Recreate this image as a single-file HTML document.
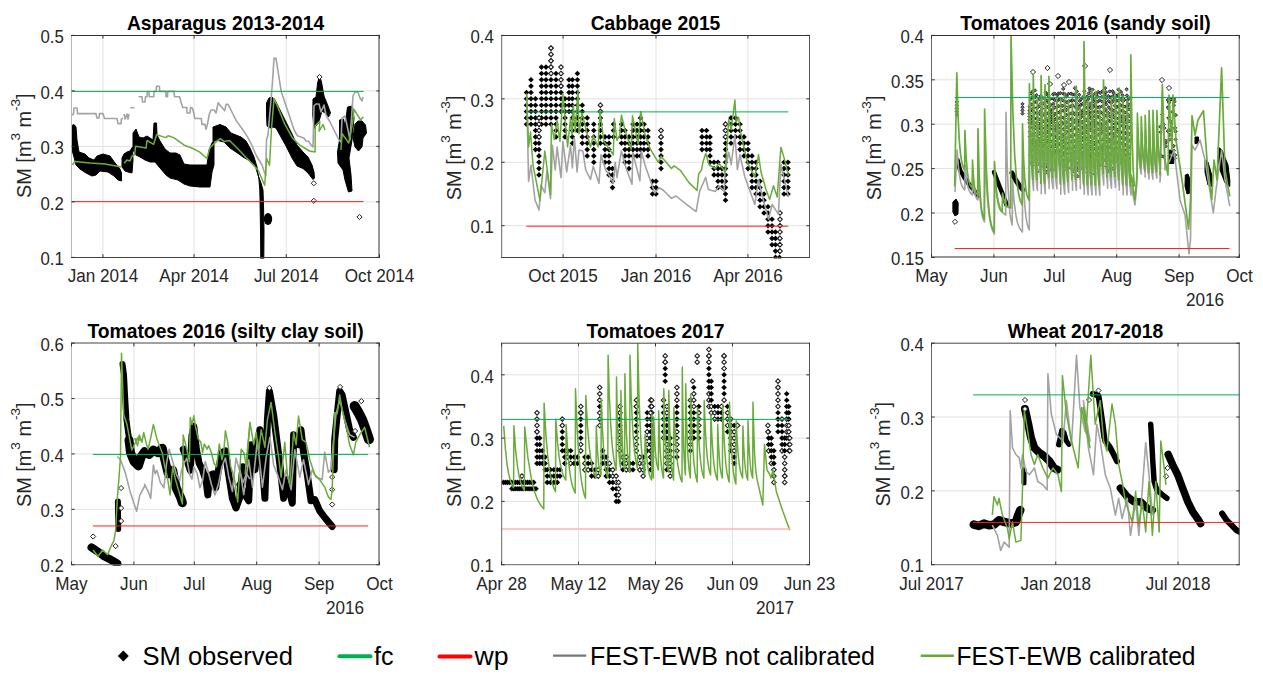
<!DOCTYPE html>
<html><head><meta charset="utf-8"><style>
html,body{margin:0;padding:0;background:#fff;width:1263px;height:683px;overflow:hidden}
svg{display:block}
text{font-family:"Liberation Sans", sans-serif;fill:#262626}
.tk{font-size:17.4px}
.ti{font-size:19.3px;font-weight:bold;fill:#000}
.yl{font-size:19.9px}
.sup{font-size:13.5px}
.lg{font-size:25px;fill:#000}
</style></head><body>
<svg width="1263" height="683" viewBox="0 0 1263 683">
<rect width="1263" height="683" fill="#fff"/>
<line x1="71.5" y1="201.90" x2="379.5" y2="201.90" stroke="#e2e2e2" stroke-width="1"/>
<line x1="71.5" y1="146.40" x2="379.5" y2="146.40" stroke="#e2e2e2" stroke-width="1"/>
<line x1="71.5" y1="90.90" x2="379.5" y2="90.90" stroke="#e2e2e2" stroke-width="1"/>
<line x1="102.91" y1="35.4" x2="102.91" y2="257.4" stroke="#e2e2e2" stroke-width="1"/>
<line x1="194.09" y1="35.4" x2="194.09" y2="257.4" stroke="#e2e2e2" stroke-width="1"/>
<line x1="286.29" y1="35.4" x2="286.29" y2="257.4" stroke="#e2e2e2" stroke-width="1"/>
<clipPath id="c1"><rect x="71.5" y="35.4" width="308.0" height="222.99999999999997"/></clipPath>
<g clip-path="url(#c1)">
<polygon points="71.0,126.0 74.0,124.5 76.0,127.0 77.0,140.0 79.0,152.0 85.0,154.0 89.0,158.0 94.0,160.0 97.0,156.0 103.0,154.0 110.0,156.0 115.0,163.0 120.0,169.0 121.5,173.0 121.5,181.0 118.0,180.0 114.0,176.0 108.0,172.0 100.0,171.0 96.0,175.0 92.0,176.0 86.0,173.0 80.0,169.0 76.0,165.0 74.0,157.0 72.0,150.0 71.0,145.0" fill="#000" stroke="#000" stroke-width="1" stroke-linejoin="round"/>
<polygon points="122.0,158.0 124.0,154.0 127.0,152.0 130.0,151.0 132.5,147.0 133.0,160.0 132.0,173.0 128.0,172.0 125.0,171.0 122.0,167.0" fill="#000" stroke="#000" stroke-width="1" stroke-linejoin="round"/>
<polygon points="133.0,133.0 136.0,129.0 139.0,137.0 143.0,138.0 147.0,136.0 150.0,138.0 153.0,140.0 154.0,123.0 156.5,123.0 157.0,135.0 160.0,141.0 165.0,149.0 170.0,153.0 176.0,153.0 180.0,155.0 184.0,164.0 190.0,165.0 200.0,165.0 207.0,165.0 209.0,150.0 212.0,143.0 214.0,140.0 214.0,165.0 212.0,172.0 210.0,187.0 205.0,187.0 200.0,187.0 190.0,186.0 184.0,184.0 178.0,180.0 170.0,178.0 166.0,175.0 160.0,168.0 155.0,162.0 150.0,162.0 145.0,160.0 140.0,157.0 136.0,155.0 133.0,150.0" fill="#000" stroke="#000" stroke-width="1" stroke-linejoin="round"/>
<polygon points="213.0,127.0 220.0,124.5 226.0,127.0 231.0,133.0 236.0,135.0 241.0,137.0 246.0,141.0 250.0,148.0 254.0,157.0 257.0,167.0 259.0,180.0 259.8,190.0 260.0,200.0 260.5,230.0 260.8,259.0 263.8,259.0 264.0,230.0 263.5,205.0 263.0,190.0 261.0,183.0 258.0,175.0 255.0,165.0 250.0,161.0 243.0,157.0 236.0,152.0 230.0,148.0 224.0,142.0 218.0,140.5 213.0,141.0" fill="#000" stroke="#000" stroke-width="1" stroke-linejoin="round"/>
<polygon points="266.5,103.0 269.0,98.0 272.0,97.0 275.0,100.0 280.0,110.0 286.0,122.0 292.0,134.0 297.0,145.0 303.0,152.0 308.0,157.0 312.0,165.0 314.0,172.0 314.5,178.0 313.0,179.5 308.0,173.0 303.0,168.5 297.0,166.0 292.0,158.0 286.0,146.0 281.0,137.0 276.0,128.0 273.0,127.0 270.0,128.0 267.0,126.0 266.5,115.0" fill="#000" stroke="#000" stroke-width="1" stroke-linejoin="round"/>
<polygon points="313.0,99.0 316.0,97.0 317.6,83.0 319.5,76.0 321.5,82.0 324.0,96.0 328.0,106.0 330.5,113.0 328.5,117.0 325.0,113.0 322.0,111.0 318.5,123.0 314.0,128.5 312.8,115.0" fill="#000" stroke="#000" stroke-width="1" stroke-linejoin="round"/>
<polygon points="339.5,120.0 343.5,119.0 345.0,126.0 347.5,107.0 352.5,106.0 354.0,118.0 352.0,140.0 349.0,158.0 351.0,175.0 352.0,191.0 348.5,192.0 345.0,180.0 343.0,170.0 338.0,163.0 337.5,152.0 339.5,140.0" fill="#000" stroke="#000" stroke-width="1" stroke-linejoin="round"/>
<polygon points="355.0,124.0 358.0,121.0 362.0,121.0 365.5,125.0 366.5,133.0 363.0,138.0 362.0,147.0 358.5,151.0 355.0,147.0 353.0,138.0" fill="#000" stroke="#000" stroke-width="1" stroke-linejoin="round"/>
<ellipse cx="268" cy="219" rx="4.2" ry="6" fill="#000"/>
<path d="M313.8 180.7l2.6 2.6l-2.6 2.6l-2.6 -2.6z" fill="#fff" stroke="#222" stroke-width="1"/>
<path d="M313.8 198.2l2.6 2.6l-2.6 2.6l-2.6 -2.6z" fill="#fff" stroke="#222" stroke-width="1"/>
<path d="M359.5 214.4l2.6 2.6l-2.6 2.6l-2.6 -2.6z" fill="#fff" stroke="#222" stroke-width="1"/>
<path d="M319.5 74.4l2.6 2.6l-2.6 2.6l-2.6 -2.6z" fill="#fff" stroke="#222" stroke-width="1"/>
<polyline points="72.0,115.0 73.5,114.0 74.0,108.0 77.0,108.0 77.5,113.6 96.0,113.6 97.0,118.0 99.0,118.0 99.5,113.6 103.0,113.6 104.5,118.5 117.0,118.5 118.0,123.6 121.0,123.6 121.5,118.5 123.0,118.5" fill="none" stroke="#a3a3a3" stroke-width="1.6" stroke-linejoin="round"/>
<polyline points="124.0,114.0 125.0,119.0 127.0,114.0 128.0,119.0 129.0,114.0" fill="none" stroke="#a3a3a3" stroke-width="1.6" stroke-linejoin="round"/>
<polyline points="130.4,107.8 134.5,107.8" fill="none" stroke="#a3a3a3" stroke-width="1.6" stroke-linejoin="round"/>
<polyline points="138.5,96.7 142.0,96.7 142.5,102.0 145.0,102.0 145.5,96.7 147.0,96.7 147.3,91.7 149.0,91.7 149.3,96.7 153.8,96.7 154.0,91.4 156.2,91.4 156.4,86.2 159.4,86.2 159.6,91.4 165.8,91.4 166.0,96.7 167.5,96.7 167.7,91.4 174.0,91.4 174.5,96.7 179.6,96.7 181.2,102.7 182.8,107.5 186.8,107.5 187.0,113.0 190.0,113.0 190.5,107.5 192.5,108.3 194.0,114.0 194.9,118.5 201.3,118.5 202.0,124.4 205.0,124.4 206.0,129.3 207.5,124.0 209.4,114.0 211.0,110.0 214.0,110.0 216.0,113.0 218.2,102.7 221.5,107.0 224.8,110.7 226.0,104.3 228.0,104.3 229.7,107.5 236.1,120.4 244.2,131.7 248.2,138.1 252.2,146.0 256.0,155.0 262.0,165.0 265.7,175.7 266.5,140.0 268.0,135.0 272.4,83.3 274.0,58.4 276.0,58.4 281.2,91.4 287.7,110.7 294.1,130.0 297.3,135.7 303.8,138.0 306.0,141.0 308.6,141.3 311.0,145.0 313.0,147.0 314.0,106.0 316.0,104.0 319.0,104.0 321.0,112.0 324.0,105.0 326.0,115.0 330.0,122.0 335.0,132.0 339.0,140.0 341.0,142.0 342.0,118.0 345.0,116.0 348.0,130.0 350.0,140.0 351.0,125.0 353.0,96.0 355.0,92.0 358.0,92.5 360.0,98.0 362.0,101.0 363.0,97.0" fill="none" stroke="#a3a3a3" stroke-width="1.6" stroke-linejoin="round"/>
<polyline points="72.5,165.0 74.8,161.4 90.0,163.0 105.0,164.0 121.4,167.0" fill="none" stroke="#6aab3c" stroke-width="1.5" stroke-linejoin="round"/>
<polyline points="124.2,163.3 127.0,160.0 130.0,161.0 132.0,156.0 134.7,154.7 135.6,146.2 146.1,148.0 147.0,140.5 153.7,144.3 156.6,134.8 166.1,137.6 168.0,135.7 173.7,137.6 184.2,145.2 191.8,148.0 199.4,151.9 207.0,158.5 209.8,148.0 216.5,141.4 220.3,138.6 224.1,141.4 229.5,140.5 239.0,150.0 258.0,170.0 264.7,185.2 266.6,158.5 269.5,165.2 271.4,130.0 274.0,98.6 278.0,107.5 284.5,123.6 292.5,138.1 299.9,145.2 309.4,151.0 315.1,151.9 315.2,125.9 319.8,121.3 319.1,131.2 323.0,124.6 325.0,130.0" fill="none" stroke="#6aab3c" stroke-width="1.5" stroke-linejoin="round"/>
<polyline points="340.9,150.0 342.2,133.8 348.8,143.0 352.7,122.0 354.0,109.4 360.6,120.0 363.3,116.7" fill="none" stroke="#6aab3c" stroke-width="1.5" stroke-linejoin="round"/>
<line x1="72" y1="91.40" x2="363.5" y2="91.40" stroke="#00b050" stroke-width="1"/>
<line x1="72" y1="201.60" x2="363.5" y2="201.60" stroke="#ff2020" stroke-width="1"/>
</g>
<line x1="71.5" y1="35.0" x2="71.5" y2="258.0" stroke="#b8b8b8" stroke-width="1"/>
<line x1="379.0" y1="35.0" x2="379.0" y2="258.0" stroke="#333" stroke-width="1"/>
<line x1="71.0" y1="35.5" x2="379.5" y2="35.5" stroke="#333" stroke-width="1"/>
<line x1="71.0" y1="257.5" x2="379.5" y2="257.5" stroke="#404040" stroke-width="1"/>
<path d="M71.5 257.40h3.2M379.5 257.40h-3.2" stroke="#333" stroke-width="1"/>
<text transform="translate(63.8,265.10) scale(0.965,1.09)" text-anchor="end" class="tk">0.1</text>
<path d="M71.5 201.90h3.2M379.5 201.90h-3.2" stroke="#333" stroke-width="1"/>
<text transform="translate(63.8,209.60) scale(0.965,1.09)" text-anchor="end" class="tk">0.2</text>
<path d="M71.5 146.40h3.2M379.5 146.40h-3.2" stroke="#333" stroke-width="1"/>
<text transform="translate(63.8,154.10) scale(0.965,1.09)" text-anchor="end" class="tk">0.3</text>
<path d="M71.5 90.90h3.2M379.5 90.90h-3.2" stroke="#333" stroke-width="1"/>
<text transform="translate(63.8,98.60) scale(0.965,1.09)" text-anchor="end" class="tk">0.4</text>
<path d="M71.5 35.40h3.2M379.5 35.40h-3.2" stroke="#333" stroke-width="1"/>
<text transform="translate(63.8,43.10) scale(0.965,1.09)" text-anchor="end" class="tk">0.5</text>
<path d="M102.91 257.4v-3.2M102.91 35.4v3.2" stroke="#333" stroke-width="1"/>
<text transform="translate(102.91,281.80) scale(0.985,1.09)" text-anchor="middle" class="tk">Jan 2014</text>
<path d="M194.09 257.4v-3.2M194.09 35.4v3.2" stroke="#333" stroke-width="1"/>
<text transform="translate(194.09,281.80) scale(0.985,1.09)" text-anchor="middle" class="tk">Apr 2014</text>
<path d="M286.29 257.4v-3.2M286.29 35.4v3.2" stroke="#333" stroke-width="1"/>
<text transform="translate(286.29,281.80) scale(0.985,1.09)" text-anchor="middle" class="tk">Jul 2014</text>
<path d="M379.50 257.4v-3.2M379.50 35.4v3.2" stroke="#333" stroke-width="1"/>
<text transform="translate(379.50,281.80) scale(0.985,1.09)" text-anchor="middle" class="tk">Oct 2014</text>
<text x="225.50" y="30.20" text-anchor="middle" class="ti">Asparagus 2013-2014</text>
<text transform="translate(30.9,145.7) rotate(-90)" text-anchor="middle" class="yl">SM [m<tspan class="sup" dy="-10.7">3</tspan><tspan dy="10.7"> m</tspan><tspan class="sup" dy="-10.7">-3</tspan><tspan dy="10.7">]</tspan></text>
<line x1="501.5" y1="225.69" x2="809.5" y2="225.69" stroke="#e2e2e2" stroke-width="1"/>
<line x1="501.5" y1="162.26" x2="809.5" y2="162.26" stroke="#e2e2e2" stroke-width="1"/>
<line x1="501.5" y1="98.83" x2="809.5" y2="98.83" stroke="#e2e2e2" stroke-width="1"/>
<line x1="563.10" y1="35.4" x2="563.10" y2="257.4" stroke="#e2e2e2" stroke-width="1"/>
<line x1="656.00" y1="35.4" x2="656.00" y2="257.4" stroke="#e2e2e2" stroke-width="1"/>
<line x1="747.90" y1="35.4" x2="747.90" y2="257.4" stroke="#e2e2e2" stroke-width="1"/>
<clipPath id="c2"><rect x="501.5" y="35.4" width="308.0" height="222.99999999999997"/></clipPath>
<g clip-path="url(#c2)">
<path d="M526.5 121.4l2.8 2.8l-2.8 2.8l-2.8 -2.8z" fill="#000"/>
<path d="M526.5 115.1l2.8 2.8l-2.8 2.8l-2.8 -2.8z" fill="#000"/>
<path d="M526.5 108.7l2.8 2.8l-2.8 2.8l-2.8 -2.8z" fill="#000"/>
<path d="M526.5 102.4l2.8 2.8l-2.8 2.8l-2.8 -2.8z" fill="#000"/>
<path d="M526.5 96.0l2.8 2.8l-2.8 2.8l-2.8 -2.8z" fill="#000"/>
<path d="M526.5 89.7l2.8 2.8l-2.8 2.8l-2.8 -2.8z" fill="#000"/>
<path d="M531.0 121.4l2.8 2.8l-2.8 2.8l-2.8 -2.8z" fill="#000"/>
<path d="M531.0 115.1l2.8 2.8l-2.8 2.8l-2.8 -2.8z" fill="#000"/>
<path d="M531.0 108.7l2.8 2.8l-2.8 2.8l-2.8 -2.8z" fill="#000"/>
<path d="M531.0 102.4l2.8 2.8l-2.8 2.8l-2.8 -2.8z" fill="#000"/>
<path d="M531.0 96.0l2.8 2.8l-2.8 2.8l-2.8 -2.8z" fill="#000"/>
<path d="M531.0 89.7l2.8 2.8l-2.8 2.8l-2.8 -2.8z" fill="#000"/>
<path d="M531.0 83.3l2.8 2.8l-2.8 2.8l-2.8 -2.8z" fill="#000"/>
<path d="M531.0 77.0l2.8 2.8l-2.8 2.8l-2.8 -2.8z" fill="#000"/>
<path d="M535.5 146.8l2.8 2.8l-2.8 2.8l-2.8 -2.8z" fill="#000"/>
<path d="M535.5 140.4l2.8 2.8l-2.8 2.8l-2.8 -2.8z" fill="#000"/>
<path d="M535.5 134.1l2.8 2.8l-2.8 2.8l-2.8 -2.8z" fill="#000"/>
<path d="M535.5 127.7l2.8 2.8l-2.8 2.8l-2.8 -2.8z" fill="#000"/>
<path d="M535.5 121.4l2.8 2.8l-2.8 2.8l-2.8 -2.8z" fill="#000"/>
<path d="M535.5 115.1l2.8 2.8l-2.8 2.8l-2.8 -2.8z" fill="#000"/>
<path d="M535.5 108.7l2.8 2.8l-2.8 2.8l-2.8 -2.8z" fill="#000"/>
<path d="M535.5 102.4l2.8 2.8l-2.8 2.8l-2.8 -2.8z" fill="#000"/>
<path d="M535.5 96.0l2.8 2.8l-2.8 2.8l-2.8 -2.8z" fill="#000"/>
<path d="M539.0 172.1l2.8 2.8l-2.8 2.8l-2.8 -2.8z" fill="#000"/>
<path d="M539.0 165.8l2.8 2.8l-2.8 2.8l-2.8 -2.8z" fill="#000"/>
<path d="M539.0 159.5l2.8 2.8l-2.8 2.8l-2.8 -2.8z" fill="#000"/>
<path d="M539.0 153.1l2.8 2.8l-2.8 2.8l-2.8 -2.8z" fill="#000"/>
<path d="M539.0 146.8l2.8 2.8l-2.8 2.8l-2.8 -2.8z" fill="#000"/>
<path d="M539.0 140.4l2.8 2.8l-2.8 2.8l-2.8 -2.8z" fill="#000"/>
<path d="M539.0 134.1l2.8 2.8l-2.8 2.8l-2.8 -2.8z" fill="#000"/>
<path d="M539.0 127.7l2.8 2.8l-2.8 2.8l-2.8 -2.8z" fill="#000"/>
<path d="M539.0 121.4l2.8 2.8l-2.8 2.8l-2.8 -2.8z" fill="#000"/>
<path d="M539.0 115.1l2.8 2.8l-2.8 2.8l-2.8 -2.8z" fill="#000"/>
<path d="M541.5 121.4l2.8 2.8l-2.8 2.8l-2.8 -2.8z" fill="#000"/>
<path d="M541.5 115.1l2.8 2.8l-2.8 2.8l-2.8 -2.8z" fill="#000"/>
<path d="M541.5 108.7l2.8 2.8l-2.8 2.8l-2.8 -2.8z" fill="#000"/>
<path d="M541.5 102.4l2.8 2.8l-2.8 2.8l-2.8 -2.8z" fill="#000"/>
<path d="M541.5 96.0l2.8 2.8l-2.8 2.8l-2.8 -2.8z" fill="#000"/>
<path d="M541.5 89.7l2.8 2.8l-2.8 2.8l-2.8 -2.8z" fill="#000"/>
<path d="M541.5 83.3l2.8 2.8l-2.8 2.8l-2.8 -2.8z" fill="#000"/>
<path d="M541.5 77.0l2.8 2.8l-2.8 2.8l-2.8 -2.8z" fill="#000"/>
<path d="M541.5 70.7l2.8 2.8l-2.8 2.8l-2.8 -2.8z" fill="#000"/>
<path d="M541.5 64.3l2.8 2.8l-2.8 2.8l-2.8 -2.8z" fill="#000"/>
<path d="M546.0 121.4l2.8 2.8l-2.8 2.8l-2.8 -2.8z" fill="#000"/>
<path d="M546.0 115.1l2.8 2.8l-2.8 2.8l-2.8 -2.8z" fill="#000"/>
<path d="M546.0 108.7l2.8 2.8l-2.8 2.8l-2.8 -2.8z" fill="#000"/>
<path d="M546.0 102.4l2.8 2.8l-2.8 2.8l-2.8 -2.8z" fill="#000"/>
<path d="M546.0 96.0l2.8 2.8l-2.8 2.8l-2.8 -2.8z" fill="#000"/>
<path d="M546.0 89.7l2.8 2.8l-2.8 2.8l-2.8 -2.8z" fill="#000"/>
<path d="M546.0 83.3l2.8 2.8l-2.8 2.8l-2.8 -2.8z" fill="#000"/>
<path d="M546.0 77.0l2.8 2.8l-2.8 2.8l-2.8 -2.8z" fill="#000"/>
<path d="M546.0 70.7l2.8 2.8l-2.8 2.8l-2.8 -2.8z" fill="#000"/>
<path d="M546.0 64.3l2.8 2.8l-2.8 2.8l-2.8 -2.8z" fill="#000"/>
<path d="M551.0 121.4l2.8 2.8l-2.8 2.8l-2.8 -2.8z" fill="#000"/>
<path d="M551.0 115.1l2.8 2.8l-2.8 2.8l-2.8 -2.8z" fill="#000"/>
<path d="M551.0 108.7l2.8 2.8l-2.8 2.8l-2.8 -2.8z" fill="#000"/>
<path d="M551.0 102.4l2.8 2.8l-2.8 2.8l-2.8 -2.8z" fill="#000"/>
<path d="M551.0 96.0l2.8 2.8l-2.8 2.8l-2.8 -2.8z" fill="#000"/>
<path d="M551.0 89.7l2.8 2.8l-2.8 2.8l-2.8 -2.8z" fill="#000"/>
<path d="M551.0 83.3l2.8 2.8l-2.8 2.8l-2.8 -2.8z" fill="#000"/>
<path d="M551.0 77.0l2.8 2.8l-2.8 2.8l-2.8 -2.8z" fill="#000"/>
<path d="M551.0 70.7l2.8 2.8l-2.8 2.8l-2.8 -2.8z" fill="#000"/>
<path d="M551.0 64.3l2.8 2.8l-2.8 2.8l-2.8 -2.8z" fill="#000"/>
<path d="M551.0 58.0l2.8 2.8l-2.8 2.8l-2.8 -2.8z" fill="#000"/>
<path d="M551.0 51.6l2.8 2.8l-2.8 2.8l-2.8 -2.8z" fill="#000"/>
<path d="M551.0 45.3l2.8 2.8l-2.8 2.8l-2.8 -2.8z" fill="#000"/>
<path d="M556.0 134.1l2.8 2.8l-2.8 2.8l-2.8 -2.8z" fill="#000"/>
<path d="M556.0 127.7l2.8 2.8l-2.8 2.8l-2.8 -2.8z" fill="#000"/>
<path d="M556.0 121.4l2.8 2.8l-2.8 2.8l-2.8 -2.8z" fill="#000"/>
<path d="M556.0 115.1l2.8 2.8l-2.8 2.8l-2.8 -2.8z" fill="#000"/>
<path d="M556.0 108.7l2.8 2.8l-2.8 2.8l-2.8 -2.8z" fill="#000"/>
<path d="M556.0 102.4l2.8 2.8l-2.8 2.8l-2.8 -2.8z" fill="#000"/>
<path d="M556.0 96.0l2.8 2.8l-2.8 2.8l-2.8 -2.8z" fill="#000"/>
<path d="M556.0 89.7l2.8 2.8l-2.8 2.8l-2.8 -2.8z" fill="#000"/>
<path d="M556.0 83.3l2.8 2.8l-2.8 2.8l-2.8 -2.8z" fill="#000"/>
<path d="M556.0 77.0l2.8 2.8l-2.8 2.8l-2.8 -2.8z" fill="#000"/>
<path d="M556.0 70.7l2.8 2.8l-2.8 2.8l-2.8 -2.8z" fill="#000"/>
<path d="M561.0 108.7l2.8 2.8l-2.8 2.8l-2.8 -2.8z" fill="#000"/>
<path d="M561.0 102.4l2.8 2.8l-2.8 2.8l-2.8 -2.8z" fill="#000"/>
<path d="M561.0 96.0l2.8 2.8l-2.8 2.8l-2.8 -2.8z" fill="#000"/>
<path d="M561.0 89.7l2.8 2.8l-2.8 2.8l-2.8 -2.8z" fill="#000"/>
<path d="M561.0 83.3l2.8 2.8l-2.8 2.8l-2.8 -2.8z" fill="#000"/>
<path d="M565.0 134.1l2.8 2.8l-2.8 2.8l-2.8 -2.8z" fill="#000"/>
<path d="M565.0 127.7l2.8 2.8l-2.8 2.8l-2.8 -2.8z" fill="#000"/>
<path d="M565.0 121.4l2.8 2.8l-2.8 2.8l-2.8 -2.8z" fill="#000"/>
<path d="M565.0 115.1l2.8 2.8l-2.8 2.8l-2.8 -2.8z" fill="#000"/>
<path d="M565.0 108.7l2.8 2.8l-2.8 2.8l-2.8 -2.8z" fill="#000"/>
<path d="M565.0 102.4l2.8 2.8l-2.8 2.8l-2.8 -2.8z" fill="#000"/>
<path d="M565.0 96.0l2.8 2.8l-2.8 2.8l-2.8 -2.8z" fill="#000"/>
<path d="M569.0 108.7l2.8 2.8l-2.8 2.8l-2.8 -2.8z" fill="#000"/>
<path d="M569.0 102.4l2.8 2.8l-2.8 2.8l-2.8 -2.8z" fill="#000"/>
<path d="M569.0 96.0l2.8 2.8l-2.8 2.8l-2.8 -2.8z" fill="#000"/>
<path d="M569.0 89.7l2.8 2.8l-2.8 2.8l-2.8 -2.8z" fill="#000"/>
<path d="M569.0 83.3l2.8 2.8l-2.8 2.8l-2.8 -2.8z" fill="#000"/>
<path d="M569.0 77.0l2.8 2.8l-2.8 2.8l-2.8 -2.8z" fill="#000"/>
<path d="M572.4 140.4l2.8 2.8l-2.8 2.8l-2.8 -2.8z" fill="#000"/>
<path d="M572.4 134.1l2.8 2.8l-2.8 2.8l-2.8 -2.8z" fill="#000"/>
<path d="M572.4 127.7l2.8 2.8l-2.8 2.8l-2.8 -2.8z" fill="#000"/>
<path d="M572.4 121.4l2.8 2.8l-2.8 2.8l-2.8 -2.8z" fill="#000"/>
<path d="M572.4 115.1l2.8 2.8l-2.8 2.8l-2.8 -2.8z" fill="#000"/>
<path d="M572.4 108.7l2.8 2.8l-2.8 2.8l-2.8 -2.8z" fill="#000"/>
<path d="M572.4 102.4l2.8 2.8l-2.8 2.8l-2.8 -2.8z" fill="#000"/>
<path d="M572.4 96.0l2.8 2.8l-2.8 2.8l-2.8 -2.8z" fill="#000"/>
<path d="M572.4 89.7l2.8 2.8l-2.8 2.8l-2.8 -2.8z" fill="#000"/>
<path d="M572.4 83.3l2.8 2.8l-2.8 2.8l-2.8 -2.8z" fill="#000"/>
<path d="M572.4 77.0l2.8 2.8l-2.8 2.8l-2.8 -2.8z" fill="#000"/>
<path d="M577.4 127.7l2.8 2.8l-2.8 2.8l-2.8 -2.8z" fill="#000"/>
<path d="M577.4 121.4l2.8 2.8l-2.8 2.8l-2.8 -2.8z" fill="#000"/>
<path d="M577.4 115.1l2.8 2.8l-2.8 2.8l-2.8 -2.8z" fill="#000"/>
<path d="M577.4 108.7l2.8 2.8l-2.8 2.8l-2.8 -2.8z" fill="#000"/>
<path d="M577.4 102.4l2.8 2.8l-2.8 2.8l-2.8 -2.8z" fill="#000"/>
<path d="M577.4 96.0l2.8 2.8l-2.8 2.8l-2.8 -2.8z" fill="#000"/>
<path d="M577.4 89.7l2.8 2.8l-2.8 2.8l-2.8 -2.8z" fill="#000"/>
<path d="M577.4 83.3l2.8 2.8l-2.8 2.8l-2.8 -2.8z" fill="#000"/>
<path d="M577.4 77.0l2.8 2.8l-2.8 2.8l-2.8 -2.8z" fill="#000"/>
<path d="M577.4 70.7l2.8 2.8l-2.8 2.8l-2.8 -2.8z" fill="#000"/>
<path d="M582.3 140.4l2.8 2.8l-2.8 2.8l-2.8 -2.8z" fill="#000"/>
<path d="M582.3 134.1l2.8 2.8l-2.8 2.8l-2.8 -2.8z" fill="#000"/>
<path d="M582.3 127.7l2.8 2.8l-2.8 2.8l-2.8 -2.8z" fill="#000"/>
<path d="M582.3 121.4l2.8 2.8l-2.8 2.8l-2.8 -2.8z" fill="#000"/>
<path d="M582.3 115.1l2.8 2.8l-2.8 2.8l-2.8 -2.8z" fill="#000"/>
<path d="M582.3 108.7l2.8 2.8l-2.8 2.8l-2.8 -2.8z" fill="#000"/>
<path d="M582.3 102.4l2.8 2.8l-2.8 2.8l-2.8 -2.8z" fill="#000"/>
<path d="M587.2 153.1l2.8 2.8l-2.8 2.8l-2.8 -2.8z" fill="#000"/>
<path d="M587.2 146.8l2.8 2.8l-2.8 2.8l-2.8 -2.8z" fill="#000"/>
<path d="M587.2 140.4l2.8 2.8l-2.8 2.8l-2.8 -2.8z" fill="#000"/>
<path d="M587.2 134.1l2.8 2.8l-2.8 2.8l-2.8 -2.8z" fill="#000"/>
<path d="M587.2 127.7l2.8 2.8l-2.8 2.8l-2.8 -2.8z" fill="#000"/>
<path d="M587.2 121.4l2.8 2.8l-2.8 2.8l-2.8 -2.8z" fill="#000"/>
<path d="M587.2 115.1l2.8 2.8l-2.8 2.8l-2.8 -2.8z" fill="#000"/>
<path d="M593.8 159.5l2.8 2.8l-2.8 2.8l-2.8 -2.8z" fill="#000"/>
<path d="M593.8 153.1l2.8 2.8l-2.8 2.8l-2.8 -2.8z" fill="#000"/>
<path d="M593.8 146.8l2.8 2.8l-2.8 2.8l-2.8 -2.8z" fill="#000"/>
<path d="M593.8 140.4l2.8 2.8l-2.8 2.8l-2.8 -2.8z" fill="#000"/>
<path d="M593.8 134.1l2.8 2.8l-2.8 2.8l-2.8 -2.8z" fill="#000"/>
<path d="M593.8 127.7l2.8 2.8l-2.8 2.8l-2.8 -2.8z" fill="#000"/>
<path d="M593.8 121.4l2.8 2.8l-2.8 2.8l-2.8 -2.8z" fill="#000"/>
<path d="M600.4 140.4l2.8 2.8l-2.8 2.8l-2.8 -2.8z" fill="#000"/>
<path d="M600.4 134.1l2.8 2.8l-2.8 2.8l-2.8 -2.8z" fill="#000"/>
<path d="M600.4 127.7l2.8 2.8l-2.8 2.8l-2.8 -2.8z" fill="#000"/>
<path d="M600.4 121.4l2.8 2.8l-2.8 2.8l-2.8 -2.8z" fill="#000"/>
<path d="M600.4 115.1l2.8 2.8l-2.8 2.8l-2.8 -2.8z" fill="#000"/>
<path d="M600.4 108.7l2.8 2.8l-2.8 2.8l-2.8 -2.8z" fill="#000"/>
<path d="M605.0 159.5l2.8 2.8l-2.8 2.8l-2.8 -2.8z" fill="#000"/>
<path d="M605.0 153.1l2.8 2.8l-2.8 2.8l-2.8 -2.8z" fill="#000"/>
<path d="M605.0 146.8l2.8 2.8l-2.8 2.8l-2.8 -2.8z" fill="#000"/>
<path d="M605.0 140.4l2.8 2.8l-2.8 2.8l-2.8 -2.8z" fill="#000"/>
<path d="M605.0 134.1l2.8 2.8l-2.8 2.8l-2.8 -2.8z" fill="#000"/>
<path d="M609.0 172.1l2.8 2.8l-2.8 2.8l-2.8 -2.8z" fill="#000"/>
<path d="M609.0 165.8l2.8 2.8l-2.8 2.8l-2.8 -2.8z" fill="#000"/>
<path d="M609.0 159.5l2.8 2.8l-2.8 2.8l-2.8 -2.8z" fill="#000"/>
<path d="M609.0 153.1l2.8 2.8l-2.8 2.8l-2.8 -2.8z" fill="#000"/>
<path d="M609.0 146.8l2.8 2.8l-2.8 2.8l-2.8 -2.8z" fill="#000"/>
<path d="M609.0 140.4l2.8 2.8l-2.8 2.8l-2.8 -2.8z" fill="#000"/>
<path d="M609.0 134.1l2.8 2.8l-2.8 2.8l-2.8 -2.8z" fill="#000"/>
<path d="M612.5 184.8l2.8 2.8l-2.8 2.8l-2.8 -2.8z" fill="#000"/>
<path d="M612.5 178.5l2.8 2.8l-2.8 2.8l-2.8 -2.8z" fill="#000"/>
<path d="M612.5 172.1l2.8 2.8l-2.8 2.8l-2.8 -2.8z" fill="#000"/>
<path d="M612.5 165.8l2.8 2.8l-2.8 2.8l-2.8 -2.8z" fill="#000"/>
<path d="M613.5 134.1l2.8 2.8l-2.8 2.8l-2.8 -2.8z" fill="#000"/>
<path d="M613.5 127.7l2.8 2.8l-2.8 2.8l-2.8 -2.8z" fill="#000"/>
<path d="M613.5 121.4l2.8 2.8l-2.8 2.8l-2.8 -2.8z" fill="#000"/>
<path d="M621.5 140.4l2.8 2.8l-2.8 2.8l-2.8 -2.8z" fill="#000"/>
<path d="M621.5 134.1l2.8 2.8l-2.8 2.8l-2.8 -2.8z" fill="#000"/>
<path d="M621.5 127.7l2.8 2.8l-2.8 2.8l-2.8 -2.8z" fill="#000"/>
<path d="M621.5 121.4l2.8 2.8l-2.8 2.8l-2.8 -2.8z" fill="#000"/>
<path d="M625.0 159.5l2.8 2.8l-2.8 2.8l-2.8 -2.8z" fill="#000"/>
<path d="M625.0 153.1l2.8 2.8l-2.8 2.8l-2.8 -2.8z" fill="#000"/>
<path d="M625.0 146.8l2.8 2.8l-2.8 2.8l-2.8 -2.8z" fill="#000"/>
<path d="M625.0 140.4l2.8 2.8l-2.8 2.8l-2.8 -2.8z" fill="#000"/>
<path d="M625.0 134.1l2.8 2.8l-2.8 2.8l-2.8 -2.8z" fill="#000"/>
<path d="M625.0 127.7l2.8 2.8l-2.8 2.8l-2.8 -2.8z" fill="#000"/>
<path d="M629.0 165.8l2.8 2.8l-2.8 2.8l-2.8 -2.8z" fill="#000"/>
<path d="M629.0 159.5l2.8 2.8l-2.8 2.8l-2.8 -2.8z" fill="#000"/>
<path d="M629.0 153.1l2.8 2.8l-2.8 2.8l-2.8 -2.8z" fill="#000"/>
<path d="M629.0 146.8l2.8 2.8l-2.8 2.8l-2.8 -2.8z" fill="#000"/>
<path d="M629.0 140.4l2.8 2.8l-2.8 2.8l-2.8 -2.8z" fill="#000"/>
<path d="M629.0 134.1l2.8 2.8l-2.8 2.8l-2.8 -2.8z" fill="#000"/>
<path d="M633.0 153.1l2.8 2.8l-2.8 2.8l-2.8 -2.8z" fill="#000"/>
<path d="M633.0 146.8l2.8 2.8l-2.8 2.8l-2.8 -2.8z" fill="#000"/>
<path d="M633.0 140.4l2.8 2.8l-2.8 2.8l-2.8 -2.8z" fill="#000"/>
<path d="M633.0 134.1l2.8 2.8l-2.8 2.8l-2.8 -2.8z" fill="#000"/>
<path d="M633.0 127.7l2.8 2.8l-2.8 2.8l-2.8 -2.8z" fill="#000"/>
<path d="M633.0 121.4l2.8 2.8l-2.8 2.8l-2.8 -2.8z" fill="#000"/>
<path d="M637.0 153.1l2.8 2.8l-2.8 2.8l-2.8 -2.8z" fill="#000"/>
<path d="M637.0 146.8l2.8 2.8l-2.8 2.8l-2.8 -2.8z" fill="#000"/>
<path d="M637.0 140.4l2.8 2.8l-2.8 2.8l-2.8 -2.8z" fill="#000"/>
<path d="M637.0 134.1l2.8 2.8l-2.8 2.8l-2.8 -2.8z" fill="#000"/>
<path d="M637.0 127.7l2.8 2.8l-2.8 2.8l-2.8 -2.8z" fill="#000"/>
<path d="M637.0 121.4l2.8 2.8l-2.8 2.8l-2.8 -2.8z" fill="#000"/>
<path d="M640.5 153.1l2.8 2.8l-2.8 2.8l-2.8 -2.8z" fill="#000"/>
<path d="M640.5 146.8l2.8 2.8l-2.8 2.8l-2.8 -2.8z" fill="#000"/>
<path d="M640.5 140.4l2.8 2.8l-2.8 2.8l-2.8 -2.8z" fill="#000"/>
<path d="M640.5 134.1l2.8 2.8l-2.8 2.8l-2.8 -2.8z" fill="#000"/>
<path d="M640.5 127.7l2.8 2.8l-2.8 2.8l-2.8 -2.8z" fill="#000"/>
<path d="M640.5 121.4l2.8 2.8l-2.8 2.8l-2.8 -2.8z" fill="#000"/>
<path d="M640.5 115.1l2.8 2.8l-2.8 2.8l-2.8 -2.8z" fill="#000"/>
<path d="M644.0 146.8l2.8 2.8l-2.8 2.8l-2.8 -2.8z" fill="#000"/>
<path d="M644.0 140.4l2.8 2.8l-2.8 2.8l-2.8 -2.8z" fill="#000"/>
<path d="M644.0 134.1l2.8 2.8l-2.8 2.8l-2.8 -2.8z" fill="#000"/>
<path d="M644.0 127.7l2.8 2.8l-2.8 2.8l-2.8 -2.8z" fill="#000"/>
<path d="M644.0 121.4l2.8 2.8l-2.8 2.8l-2.8 -2.8z" fill="#000"/>
<path d="M648.0 153.1l2.8 2.8l-2.8 2.8l-2.8 -2.8z" fill="#000"/>
<path d="M648.0 146.8l2.8 2.8l-2.8 2.8l-2.8 -2.8z" fill="#000"/>
<path d="M648.0 140.4l2.8 2.8l-2.8 2.8l-2.8 -2.8z" fill="#000"/>
<path d="M648.0 134.1l2.8 2.8l-2.8 2.8l-2.8 -2.8z" fill="#000"/>
<path d="M648.0 127.7l2.8 2.8l-2.8 2.8l-2.8 -2.8z" fill="#000"/>
<path d="M652.5 191.2l2.8 2.8l-2.8 2.8l-2.8 -2.8z" fill="#000"/>
<path d="M652.5 184.8l2.8 2.8l-2.8 2.8l-2.8 -2.8z" fill="#000"/>
<path d="M652.5 178.5l2.8 2.8l-2.8 2.8l-2.8 -2.8z" fill="#000"/>
<path d="M656.0 191.2l2.8 2.8l-2.8 2.8l-2.8 -2.8z" fill="#000"/>
<path d="M656.0 184.8l2.8 2.8l-2.8 2.8l-2.8 -2.8z" fill="#000"/>
<path d="M656.0 178.5l2.8 2.8l-2.8 2.8l-2.8 -2.8z" fill="#000"/>
<path d="M661.0 165.8l2.8 2.8l-2.8 2.8l-2.8 -2.8z" fill="#000"/>
<path d="M661.0 159.5l2.8 2.8l-2.8 2.8l-2.8 -2.8z" fill="#000"/>
<path d="M661.0 153.1l2.8 2.8l-2.8 2.8l-2.8 -2.8z" fill="#000"/>
<path d="M661.0 146.8l2.8 2.8l-2.8 2.8l-2.8 -2.8z" fill="#000"/>
<path d="M661.0 140.4l2.8 2.8l-2.8 2.8l-2.8 -2.8z" fill="#000"/>
<path d="M661.0 134.1l2.8 2.8l-2.8 2.8l-2.8 -2.8z" fill="#000"/>
<path d="M661.0 127.7l2.8 2.8l-2.8 2.8l-2.8 -2.8z" fill="#000"/>
<path d="M702.0 146.8l2.8 2.8l-2.8 2.8l-2.8 -2.8z" fill="#000"/>
<path d="M702.0 140.4l2.8 2.8l-2.8 2.8l-2.8 -2.8z" fill="#000"/>
<path d="M702.0 134.1l2.8 2.8l-2.8 2.8l-2.8 -2.8z" fill="#000"/>
<path d="M702.0 127.7l2.8 2.8l-2.8 2.8l-2.8 -2.8z" fill="#000"/>
<path d="M706.5 146.8l2.8 2.8l-2.8 2.8l-2.8 -2.8z" fill="#000"/>
<path d="M706.5 140.4l2.8 2.8l-2.8 2.8l-2.8 -2.8z" fill="#000"/>
<path d="M706.5 134.1l2.8 2.8l-2.8 2.8l-2.8 -2.8z" fill="#000"/>
<path d="M706.5 127.7l2.8 2.8l-2.8 2.8l-2.8 -2.8z" fill="#000"/>
<path d="M710.0 159.5l2.8 2.8l-2.8 2.8l-2.8 -2.8z" fill="#000"/>
<path d="M710.0 153.1l2.8 2.8l-2.8 2.8l-2.8 -2.8z" fill="#000"/>
<path d="M710.0 146.8l2.8 2.8l-2.8 2.8l-2.8 -2.8z" fill="#000"/>
<path d="M710.0 140.4l2.8 2.8l-2.8 2.8l-2.8 -2.8z" fill="#000"/>
<path d="M710.0 134.1l2.8 2.8l-2.8 2.8l-2.8 -2.8z" fill="#000"/>
<path d="M714.0 172.1l2.8 2.8l-2.8 2.8l-2.8 -2.8z" fill="#000"/>
<path d="M714.0 165.8l2.8 2.8l-2.8 2.8l-2.8 -2.8z" fill="#000"/>
<path d="M714.0 159.5l2.8 2.8l-2.8 2.8l-2.8 -2.8z" fill="#000"/>
<path d="M718.0 184.8l2.8 2.8l-2.8 2.8l-2.8 -2.8z" fill="#000"/>
<path d="M718.0 178.5l2.8 2.8l-2.8 2.8l-2.8 -2.8z" fill="#000"/>
<path d="M718.0 172.1l2.8 2.8l-2.8 2.8l-2.8 -2.8z" fill="#000"/>
<path d="M718.0 165.8l2.8 2.8l-2.8 2.8l-2.8 -2.8z" fill="#000"/>
<path d="M718.0 159.5l2.8 2.8l-2.8 2.8l-2.8 -2.8z" fill="#000"/>
<path d="M722.0 184.8l2.8 2.8l-2.8 2.8l-2.8 -2.8z" fill="#000"/>
<path d="M722.0 178.5l2.8 2.8l-2.8 2.8l-2.8 -2.8z" fill="#000"/>
<path d="M722.0 172.1l2.8 2.8l-2.8 2.8l-2.8 -2.8z" fill="#000"/>
<path d="M722.0 165.8l2.8 2.8l-2.8 2.8l-2.8 -2.8z" fill="#000"/>
<path d="M725.5 197.5l2.8 2.8l-2.8 2.8l-2.8 -2.8z" fill="#000"/>
<path d="M725.5 191.2l2.8 2.8l-2.8 2.8l-2.8 -2.8z" fill="#000"/>
<path d="M725.5 184.8l2.8 2.8l-2.8 2.8l-2.8 -2.8z" fill="#000"/>
<path d="M725.5 178.5l2.8 2.8l-2.8 2.8l-2.8 -2.8z" fill="#000"/>
<path d="M725.5 172.1l2.8 2.8l-2.8 2.8l-2.8 -2.8z" fill="#000"/>
<path d="M725.5 165.8l2.8 2.8l-2.8 2.8l-2.8 -2.8z" fill="#000"/>
<path d="M725.5 159.5l2.8 2.8l-2.8 2.8l-2.8 -2.8z" fill="#000"/>
<path d="M725.5 153.1l2.8 2.8l-2.8 2.8l-2.8 -2.8z" fill="#000"/>
<path d="M725.5 146.8l2.8 2.8l-2.8 2.8l-2.8 -2.8z" fill="#000"/>
<path d="M725.5 140.4l2.8 2.8l-2.8 2.8l-2.8 -2.8z" fill="#000"/>
<path d="M725.5 134.1l2.8 2.8l-2.8 2.8l-2.8 -2.8z" fill="#000"/>
<path d="M725.5 127.7l2.8 2.8l-2.8 2.8l-2.8 -2.8z" fill="#000"/>
<path d="M725.5 121.4l2.8 2.8l-2.8 2.8l-2.8 -2.8z" fill="#000"/>
<path d="M731.0 140.4l2.8 2.8l-2.8 2.8l-2.8 -2.8z" fill="#000"/>
<path d="M731.0 134.1l2.8 2.8l-2.8 2.8l-2.8 -2.8z" fill="#000"/>
<path d="M731.0 127.7l2.8 2.8l-2.8 2.8l-2.8 -2.8z" fill="#000"/>
<path d="M731.0 121.4l2.8 2.8l-2.8 2.8l-2.8 -2.8z" fill="#000"/>
<path d="M731.0 115.1l2.8 2.8l-2.8 2.8l-2.8 -2.8z" fill="#000"/>
<path d="M735.5 134.1l2.8 2.8l-2.8 2.8l-2.8 -2.8z" fill="#000"/>
<path d="M735.5 127.7l2.8 2.8l-2.8 2.8l-2.8 -2.8z" fill="#000"/>
<path d="M735.5 121.4l2.8 2.8l-2.8 2.8l-2.8 -2.8z" fill="#000"/>
<path d="M735.5 115.1l2.8 2.8l-2.8 2.8l-2.8 -2.8z" fill="#000"/>
<path d="M740.0 146.8l2.8 2.8l-2.8 2.8l-2.8 -2.8z" fill="#000"/>
<path d="M740.0 140.4l2.8 2.8l-2.8 2.8l-2.8 -2.8z" fill="#000"/>
<path d="M740.0 134.1l2.8 2.8l-2.8 2.8l-2.8 -2.8z" fill="#000"/>
<path d="M740.0 127.7l2.8 2.8l-2.8 2.8l-2.8 -2.8z" fill="#000"/>
<path d="M740.0 121.4l2.8 2.8l-2.8 2.8l-2.8 -2.8z" fill="#000"/>
<path d="M744.0 153.1l2.8 2.8l-2.8 2.8l-2.8 -2.8z" fill="#000"/>
<path d="M744.0 146.8l2.8 2.8l-2.8 2.8l-2.8 -2.8z" fill="#000"/>
<path d="M744.0 140.4l2.8 2.8l-2.8 2.8l-2.8 -2.8z" fill="#000"/>
<path d="M744.0 134.1l2.8 2.8l-2.8 2.8l-2.8 -2.8z" fill="#000"/>
<path d="M748.0 165.8l2.8 2.8l-2.8 2.8l-2.8 -2.8z" fill="#000"/>
<path d="M748.0 159.5l2.8 2.8l-2.8 2.8l-2.8 -2.8z" fill="#000"/>
<path d="M748.0 153.1l2.8 2.8l-2.8 2.8l-2.8 -2.8z" fill="#000"/>
<path d="M748.0 146.8l2.8 2.8l-2.8 2.8l-2.8 -2.8z" fill="#000"/>
<path d="M748.0 140.4l2.8 2.8l-2.8 2.8l-2.8 -2.8z" fill="#000"/>
<path d="M752.0 184.8l2.8 2.8l-2.8 2.8l-2.8 -2.8z" fill="#000"/>
<path d="M752.0 178.5l2.8 2.8l-2.8 2.8l-2.8 -2.8z" fill="#000"/>
<path d="M752.0 172.1l2.8 2.8l-2.8 2.8l-2.8 -2.8z" fill="#000"/>
<path d="M752.0 165.8l2.8 2.8l-2.8 2.8l-2.8 -2.8z" fill="#000"/>
<path d="M752.0 159.5l2.8 2.8l-2.8 2.8l-2.8 -2.8z" fill="#000"/>
<path d="M752.0 153.1l2.8 2.8l-2.8 2.8l-2.8 -2.8z" fill="#000"/>
<path d="M756.0 191.2l2.8 2.8l-2.8 2.8l-2.8 -2.8z" fill="#000"/>
<path d="M756.0 184.8l2.8 2.8l-2.8 2.8l-2.8 -2.8z" fill="#000"/>
<path d="M756.0 178.5l2.8 2.8l-2.8 2.8l-2.8 -2.8z" fill="#000"/>
<path d="M756.0 172.1l2.8 2.8l-2.8 2.8l-2.8 -2.8z" fill="#000"/>
<path d="M756.0 165.8l2.8 2.8l-2.8 2.8l-2.8 -2.8z" fill="#000"/>
<path d="M756.0 159.5l2.8 2.8l-2.8 2.8l-2.8 -2.8z" fill="#000"/>
<path d="M760.0 203.9l2.8 2.8l-2.8 2.8l-2.8 -2.8z" fill="#000"/>
<path d="M760.0 197.5l2.8 2.8l-2.8 2.8l-2.8 -2.8z" fill="#000"/>
<path d="M760.0 191.2l2.8 2.8l-2.8 2.8l-2.8 -2.8z" fill="#000"/>
<path d="M760.0 184.8l2.8 2.8l-2.8 2.8l-2.8 -2.8z" fill="#000"/>
<path d="M760.0 178.5l2.8 2.8l-2.8 2.8l-2.8 -2.8z" fill="#000"/>
<path d="M764.0 210.2l2.8 2.8l-2.8 2.8l-2.8 -2.8z" fill="#000"/>
<path d="M764.0 203.9l2.8 2.8l-2.8 2.8l-2.8 -2.8z" fill="#000"/>
<path d="M764.0 197.5l2.8 2.8l-2.8 2.8l-2.8 -2.8z" fill="#000"/>
<path d="M764.0 191.2l2.8 2.8l-2.8 2.8l-2.8 -2.8z" fill="#000"/>
<path d="M768.0 229.2l2.8 2.8l-2.8 2.8l-2.8 -2.8z" fill="#000"/>
<path d="M768.0 222.9l2.8 2.8l-2.8 2.8l-2.8 -2.8z" fill="#000"/>
<path d="M768.0 216.5l2.8 2.8l-2.8 2.8l-2.8 -2.8z" fill="#000"/>
<path d="M768.0 210.2l2.8 2.8l-2.8 2.8l-2.8 -2.8z" fill="#000"/>
<path d="M768.0 203.9l2.8 2.8l-2.8 2.8l-2.8 -2.8z" fill="#000"/>
<path d="M772.0 241.9l2.8 2.8l-2.8 2.8l-2.8 -2.8z" fill="#000"/>
<path d="M772.0 235.6l2.8 2.8l-2.8 2.8l-2.8 -2.8z" fill="#000"/>
<path d="M772.0 229.2l2.8 2.8l-2.8 2.8l-2.8 -2.8z" fill="#000"/>
<path d="M772.0 222.9l2.8 2.8l-2.8 2.8l-2.8 -2.8z" fill="#000"/>
<path d="M772.0 216.5l2.8 2.8l-2.8 2.8l-2.8 -2.8z" fill="#000"/>
<path d="M775.5 254.6l2.8 2.8l-2.8 2.8l-2.8 -2.8z" fill="#000"/>
<path d="M775.5 248.3l2.8 2.8l-2.8 2.8l-2.8 -2.8z" fill="#000"/>
<path d="M775.5 241.9l2.8 2.8l-2.8 2.8l-2.8 -2.8z" fill="#000"/>
<path d="M775.5 235.6l2.8 2.8l-2.8 2.8l-2.8 -2.8z" fill="#000"/>
<path d="M775.5 229.2l2.8 2.8l-2.8 2.8l-2.8 -2.8z" fill="#000"/>
<path d="M779.5 254.6l2.8 2.8l-2.8 2.8l-2.8 -2.8z" fill="#000"/>
<path d="M779.5 248.3l2.8 2.8l-2.8 2.8l-2.8 -2.8z" fill="#000"/>
<path d="M779.5 241.9l2.8 2.8l-2.8 2.8l-2.8 -2.8z" fill="#000"/>
<path d="M779.5 235.6l2.8 2.8l-2.8 2.8l-2.8 -2.8z" fill="#000"/>
<path d="M784.0 191.2l2.8 2.8l-2.8 2.8l-2.8 -2.8z" fill="#000"/>
<path d="M784.0 184.8l2.8 2.8l-2.8 2.8l-2.8 -2.8z" fill="#000"/>
<path d="M784.0 178.5l2.8 2.8l-2.8 2.8l-2.8 -2.8z" fill="#000"/>
<path d="M784.0 172.1l2.8 2.8l-2.8 2.8l-2.8 -2.8z" fill="#000"/>
<path d="M784.0 165.8l2.8 2.8l-2.8 2.8l-2.8 -2.8z" fill="#000"/>
<path d="M784.0 159.5l2.8 2.8l-2.8 2.8l-2.8 -2.8z" fill="#000"/>
<path d="M788.0 191.2l2.8 2.8l-2.8 2.8l-2.8 -2.8z" fill="#000"/>
<path d="M788.0 184.8l2.8 2.8l-2.8 2.8l-2.8 -2.8z" fill="#000"/>
<path d="M788.0 178.5l2.8 2.8l-2.8 2.8l-2.8 -2.8z" fill="#000"/>
<path d="M788.0 172.1l2.8 2.8l-2.8 2.8l-2.8 -2.8z" fill="#000"/>
<path d="M788.0 165.8l2.8 2.8l-2.8 2.8l-2.8 -2.8z" fill="#000"/>
<path d="M788.0 159.5l2.8 2.8l-2.8 2.8l-2.8 -2.8z" fill="#000"/>
<path d="M780.0 248.8l2.3 2.3l-2.3 2.3l-2.3 -2.3z" fill="#fff" stroke="#222" stroke-width="1.1"/>
<path d="M780.0 242.4l2.3 2.3l-2.3 2.3l-2.3 -2.3z" fill="#fff" stroke="#222" stroke-width="1.1"/>
<path d="M780.0 236.1l2.3 2.3l-2.3 2.3l-2.3 -2.3z" fill="#fff" stroke="#222" stroke-width="1.1"/>
<path d="M780.0 229.7l2.3 2.3l-2.3 2.3l-2.3 -2.3z" fill="#fff" stroke="#222" stroke-width="1.1"/>
<path d="M780.0 223.4l2.3 2.3l-2.3 2.3l-2.3 -2.3z" fill="#fff" stroke="#222" stroke-width="1.1"/>
<path d="M780.0 217.0l2.3 2.3l-2.3 2.3l-2.3 -2.3z" fill="#fff" stroke="#222" stroke-width="1.1"/>
<path d="M780.0 210.7l2.3 2.3l-2.3 2.3l-2.3 -2.3z" fill="#fff" stroke="#222" stroke-width="1.1"/>
<path d="M539.0 134.6l2.3 2.3l-2.3 2.3l-2.3 -2.3z" fill="#fff" stroke="#222" stroke-width="1.1"/>
<path d="M539.0 128.2l2.3 2.3l-2.3 2.3l-2.3 -2.3z" fill="#fff" stroke="#222" stroke-width="1.1"/>
<path d="M539.0 121.9l2.3 2.3l-2.3 2.3l-2.3 -2.3z" fill="#fff" stroke="#222" stroke-width="1.1"/>
<path d="M539.0 115.6l2.3 2.3l-2.3 2.3l-2.3 -2.3z" fill="#fff" stroke="#222" stroke-width="1.1"/>
<path d="M551.0 71.2l2.3 2.3l-2.3 2.3l-2.3 -2.3z" fill="#fff" stroke="#222" stroke-width="1.1"/>
<path d="M551.0 64.8l2.3 2.3l-2.3 2.3l-2.3 -2.3z" fill="#fff" stroke="#222" stroke-width="1.1"/>
<path d="M551.0 58.5l2.3 2.3l-2.3 2.3l-2.3 -2.3z" fill="#fff" stroke="#222" stroke-width="1.1"/>
<path d="M551.0 52.1l2.3 2.3l-2.3 2.3l-2.3 -2.3z" fill="#fff" stroke="#222" stroke-width="1.1"/>
<path d="M551.0 45.8l2.3 2.3l-2.3 2.3l-2.3 -2.3z" fill="#fff" stroke="#222" stroke-width="1.1"/>
<path d="M561.0 83.8l2.3 2.3l-2.3 2.3l-2.3 -2.3z" fill="#fff" stroke="#222" stroke-width="1.1"/>
<path d="M561.0 77.5l2.3 2.3l-2.3 2.3l-2.3 -2.3z" fill="#fff" stroke="#222" stroke-width="1.1"/>
<path d="M561.0 71.2l2.3 2.3l-2.3 2.3l-2.3 -2.3z" fill="#fff" stroke="#222" stroke-width="1.1"/>
<path d="M561.0 64.8l2.3 2.3l-2.3 2.3l-2.3 -2.3z" fill="#fff" stroke="#222" stroke-width="1.1"/>
<path d="M600.4 109.2l2.3 2.3l-2.3 2.3l-2.3 -2.3z" fill="#fff" stroke="#222" stroke-width="1.1"/>
<path d="M600.4 102.9l2.3 2.3l-2.3 2.3l-2.3 -2.3z" fill="#fff" stroke="#222" stroke-width="1.1"/>
<path d="M661.0 134.6l2.3 2.3l-2.3 2.3l-2.3 -2.3z" fill="#fff" stroke="#222" stroke-width="1.1"/>
<path d="M661.0 128.2l2.3 2.3l-2.3 2.3l-2.3 -2.3z" fill="#fff" stroke="#222" stroke-width="1.1"/>
<path d="M725.5 134.6l2.3 2.3l-2.3 2.3l-2.3 -2.3z" fill="#fff" stroke="#222" stroke-width="1.1"/>
<path d="M725.5 128.2l2.3 2.3l-2.3 2.3l-2.3 -2.3z" fill="#fff" stroke="#222" stroke-width="1.1"/>
<path d="M725.5 121.9l2.3 2.3l-2.3 2.3l-2.3 -2.3z" fill="#fff" stroke="#222" stroke-width="1.1"/>
<polyline points="526.7,93.8 528.6,181.4 531.0,165.0 535.0,200.0 539.0,210.0 541.0,185.0 544.8,192.9 547.0,170.0 550.5,198.6 552.4,145.2 555.2,170.0 557.1,147.0 561.0,177.6 562.9,141.4 566.7,171.9 570.5,145.2 572.4,168.0 574.3,137.6 577.1,171.9 579.0,150.0 582.9,151.0 585.7,170.0 590.5,179.5 593.3,166.2 599.0,183.3 601.0,154.8 605.7,170.0 609.5,175.7 613.3,183.3 615.2,162.4 617.0,177.3 621.4,151.0 625.0,165.0 632.0,184.3 632.8,152.7 639.9,180.8 641.3,151.0 645.0,165.0 654.8,193.1 659.2,187.8 663.0,190.0 671.5,198.4 676.0,196.0 685.5,203.7 696.1,211.6 699.6,191.4 705.7,177.3 708.4,189.6 715.4,191.4 719.0,186.0 724.2,191.4 725.0,172.0 728.7,152.2 731.2,164.6 734.9,134.8 737.4,169.6 739.9,154.6 744.9,177.0 754.8,204.4 758.5,179.5 762.0,195.0 768.5,219.3 772.2,204.4 778.4,214.3 780.9,164.6 788.4,196.9" fill="none" stroke="#a3a3a3" stroke-width="1.6" stroke-linejoin="round"/>
<polyline points="526.7,93.8 528.6,147.0 530.5,132.0 533.0,165.0 540.0,200.5 544.8,151.0 550.5,194.8 551.4,124.3 554.3,139.5 557.1,120.5 560.0,141.4 562.9,93.8 567.6,147.0 570.5,118.6 572.0,135.0 573.3,105.2 575.2,131.9 578.0,90.0 579.0,133.8 582.0,112.9 585.7,128.0 590.5,147.0 593.3,135.7 598.1,147.0 600.0,111.0 603.8,141.4 613.3,154.8 614.3,118.6 617.0,140.4 619.7,135.1 621.4,115.0 625.0,130.0 631.1,149.2 632.5,115.8 638.1,143.9 640.7,111.4 645.1,135.1 650.4,149.2 658.3,162.4 661.0,156.2 671.5,168.5 674.1,165.9 680.3,170.3 689.0,182.6 697.0,190.5 698.7,173.8 701.4,170.3 703.1,161.5 705.7,153.6 709.3,165.0 715.4,168.5 718.9,163.2 725.1,172.0 726.8,149.2 728.7,119.8 731.2,129.8 734.9,100.0 736.2,122.3 738.6,117.3 741.1,134.8 747.3,162.1 754.8,177.0 758.5,154.6 761.0,172.0 766.0,189.5 769.7,199.4 773.5,185.7 777.2,196.9 780.9,147.2 784.6,159.6 788.4,175.8" fill="none" stroke="#6aab3c" stroke-width="1.5" stroke-linejoin="round"/>
<line x1="526.3" y1="111.90" x2="788.3" y2="111.90" stroke="#00b050" stroke-width="1"/>
<line x1="526.3" y1="226.20" x2="788.3" y2="226.20" stroke="#ff2020" stroke-width="1"/>
</g>
<line x1="501.7" y1="35.0" x2="501.7" y2="258.0" stroke="#666" stroke-width="1"/>
<line x1="809.5" y1="35.0" x2="809.5" y2="258.0" stroke="#555" stroke-width="1"/>
<line x1="501.2" y1="35.5" x2="810.0" y2="35.5" stroke="#333" stroke-width="1"/>
<line x1="501.2" y1="257.5" x2="810.0" y2="257.5" stroke="#404040" stroke-width="1"/>
<path d="M501.5 225.69h3.2M809.5 225.69h-3.2" stroke="#333" stroke-width="1"/>
<text transform="translate(493.8,233.39) scale(0.965,1.09)" text-anchor="end" class="tk">0.1</text>
<path d="M501.5 162.26h3.2M809.5 162.26h-3.2" stroke="#333" stroke-width="1"/>
<text transform="translate(493.8,169.96) scale(0.965,1.09)" text-anchor="end" class="tk">0.2</text>
<path d="M501.5 98.83h3.2M809.5 98.83h-3.2" stroke="#333" stroke-width="1"/>
<text transform="translate(493.8,106.53) scale(0.965,1.09)" text-anchor="end" class="tk">0.3</text>
<path d="M501.5 35.40h3.2M809.5 35.40h-3.2" stroke="#333" stroke-width="1"/>
<text transform="translate(493.8,43.10) scale(0.965,1.09)" text-anchor="end" class="tk">0.4</text>
<path d="M563.10 257.4v-3.2M563.10 35.4v3.2" stroke="#333" stroke-width="1"/>
<text transform="translate(563.10,281.80) scale(0.985,1.09)" text-anchor="middle" class="tk">Oct 2015</text>
<path d="M656.00 257.4v-3.2M656.00 35.4v3.2" stroke="#333" stroke-width="1"/>
<text transform="translate(656.00,281.80) scale(0.985,1.09)" text-anchor="middle" class="tk">Jan 2016</text>
<path d="M747.90 257.4v-3.2M747.90 35.4v3.2" stroke="#333" stroke-width="1"/>
<text transform="translate(747.90,281.80) scale(0.985,1.09)" text-anchor="middle" class="tk">Apr 2016</text>
<text x="655.50" y="30.20" text-anchor="middle" class="ti">Cabbage 2015</text>
<text transform="translate(460.9,147.9) rotate(-90)" text-anchor="middle" class="yl">SM [m<tspan class="sup" dy="-10.7">3</tspan><tspan dy="10.7"> m</tspan><tspan class="sup" dy="-10.7">-3</tspan><tspan dy="10.7">]</tspan></text>
<line x1="931.5" y1="213.00" x2="1239.5" y2="213.00" stroke="#e2e2e2" stroke-width="1"/>
<line x1="931.5" y1="168.60" x2="1239.5" y2="168.60" stroke="#e2e2e2" stroke-width="1"/>
<line x1="931.5" y1="124.20" x2="1239.5" y2="124.20" stroke="#e2e2e2" stroke-width="1"/>
<line x1="931.5" y1="79.80" x2="1239.5" y2="79.80" stroke="#e2e2e2" stroke-width="1"/>
<line x1="993.91" y1="35.4" x2="993.91" y2="257.4" stroke="#e2e2e2" stroke-width="1"/>
<line x1="1054.30" y1="35.4" x2="1054.30" y2="257.4" stroke="#e2e2e2" stroke-width="1"/>
<line x1="1116.70" y1="35.4" x2="1116.70" y2="257.4" stroke="#e2e2e2" stroke-width="1"/>
<line x1="1179.11" y1="35.4" x2="1179.11" y2="257.4" stroke="#e2e2e2" stroke-width="1"/>
<clipPath id="c3"><rect x="931.5" y="35.4" width="308.0" height="222.99999999999997"/></clipPath>
<g clip-path="url(#c3)">
<polygon points="952.9,202.0 956.0,199.0 958.2,203.0 958.0,214.0 955.0,216.0 952.9,212.0" fill="#000" stroke="#000" stroke-width="1" stroke-linejoin="round"/>
<polygon points="1185.3,175.0 1188.0,174.0 1190.3,180.0 1190.0,193.0 1187.0,194.0 1185.0,186.0" fill="#000" stroke="#000" stroke-width="1" stroke-linejoin="round"/>
<polygon points="1168.9,150.2 1173.8,150.2 1173.8,163.4 1168.9,163.4" fill="#000" stroke="#000" stroke-width="1" stroke-linejoin="round"/>
<polygon points="1205.0,160.0 1208.0,162.0 1211.7,175.0 1211.7,186.4 1208.0,185.0 1205.0,172.0" fill="#000" stroke="#000" stroke-width="1" stroke-linejoin="round"/>
<polygon points="1218.3,147.0 1222.0,150.0 1228.0,165.0 1229.8,180.0 1229.8,186.4 1225.0,183.0 1220.0,170.0 1218.3,160.0" fill="#000" stroke="#000" stroke-width="1" stroke-linejoin="round"/>
<polygon points="1195.0,137.0 1198.5,137.0 1198.5,143.6 1195.0,143.6" fill="#000" stroke="#000" stroke-width="1" stroke-linejoin="round"/>
<polyline points="957.5,160.0 960.0,170.0 964.0,177.0 968.0,183.0 973.0,189.0 978.0,196.0" fill="none" stroke="#000" stroke-width="4.5" stroke-linejoin="round" stroke-linecap="round"/>
<polyline points="994.0,172.0 997.0,180.0 1001.0,190.0 1005.0,200.0 1006.5,205.0" fill="none" stroke="#000" stroke-width="4.5" stroke-linejoin="round" stroke-linecap="round"/>
<polyline points="1012.0,173.0 1015.0,179.0 1019.0,185.0 1023.0,190.0" fill="none" stroke="#000" stroke-width="5" stroke-linejoin="round" stroke-linecap="round"/>
<path d="M955.0 219.2l2.6 2.6l-2.6 2.6l-2.6 -2.6z" fill="#fff" stroke="#222" stroke-width="1"/>
<path d="M1033.0 69.4l2.6 2.6l-2.6 2.6l-2.6 -2.6z" fill="#fff" stroke="#222" stroke-width="1"/>
<path d="M1047.5 65.4l2.6 2.6l-2.6 2.6l-2.6 -2.6z" fill="#fff" stroke="#222" stroke-width="1"/>
<path d="M1058.0 73.4l2.6 2.6l-2.6 2.6l-2.6 -2.6z" fill="#fff" stroke="#222" stroke-width="1"/>
<path d="M1050.0 81.4l2.6 2.6l-2.6 2.6l-2.6 -2.6z" fill="#fff" stroke="#222" stroke-width="1"/>
<path d="M1064.0 82.4l2.6 2.6l-2.6 2.6l-2.6 -2.6z" fill="#fff" stroke="#222" stroke-width="1"/>
<path d="M1069.0 79.4l2.6 2.6l-2.6 2.6l-2.6 -2.6z" fill="#fff" stroke="#222" stroke-width="1"/>
<path d="M1085.0 63.4l2.6 2.6l-2.6 2.6l-2.6 -2.6z" fill="#fff" stroke="#222" stroke-width="1"/>
<path d="M1110.0 67.4l2.6 2.6l-2.6 2.6l-2.6 -2.6z" fill="#fff" stroke="#222" stroke-width="1"/>
<path d="M1162.0 77.4l2.6 2.6l-2.6 2.6l-2.6 -2.6z" fill="#fff" stroke="#222" stroke-width="1"/>
<path d="M1169.0 85.4l2.6 2.6l-2.6 2.6l-2.6 -2.6z" fill="#fff" stroke="#222" stroke-width="1"/>
<path d="M1031.0 91.7l1.7 1.7l-1.7 1.7l-1.7 -1.7z" fill="#777" stroke="#111" stroke-width="0.8"/>
<path d="M1030.6 97.6l1.7 1.7l-1.7 1.7l-1.7 -1.7z" fill="#777" stroke="#111" stroke-width="0.8"/>
<path d="M1030.7 102.7l1.7 1.7l-1.7 1.7l-1.7 -1.7z" fill="#777" stroke="#111" stroke-width="0.8"/>
<path d="M1030.3 109.6l1.7 1.7l-1.7 1.7l-1.7 -1.7z" fill="#777" stroke="#111" stroke-width="0.8"/>
<path d="M1030.7 114.3l1.7 1.7l-1.7 1.7l-1.7 -1.7z" fill="#777" stroke="#111" stroke-width="0.8"/>
<path d="M1031.1 119.0l1.7 1.7l-1.7 1.7l-1.7 -1.7z" fill="#777" stroke="#111" stroke-width="0.8"/>
<path d="M1030.1 125.4l1.7 1.7l-1.7 1.7l-1.7 -1.7z" fill="#777" stroke="#111" stroke-width="0.8"/>
<path d="M1030.0 130.0l1.7 1.7l-1.7 1.7l-1.7 -1.7z" fill="#777" stroke="#111" stroke-width="0.8"/>
<path d="M1029.9 135.0l1.7 1.7l-1.7 1.7l-1.7 -1.7z" fill="#777" stroke="#111" stroke-width="0.8"/>
<path d="M1030.9 140.9l1.7 1.7l-1.7 1.7l-1.7 -1.7z" fill="#777" stroke="#111" stroke-width="0.8"/>
<path d="M1030.5 147.0l1.7 1.7l-1.7 1.7l-1.7 -1.7z" fill="#777" stroke="#111" stroke-width="0.8"/>
<path d="M1030.2 153.5l1.7 1.7l-1.7 1.7l-1.7 -1.7z" fill="#777" stroke="#111" stroke-width="0.8"/>
<path d="M1030.9 161.0l1.7 1.7l-1.7 1.7l-1.7 -1.7z" fill="#777" stroke="#111" stroke-width="0.8"/>
<path d="M1032.6 89.8l1.7 1.7l-1.7 1.7l-1.7 -1.7z" fill="#777" stroke="#111" stroke-width="0.8"/>
<path d="M1032.1 95.5l1.7 1.7l-1.7 1.7l-1.7 -1.7z" fill="#777" stroke="#111" stroke-width="0.8"/>
<path d="M1031.7 102.8l1.7 1.7l-1.7 1.7l-1.7 -1.7z" fill="#777" stroke="#111" stroke-width="0.8"/>
<path d="M1032.2 108.0l1.7 1.7l-1.7 1.7l-1.7 -1.7z" fill="#777" stroke="#111" stroke-width="0.8"/>
<path d="M1031.8 115.4l1.7 1.7l-1.7 1.7l-1.7 -1.7z" fill="#777" stroke="#111" stroke-width="0.8"/>
<path d="M1032.0 121.8l1.7 1.7l-1.7 1.7l-1.7 -1.7z" fill="#777" stroke="#111" stroke-width="0.8"/>
<path d="M1032.8 126.6l1.7 1.7l-1.7 1.7l-1.7 -1.7z" fill="#777" stroke="#111" stroke-width="0.8"/>
<path d="M1032.0 133.3l1.7 1.7l-1.7 1.7l-1.7 -1.7z" fill="#777" stroke="#111" stroke-width="0.8"/>
<path d="M1032.6 138.1l1.7 1.7l-1.7 1.7l-1.7 -1.7z" fill="#777" stroke="#111" stroke-width="0.8"/>
<path d="M1032.2 143.2l1.7 1.7l-1.7 1.7l-1.7 -1.7z" fill="#777" stroke="#111" stroke-width="0.8"/>
<path d="M1031.8 148.2l1.7 1.7l-1.7 1.7l-1.7 -1.7z" fill="#777" stroke="#111" stroke-width="0.8"/>
<path d="M1032.2 154.7l1.7 1.7l-1.7 1.7l-1.7 -1.7z" fill="#777" stroke="#111" stroke-width="0.8"/>
<path d="M1032.8 159.8l1.7 1.7l-1.7 1.7l-1.7 -1.7z" fill="#777" stroke="#111" stroke-width="0.8"/>
<path d="M1035.0 88.8l1.7 1.7l-1.7 1.7l-1.7 -1.7z" fill="#777" stroke="#111" stroke-width="0.8"/>
<path d="M1035.2 95.3l1.7 1.7l-1.7 1.7l-1.7 -1.7z" fill="#777" stroke="#111" stroke-width="0.8"/>
<path d="M1034.9 100.4l1.7 1.7l-1.7 1.7l-1.7 -1.7z" fill="#777" stroke="#111" stroke-width="0.8"/>
<path d="M1034.1 105.9l1.7 1.7l-1.7 1.7l-1.7 -1.7z" fill="#777" stroke="#111" stroke-width="0.8"/>
<path d="M1034.3 110.7l1.7 1.7l-1.7 1.7l-1.7 -1.7z" fill="#777" stroke="#111" stroke-width="0.8"/>
<path d="M1034.5 117.0l1.7 1.7l-1.7 1.7l-1.7 -1.7z" fill="#777" stroke="#111" stroke-width="0.8"/>
<path d="M1034.7 124.3l1.7 1.7l-1.7 1.7l-1.7 -1.7z" fill="#777" stroke="#111" stroke-width="0.8"/>
<path d="M1034.2 131.4l1.7 1.7l-1.7 1.7l-1.7 -1.7z" fill="#777" stroke="#111" stroke-width="0.8"/>
<path d="M1034.3 138.7l1.7 1.7l-1.7 1.7l-1.7 -1.7z" fill="#777" stroke="#111" stroke-width="0.8"/>
<path d="M1035.1 143.7l1.7 1.7l-1.7 1.7l-1.7 -1.7z" fill="#777" stroke="#111" stroke-width="0.8"/>
<path d="M1035.1 148.8l1.7 1.7l-1.7 1.7l-1.7 -1.7z" fill="#777" stroke="#111" stroke-width="0.8"/>
<path d="M1034.1 155.1l1.7 1.7l-1.7 1.7l-1.7 -1.7z" fill="#777" stroke="#111" stroke-width="0.8"/>
<path d="M1034.3 159.7l1.7 1.7l-1.7 1.7l-1.7 -1.7z" fill="#777" stroke="#111" stroke-width="0.8"/>
<path d="M1036.5 93.5l1.7 1.7l-1.7 1.7l-1.7 -1.7z" fill="#777" stroke="#111" stroke-width="0.8"/>
<path d="M1036.5 100.1l1.7 1.7l-1.7 1.7l-1.7 -1.7z" fill="#777" stroke="#111" stroke-width="0.8"/>
<path d="M1037.0 106.3l1.7 1.7l-1.7 1.7l-1.7 -1.7z" fill="#777" stroke="#111" stroke-width="0.8"/>
<path d="M1036.5 111.6l1.7 1.7l-1.7 1.7l-1.7 -1.7z" fill="#777" stroke="#111" stroke-width="0.8"/>
<path d="M1036.8 116.2l1.7 1.7l-1.7 1.7l-1.7 -1.7z" fill="#777" stroke="#111" stroke-width="0.8"/>
<path d="M1036.7 120.9l1.7 1.7l-1.7 1.7l-1.7 -1.7z" fill="#777" stroke="#111" stroke-width="0.8"/>
<path d="M1036.7 127.1l1.7 1.7l-1.7 1.7l-1.7 -1.7z" fill="#777" stroke="#111" stroke-width="0.8"/>
<path d="M1037.0 134.3l1.7 1.7l-1.7 1.7l-1.7 -1.7z" fill="#777" stroke="#111" stroke-width="0.8"/>
<path d="M1036.4 140.8l1.7 1.7l-1.7 1.7l-1.7 -1.7z" fill="#777" stroke="#111" stroke-width="0.8"/>
<path d="M1037.3 145.4l1.7 1.7l-1.7 1.7l-1.7 -1.7z" fill="#777" stroke="#111" stroke-width="0.8"/>
<path d="M1036.3 152.0l1.7 1.7l-1.7 1.7l-1.7 -1.7z" fill="#777" stroke="#111" stroke-width="0.8"/>
<path d="M1037.1 158.4l1.7 1.7l-1.7 1.7l-1.7 -1.7z" fill="#777" stroke="#111" stroke-width="0.8"/>
<path d="M1036.3 163.9l1.7 1.7l-1.7 1.7l-1.7 -1.7z" fill="#777" stroke="#111" stroke-width="0.8"/>
<path d="M1037.3 170.0l1.7 1.7l-1.7 1.7l-1.7 -1.7z" fill="#777" stroke="#111" stroke-width="0.8"/>
<path d="M1039.3 97.3l1.7 1.7l-1.7 1.7l-1.7 -1.7z" fill="#777" stroke="#111" stroke-width="0.8"/>
<path d="M1039.0 104.5l1.7 1.7l-1.7 1.7l-1.7 -1.7z" fill="#777" stroke="#111" stroke-width="0.8"/>
<path d="M1039.2 111.4l1.7 1.7l-1.7 1.7l-1.7 -1.7z" fill="#777" stroke="#111" stroke-width="0.8"/>
<path d="M1039.2 117.7l1.7 1.7l-1.7 1.7l-1.7 -1.7z" fill="#777" stroke="#111" stroke-width="0.8"/>
<path d="M1039.3 124.1l1.7 1.7l-1.7 1.7l-1.7 -1.7z" fill="#777" stroke="#111" stroke-width="0.8"/>
<path d="M1039.4 131.5l1.7 1.7l-1.7 1.7l-1.7 -1.7z" fill="#777" stroke="#111" stroke-width="0.8"/>
<path d="M1039.2 137.2l1.7 1.7l-1.7 1.7l-1.7 -1.7z" fill="#777" stroke="#111" stroke-width="0.8"/>
<path d="M1038.6 143.0l1.7 1.7l-1.7 1.7l-1.7 -1.7z" fill="#777" stroke="#111" stroke-width="0.8"/>
<path d="M1039.2 149.8l1.7 1.7l-1.7 1.7l-1.7 -1.7z" fill="#777" stroke="#111" stroke-width="0.8"/>
<path d="M1039.3 155.7l1.7 1.7l-1.7 1.7l-1.7 -1.7z" fill="#777" stroke="#111" stroke-width="0.8"/>
<path d="M1039.6 161.7l1.7 1.7l-1.7 1.7l-1.7 -1.7z" fill="#777" stroke="#111" stroke-width="0.8"/>
<path d="M1040.5 94.4l1.7 1.7l-1.7 1.7l-1.7 -1.7z" fill="#777" stroke="#111" stroke-width="0.8"/>
<path d="M1040.9 101.7l1.7 1.7l-1.7 1.7l-1.7 -1.7z" fill="#777" stroke="#111" stroke-width="0.8"/>
<path d="M1041.1 108.8l1.7 1.7l-1.7 1.7l-1.7 -1.7z" fill="#777" stroke="#111" stroke-width="0.8"/>
<path d="M1041.3 113.9l1.7 1.7l-1.7 1.7l-1.7 -1.7z" fill="#777" stroke="#111" stroke-width="0.8"/>
<path d="M1040.8 121.2l1.7 1.7l-1.7 1.7l-1.7 -1.7z" fill="#777" stroke="#111" stroke-width="0.8"/>
<path d="M1040.5 127.4l1.7 1.7l-1.7 1.7l-1.7 -1.7z" fill="#777" stroke="#111" stroke-width="0.8"/>
<path d="M1041.3 133.4l1.7 1.7l-1.7 1.7l-1.7 -1.7z" fill="#777" stroke="#111" stroke-width="0.8"/>
<path d="M1040.7 140.0l1.7 1.7l-1.7 1.7l-1.7 -1.7z" fill="#777" stroke="#111" stroke-width="0.8"/>
<path d="M1040.7 145.0l1.7 1.7l-1.7 1.7l-1.7 -1.7z" fill="#777" stroke="#111" stroke-width="0.8"/>
<path d="M1041.1 150.2l1.7 1.7l-1.7 1.7l-1.7 -1.7z" fill="#777" stroke="#111" stroke-width="0.8"/>
<path d="M1041.3 156.2l1.7 1.7l-1.7 1.7l-1.7 -1.7z" fill="#777" stroke="#111" stroke-width="0.8"/>
<path d="M1040.4 163.6l1.7 1.7l-1.7 1.7l-1.7 -1.7z" fill="#777" stroke="#111" stroke-width="0.8"/>
<path d="M1040.4 168.2l1.7 1.7l-1.7 1.7l-1.7 -1.7z" fill="#777" stroke="#111" stroke-width="0.8"/>
<path d="M1042.3 95.8l1.7 1.7l-1.7 1.7l-1.7 -1.7z" fill="#777" stroke="#111" stroke-width="0.8"/>
<path d="M1043.2 101.7l1.7 1.7l-1.7 1.7l-1.7 -1.7z" fill="#777" stroke="#111" stroke-width="0.8"/>
<path d="M1042.2 106.9l1.7 1.7l-1.7 1.7l-1.7 -1.7z" fill="#777" stroke="#111" stroke-width="0.8"/>
<path d="M1042.9 113.3l1.7 1.7l-1.7 1.7l-1.7 -1.7z" fill="#777" stroke="#111" stroke-width="0.8"/>
<path d="M1043.3 119.7l1.7 1.7l-1.7 1.7l-1.7 -1.7z" fill="#777" stroke="#111" stroke-width="0.8"/>
<path d="M1042.7 126.3l1.7 1.7l-1.7 1.7l-1.7 -1.7z" fill="#777" stroke="#111" stroke-width="0.8"/>
<path d="M1042.7 131.3l1.7 1.7l-1.7 1.7l-1.7 -1.7z" fill="#777" stroke="#111" stroke-width="0.8"/>
<path d="M1042.5 138.0l1.7 1.7l-1.7 1.7l-1.7 -1.7z" fill="#777" stroke="#111" stroke-width="0.8"/>
<path d="M1042.8 143.5l1.7 1.7l-1.7 1.7l-1.7 -1.7z" fill="#777" stroke="#111" stroke-width="0.8"/>
<path d="M1042.6 149.8l1.7 1.7l-1.7 1.7l-1.7 -1.7z" fill="#777" stroke="#111" stroke-width="0.8"/>
<path d="M1042.3 156.7l1.7 1.7l-1.7 1.7l-1.7 -1.7z" fill="#777" stroke="#111" stroke-width="0.8"/>
<path d="M1042.3 164.0l1.7 1.7l-1.7 1.7l-1.7 -1.7z" fill="#777" stroke="#111" stroke-width="0.8"/>
<path d="M1045.6 90.8l1.7 1.7l-1.7 1.7l-1.7 -1.7z" fill="#777" stroke="#111" stroke-width="0.8"/>
<path d="M1045.1 97.7l1.7 1.7l-1.7 1.7l-1.7 -1.7z" fill="#777" stroke="#111" stroke-width="0.8"/>
<path d="M1045.4 104.2l1.7 1.7l-1.7 1.7l-1.7 -1.7z" fill="#777" stroke="#111" stroke-width="0.8"/>
<path d="M1045.4 111.1l1.7 1.7l-1.7 1.7l-1.7 -1.7z" fill="#777" stroke="#111" stroke-width="0.8"/>
<path d="M1045.7 116.3l1.7 1.7l-1.7 1.7l-1.7 -1.7z" fill="#777" stroke="#111" stroke-width="0.8"/>
<path d="M1045.5 123.7l1.7 1.7l-1.7 1.7l-1.7 -1.7z" fill="#777" stroke="#111" stroke-width="0.8"/>
<path d="M1045.5 129.2l1.7 1.7l-1.7 1.7l-1.7 -1.7z" fill="#777" stroke="#111" stroke-width="0.8"/>
<path d="M1045.0 134.7l1.7 1.7l-1.7 1.7l-1.7 -1.7z" fill="#777" stroke="#111" stroke-width="0.8"/>
<path d="M1045.1 140.9l1.7 1.7l-1.7 1.7l-1.7 -1.7z" fill="#777" stroke="#111" stroke-width="0.8"/>
<path d="M1044.6 145.4l1.7 1.7l-1.7 1.7l-1.7 -1.7z" fill="#777" stroke="#111" stroke-width="0.8"/>
<path d="M1044.9 152.3l1.7 1.7l-1.7 1.7l-1.7 -1.7z" fill="#777" stroke="#111" stroke-width="0.8"/>
<path d="M1044.7 159.2l1.7 1.7l-1.7 1.7l-1.7 -1.7z" fill="#777" stroke="#111" stroke-width="0.8"/>
<path d="M1045.5 165.2l1.7 1.7l-1.7 1.7l-1.7 -1.7z" fill="#777" stroke="#111" stroke-width="0.8"/>
<path d="M1045.1 171.8l1.7 1.7l-1.7 1.7l-1.7 -1.7z" fill="#777" stroke="#111" stroke-width="0.8"/>
<path d="M1047.2 92.6l1.7 1.7l-1.7 1.7l-1.7 -1.7z" fill="#777" stroke="#111" stroke-width="0.8"/>
<path d="M1047.3 99.0l1.7 1.7l-1.7 1.7l-1.7 -1.7z" fill="#777" stroke="#111" stroke-width="0.8"/>
<path d="M1046.7 105.2l1.7 1.7l-1.7 1.7l-1.7 -1.7z" fill="#777" stroke="#111" stroke-width="0.8"/>
<path d="M1046.5 112.3l1.7 1.7l-1.7 1.7l-1.7 -1.7z" fill="#777" stroke="#111" stroke-width="0.8"/>
<path d="M1046.9 119.3l1.7 1.7l-1.7 1.7l-1.7 -1.7z" fill="#777" stroke="#111" stroke-width="0.8"/>
<path d="M1046.9 125.5l1.7 1.7l-1.7 1.7l-1.7 -1.7z" fill="#777" stroke="#111" stroke-width="0.8"/>
<path d="M1046.3 131.5l1.7 1.7l-1.7 1.7l-1.7 -1.7z" fill="#777" stroke="#111" stroke-width="0.8"/>
<path d="M1046.8 138.9l1.7 1.7l-1.7 1.7l-1.7 -1.7z" fill="#777" stroke="#111" stroke-width="0.8"/>
<path d="M1046.9 145.8l1.7 1.7l-1.7 1.7l-1.7 -1.7z" fill="#777" stroke="#111" stroke-width="0.8"/>
<path d="M1046.9 152.4l1.7 1.7l-1.7 1.7l-1.7 -1.7z" fill="#777" stroke="#111" stroke-width="0.8"/>
<path d="M1047.4 158.2l1.7 1.7l-1.7 1.7l-1.7 -1.7z" fill="#777" stroke="#111" stroke-width="0.8"/>
<path d="M1046.4 163.5l1.7 1.7l-1.7 1.7l-1.7 -1.7z" fill="#777" stroke="#111" stroke-width="0.8"/>
<path d="M1047.4 169.3l1.7 1.7l-1.7 1.7l-1.7 -1.7z" fill="#777" stroke="#111" stroke-width="0.8"/>
<path d="M1048.2 93.7l1.7 1.7l-1.7 1.7l-1.7 -1.7z" fill="#777" stroke="#111" stroke-width="0.8"/>
<path d="M1048.3 100.6l1.7 1.7l-1.7 1.7l-1.7 -1.7z" fill="#777" stroke="#111" stroke-width="0.8"/>
<path d="M1048.4 105.7l1.7 1.7l-1.7 1.7l-1.7 -1.7z" fill="#777" stroke="#111" stroke-width="0.8"/>
<path d="M1048.2 111.3l1.7 1.7l-1.7 1.7l-1.7 -1.7z" fill="#777" stroke="#111" stroke-width="0.8"/>
<path d="M1048.6 118.0l1.7 1.7l-1.7 1.7l-1.7 -1.7z" fill="#777" stroke="#111" stroke-width="0.8"/>
<path d="M1048.7 123.2l1.7 1.7l-1.7 1.7l-1.7 -1.7z" fill="#777" stroke="#111" stroke-width="0.8"/>
<path d="M1048.5 129.1l1.7 1.7l-1.7 1.7l-1.7 -1.7z" fill="#777" stroke="#111" stroke-width="0.8"/>
<path d="M1048.3 135.1l1.7 1.7l-1.7 1.7l-1.7 -1.7z" fill="#777" stroke="#111" stroke-width="0.8"/>
<path d="M1048.7 141.5l1.7 1.7l-1.7 1.7l-1.7 -1.7z" fill="#777" stroke="#111" stroke-width="0.8"/>
<path d="M1049.1 148.6l1.7 1.7l-1.7 1.7l-1.7 -1.7z" fill="#777" stroke="#111" stroke-width="0.8"/>
<path d="M1049.0 153.8l1.7 1.7l-1.7 1.7l-1.7 -1.7z" fill="#777" stroke="#111" stroke-width="0.8"/>
<path d="M1048.4 161.0l1.7 1.7l-1.7 1.7l-1.7 -1.7z" fill="#777" stroke="#111" stroke-width="0.8"/>
<path d="M1050.7 97.0l1.7 1.7l-1.7 1.7l-1.7 -1.7z" fill="#777" stroke="#111" stroke-width="0.8"/>
<path d="M1050.5 103.6l1.7 1.7l-1.7 1.7l-1.7 -1.7z" fill="#777" stroke="#111" stroke-width="0.8"/>
<path d="M1051.4 110.6l1.7 1.7l-1.7 1.7l-1.7 -1.7z" fill="#777" stroke="#111" stroke-width="0.8"/>
<path d="M1051.3 115.5l1.7 1.7l-1.7 1.7l-1.7 -1.7z" fill="#777" stroke="#111" stroke-width="0.8"/>
<path d="M1051.2 120.1l1.7 1.7l-1.7 1.7l-1.7 -1.7z" fill="#777" stroke="#111" stroke-width="0.8"/>
<path d="M1050.6 127.3l1.7 1.7l-1.7 1.7l-1.7 -1.7z" fill="#777" stroke="#111" stroke-width="0.8"/>
<path d="M1051.0 133.3l1.7 1.7l-1.7 1.7l-1.7 -1.7z" fill="#777" stroke="#111" stroke-width="0.8"/>
<path d="M1050.5 139.9l1.7 1.7l-1.7 1.7l-1.7 -1.7z" fill="#777" stroke="#111" stroke-width="0.8"/>
<path d="M1051.1 144.7l1.7 1.7l-1.7 1.7l-1.7 -1.7z" fill="#777" stroke="#111" stroke-width="0.8"/>
<path d="M1050.6 150.7l1.7 1.7l-1.7 1.7l-1.7 -1.7z" fill="#777" stroke="#111" stroke-width="0.8"/>
<path d="M1051.4 155.8l1.7 1.7l-1.7 1.7l-1.7 -1.7z" fill="#777" stroke="#111" stroke-width="0.8"/>
<path d="M1050.5 163.3l1.7 1.7l-1.7 1.7l-1.7 -1.7z" fill="#777" stroke="#111" stroke-width="0.8"/>
<path d="M1051.0 167.9l1.7 1.7l-1.7 1.7l-1.7 -1.7z" fill="#777" stroke="#111" stroke-width="0.8"/>
<path d="M1053.1 92.5l1.7 1.7l-1.7 1.7l-1.7 -1.7z" fill="#777" stroke="#111" stroke-width="0.8"/>
<path d="M1053.4 97.0l1.7 1.7l-1.7 1.7l-1.7 -1.7z" fill="#777" stroke="#111" stroke-width="0.8"/>
<path d="M1053.3 102.1l1.7 1.7l-1.7 1.7l-1.7 -1.7z" fill="#777" stroke="#111" stroke-width="0.8"/>
<path d="M1052.6 107.8l1.7 1.7l-1.7 1.7l-1.7 -1.7z" fill="#777" stroke="#111" stroke-width="0.8"/>
<path d="M1053.5 113.8l1.7 1.7l-1.7 1.7l-1.7 -1.7z" fill="#777" stroke="#111" stroke-width="0.8"/>
<path d="M1053.4 120.7l1.7 1.7l-1.7 1.7l-1.7 -1.7z" fill="#777" stroke="#111" stroke-width="0.8"/>
<path d="M1053.1 127.1l1.7 1.7l-1.7 1.7l-1.7 -1.7z" fill="#777" stroke="#111" stroke-width="0.8"/>
<path d="M1053.4 133.1l1.7 1.7l-1.7 1.7l-1.7 -1.7z" fill="#777" stroke="#111" stroke-width="0.8"/>
<path d="M1053.3 138.4l1.7 1.7l-1.7 1.7l-1.7 -1.7z" fill="#777" stroke="#111" stroke-width="0.8"/>
<path d="M1052.9 145.2l1.7 1.7l-1.7 1.7l-1.7 -1.7z" fill="#777" stroke="#111" stroke-width="0.8"/>
<path d="M1053.2 152.4l1.7 1.7l-1.7 1.7l-1.7 -1.7z" fill="#777" stroke="#111" stroke-width="0.8"/>
<path d="M1052.9 159.2l1.7 1.7l-1.7 1.7l-1.7 -1.7z" fill="#777" stroke="#111" stroke-width="0.8"/>
<path d="M1054.7 91.9l1.7 1.7l-1.7 1.7l-1.7 -1.7z" fill="#777" stroke="#111" stroke-width="0.8"/>
<path d="M1054.6 98.3l1.7 1.7l-1.7 1.7l-1.7 -1.7z" fill="#777" stroke="#111" stroke-width="0.8"/>
<path d="M1054.7 105.7l1.7 1.7l-1.7 1.7l-1.7 -1.7z" fill="#777" stroke="#111" stroke-width="0.8"/>
<path d="M1054.9 112.2l1.7 1.7l-1.7 1.7l-1.7 -1.7z" fill="#777" stroke="#111" stroke-width="0.8"/>
<path d="M1055.0 117.8l1.7 1.7l-1.7 1.7l-1.7 -1.7z" fill="#777" stroke="#111" stroke-width="0.8"/>
<path d="M1055.5 124.4l1.7 1.7l-1.7 1.7l-1.7 -1.7z" fill="#777" stroke="#111" stroke-width="0.8"/>
<path d="M1055.2 129.0l1.7 1.7l-1.7 1.7l-1.7 -1.7z" fill="#777" stroke="#111" stroke-width="0.8"/>
<path d="M1054.3 134.3l1.7 1.7l-1.7 1.7l-1.7 -1.7z" fill="#777" stroke="#111" stroke-width="0.8"/>
<path d="M1054.4 139.4l1.7 1.7l-1.7 1.7l-1.7 -1.7z" fill="#777" stroke="#111" stroke-width="0.8"/>
<path d="M1054.9 144.6l1.7 1.7l-1.7 1.7l-1.7 -1.7z" fill="#777" stroke="#111" stroke-width="0.8"/>
<path d="M1055.0 150.6l1.7 1.7l-1.7 1.7l-1.7 -1.7z" fill="#777" stroke="#111" stroke-width="0.8"/>
<path d="M1055.2 158.1l1.7 1.7l-1.7 1.7l-1.7 -1.7z" fill="#777" stroke="#111" stroke-width="0.8"/>
<path d="M1055.2 162.8l1.7 1.7l-1.7 1.7l-1.7 -1.7z" fill="#777" stroke="#111" stroke-width="0.8"/>
<path d="M1054.5 167.5l1.7 1.7l-1.7 1.7l-1.7 -1.7z" fill="#777" stroke="#111" stroke-width="0.8"/>
<path d="M1057.4 93.6l1.7 1.7l-1.7 1.7l-1.7 -1.7z" fill="#777" stroke="#111" stroke-width="0.8"/>
<path d="M1057.0 99.4l1.7 1.7l-1.7 1.7l-1.7 -1.7z" fill="#777" stroke="#111" stroke-width="0.8"/>
<path d="M1057.1 105.0l1.7 1.7l-1.7 1.7l-1.7 -1.7z" fill="#777" stroke="#111" stroke-width="0.8"/>
<path d="M1057.1 111.2l1.7 1.7l-1.7 1.7l-1.7 -1.7z" fill="#777" stroke="#111" stroke-width="0.8"/>
<path d="M1056.6 116.6l1.7 1.7l-1.7 1.7l-1.7 -1.7z" fill="#777" stroke="#111" stroke-width="0.8"/>
<path d="M1057.2 121.2l1.7 1.7l-1.7 1.7l-1.7 -1.7z" fill="#777" stroke="#111" stroke-width="0.8"/>
<path d="M1057.2 126.9l1.7 1.7l-1.7 1.7l-1.7 -1.7z" fill="#777" stroke="#111" stroke-width="0.8"/>
<path d="M1057.4 131.5l1.7 1.7l-1.7 1.7l-1.7 -1.7z" fill="#777" stroke="#111" stroke-width="0.8"/>
<path d="M1056.8 136.2l1.7 1.7l-1.7 1.7l-1.7 -1.7z" fill="#777" stroke="#111" stroke-width="0.8"/>
<path d="M1056.6 142.2l1.7 1.7l-1.7 1.7l-1.7 -1.7z" fill="#777" stroke="#111" stroke-width="0.8"/>
<path d="M1057.1 148.2l1.7 1.7l-1.7 1.7l-1.7 -1.7z" fill="#777" stroke="#111" stroke-width="0.8"/>
<path d="M1057.3 154.1l1.7 1.7l-1.7 1.7l-1.7 -1.7z" fill="#777" stroke="#111" stroke-width="0.8"/>
<path d="M1058.4 91.8l1.7 1.7l-1.7 1.7l-1.7 -1.7z" fill="#777" stroke="#111" stroke-width="0.8"/>
<path d="M1058.9 97.9l1.7 1.7l-1.7 1.7l-1.7 -1.7z" fill="#777" stroke="#111" stroke-width="0.8"/>
<path d="M1058.7 104.4l1.7 1.7l-1.7 1.7l-1.7 -1.7z" fill="#777" stroke="#111" stroke-width="0.8"/>
<path d="M1059.3 110.6l1.7 1.7l-1.7 1.7l-1.7 -1.7z" fill="#777" stroke="#111" stroke-width="0.8"/>
<path d="M1059.5 116.7l1.7 1.7l-1.7 1.7l-1.7 -1.7z" fill="#777" stroke="#111" stroke-width="0.8"/>
<path d="M1058.5 123.4l1.7 1.7l-1.7 1.7l-1.7 -1.7z" fill="#777" stroke="#111" stroke-width="0.8"/>
<path d="M1059.1 130.6l1.7 1.7l-1.7 1.7l-1.7 -1.7z" fill="#777" stroke="#111" stroke-width="0.8"/>
<path d="M1059.2 136.2l1.7 1.7l-1.7 1.7l-1.7 -1.7z" fill="#777" stroke="#111" stroke-width="0.8"/>
<path d="M1059.1 142.3l1.7 1.7l-1.7 1.7l-1.7 -1.7z" fill="#777" stroke="#111" stroke-width="0.8"/>
<path d="M1058.7 149.1l1.7 1.7l-1.7 1.7l-1.7 -1.7z" fill="#777" stroke="#111" stroke-width="0.8"/>
<path d="M1059.4 156.5l1.7 1.7l-1.7 1.7l-1.7 -1.7z" fill="#777" stroke="#111" stroke-width="0.8"/>
<path d="M1060.3 91.4l1.7 1.7l-1.7 1.7l-1.7 -1.7z" fill="#777" stroke="#111" stroke-width="0.8"/>
<path d="M1060.3 97.5l1.7 1.7l-1.7 1.7l-1.7 -1.7z" fill="#777" stroke="#111" stroke-width="0.8"/>
<path d="M1060.9 104.1l1.7 1.7l-1.7 1.7l-1.7 -1.7z" fill="#777" stroke="#111" stroke-width="0.8"/>
<path d="M1060.4 109.7l1.7 1.7l-1.7 1.7l-1.7 -1.7z" fill="#777" stroke="#111" stroke-width="0.8"/>
<path d="M1061.2 115.2l1.7 1.7l-1.7 1.7l-1.7 -1.7z" fill="#777" stroke="#111" stroke-width="0.8"/>
<path d="M1061.2 119.9l1.7 1.7l-1.7 1.7l-1.7 -1.7z" fill="#777" stroke="#111" stroke-width="0.8"/>
<path d="M1060.4 126.3l1.7 1.7l-1.7 1.7l-1.7 -1.7z" fill="#777" stroke="#111" stroke-width="0.8"/>
<path d="M1061.2 132.1l1.7 1.7l-1.7 1.7l-1.7 -1.7z" fill="#777" stroke="#111" stroke-width="0.8"/>
<path d="M1061.4 137.7l1.7 1.7l-1.7 1.7l-1.7 -1.7z" fill="#777" stroke="#111" stroke-width="0.8"/>
<path d="M1061.1 143.2l1.7 1.7l-1.7 1.7l-1.7 -1.7z" fill="#777" stroke="#111" stroke-width="0.8"/>
<path d="M1060.6 150.4l1.7 1.7l-1.7 1.7l-1.7 -1.7z" fill="#777" stroke="#111" stroke-width="0.8"/>
<path d="M1060.3 155.2l1.7 1.7l-1.7 1.7l-1.7 -1.7z" fill="#777" stroke="#111" stroke-width="0.8"/>
<path d="M1060.8 160.0l1.7 1.7l-1.7 1.7l-1.7 -1.7z" fill="#777" stroke="#111" stroke-width="0.8"/>
<path d="M1063.2 87.2l1.7 1.7l-1.7 1.7l-1.7 -1.7z" fill="#777" stroke="#111" stroke-width="0.8"/>
<path d="M1063.3 92.0l1.7 1.7l-1.7 1.7l-1.7 -1.7z" fill="#777" stroke="#111" stroke-width="0.8"/>
<path d="M1062.6 98.5l1.7 1.7l-1.7 1.7l-1.7 -1.7z" fill="#777" stroke="#111" stroke-width="0.8"/>
<path d="M1062.8 104.1l1.7 1.7l-1.7 1.7l-1.7 -1.7z" fill="#777" stroke="#111" stroke-width="0.8"/>
<path d="M1063.1 109.0l1.7 1.7l-1.7 1.7l-1.7 -1.7z" fill="#777" stroke="#111" stroke-width="0.8"/>
<path d="M1063.5 116.2l1.7 1.7l-1.7 1.7l-1.7 -1.7z" fill="#777" stroke="#111" stroke-width="0.8"/>
<path d="M1062.8 122.0l1.7 1.7l-1.7 1.7l-1.7 -1.7z" fill="#777" stroke="#111" stroke-width="0.8"/>
<path d="M1063.5 127.5l1.7 1.7l-1.7 1.7l-1.7 -1.7z" fill="#777" stroke="#111" stroke-width="0.8"/>
<path d="M1062.8 134.7l1.7 1.7l-1.7 1.7l-1.7 -1.7z" fill="#777" stroke="#111" stroke-width="0.8"/>
<path d="M1062.9 140.3l1.7 1.7l-1.7 1.7l-1.7 -1.7z" fill="#777" stroke="#111" stroke-width="0.8"/>
<path d="M1063.1 145.9l1.7 1.7l-1.7 1.7l-1.7 -1.7z" fill="#777" stroke="#111" stroke-width="0.8"/>
<path d="M1063.4 152.8l1.7 1.7l-1.7 1.7l-1.7 -1.7z" fill="#777" stroke="#111" stroke-width="0.8"/>
<path d="M1063.3 159.0l1.7 1.7l-1.7 1.7l-1.7 -1.7z" fill="#777" stroke="#111" stroke-width="0.8"/>
<path d="M1064.7 92.5l1.7 1.7l-1.7 1.7l-1.7 -1.7z" fill="#777" stroke="#111" stroke-width="0.8"/>
<path d="M1065.0 99.9l1.7 1.7l-1.7 1.7l-1.7 -1.7z" fill="#777" stroke="#111" stroke-width="0.8"/>
<path d="M1065.0 104.6l1.7 1.7l-1.7 1.7l-1.7 -1.7z" fill="#777" stroke="#111" stroke-width="0.8"/>
<path d="M1064.9 109.3l1.7 1.7l-1.7 1.7l-1.7 -1.7z" fill="#777" stroke="#111" stroke-width="0.8"/>
<path d="M1064.8 116.5l1.7 1.7l-1.7 1.7l-1.7 -1.7z" fill="#777" stroke="#111" stroke-width="0.8"/>
<path d="M1064.8 121.5l1.7 1.7l-1.7 1.7l-1.7 -1.7z" fill="#777" stroke="#111" stroke-width="0.8"/>
<path d="M1064.9 126.7l1.7 1.7l-1.7 1.7l-1.7 -1.7z" fill="#777" stroke="#111" stroke-width="0.8"/>
<path d="M1064.5 132.8l1.7 1.7l-1.7 1.7l-1.7 -1.7z" fill="#777" stroke="#111" stroke-width="0.8"/>
<path d="M1064.8 138.3l1.7 1.7l-1.7 1.7l-1.7 -1.7z" fill="#777" stroke="#111" stroke-width="0.8"/>
<path d="M1064.9 144.3l1.7 1.7l-1.7 1.7l-1.7 -1.7z" fill="#777" stroke="#111" stroke-width="0.8"/>
<path d="M1064.5 150.9l1.7 1.7l-1.7 1.7l-1.7 -1.7z" fill="#777" stroke="#111" stroke-width="0.8"/>
<path d="M1065.1 157.9l1.7 1.7l-1.7 1.7l-1.7 -1.7z" fill="#777" stroke="#111" stroke-width="0.8"/>
<path d="M1065.1 164.8l1.7 1.7l-1.7 1.7l-1.7 -1.7z" fill="#777" stroke="#111" stroke-width="0.8"/>
<path d="M1066.6 94.8l1.7 1.7l-1.7 1.7l-1.7 -1.7z" fill="#777" stroke="#111" stroke-width="0.8"/>
<path d="M1066.9 100.6l1.7 1.7l-1.7 1.7l-1.7 -1.7z" fill="#777" stroke="#111" stroke-width="0.8"/>
<path d="M1066.2 108.1l1.7 1.7l-1.7 1.7l-1.7 -1.7z" fill="#777" stroke="#111" stroke-width="0.8"/>
<path d="M1066.4 113.2l1.7 1.7l-1.7 1.7l-1.7 -1.7z" fill="#777" stroke="#111" stroke-width="0.8"/>
<path d="M1066.4 120.6l1.7 1.7l-1.7 1.7l-1.7 -1.7z" fill="#777" stroke="#111" stroke-width="0.8"/>
<path d="M1067.0 125.4l1.7 1.7l-1.7 1.7l-1.7 -1.7z" fill="#777" stroke="#111" stroke-width="0.8"/>
<path d="M1066.6 130.5l1.7 1.7l-1.7 1.7l-1.7 -1.7z" fill="#777" stroke="#111" stroke-width="0.8"/>
<path d="M1066.1 136.7l1.7 1.7l-1.7 1.7l-1.7 -1.7z" fill="#777" stroke="#111" stroke-width="0.8"/>
<path d="M1066.3 141.5l1.7 1.7l-1.7 1.7l-1.7 -1.7z" fill="#777" stroke="#111" stroke-width="0.8"/>
<path d="M1066.8 146.7l1.7 1.7l-1.7 1.7l-1.7 -1.7z" fill="#777" stroke="#111" stroke-width="0.8"/>
<path d="M1066.4 151.9l1.7 1.7l-1.7 1.7l-1.7 -1.7z" fill="#777" stroke="#111" stroke-width="0.8"/>
<path d="M1066.4 156.9l1.7 1.7l-1.7 1.7l-1.7 -1.7z" fill="#777" stroke="#111" stroke-width="0.8"/>
<path d="M1066.6 163.1l1.7 1.7l-1.7 1.7l-1.7 -1.7z" fill="#777" stroke="#111" stroke-width="0.8"/>
<path d="M1067.1 168.4l1.7 1.7l-1.7 1.7l-1.7 -1.7z" fill="#777" stroke="#111" stroke-width="0.8"/>
<path d="M1068.5 92.1l1.7 1.7l-1.7 1.7l-1.7 -1.7z" fill="#777" stroke="#111" stroke-width="0.8"/>
<path d="M1068.9 99.4l1.7 1.7l-1.7 1.7l-1.7 -1.7z" fill="#777" stroke="#111" stroke-width="0.8"/>
<path d="M1068.7 105.5l1.7 1.7l-1.7 1.7l-1.7 -1.7z" fill="#777" stroke="#111" stroke-width="0.8"/>
<path d="M1068.7 113.0l1.7 1.7l-1.7 1.7l-1.7 -1.7z" fill="#777" stroke="#111" stroke-width="0.8"/>
<path d="M1068.9 117.5l1.7 1.7l-1.7 1.7l-1.7 -1.7z" fill="#777" stroke="#111" stroke-width="0.8"/>
<path d="M1069.1 124.4l1.7 1.7l-1.7 1.7l-1.7 -1.7z" fill="#777" stroke="#111" stroke-width="0.8"/>
<path d="M1068.8 129.4l1.7 1.7l-1.7 1.7l-1.7 -1.7z" fill="#777" stroke="#111" stroke-width="0.8"/>
<path d="M1069.0 134.7l1.7 1.7l-1.7 1.7l-1.7 -1.7z" fill="#777" stroke="#111" stroke-width="0.8"/>
<path d="M1068.7 141.1l1.7 1.7l-1.7 1.7l-1.7 -1.7z" fill="#777" stroke="#111" stroke-width="0.8"/>
<path d="M1069.3 147.2l1.7 1.7l-1.7 1.7l-1.7 -1.7z" fill="#777" stroke="#111" stroke-width="0.8"/>
<path d="M1069.4 151.7l1.7 1.7l-1.7 1.7l-1.7 -1.7z" fill="#777" stroke="#111" stroke-width="0.8"/>
<path d="M1068.7 158.6l1.7 1.7l-1.7 1.7l-1.7 -1.7z" fill="#777" stroke="#111" stroke-width="0.8"/>
<path d="M1071.1 91.9l1.7 1.7l-1.7 1.7l-1.7 -1.7z" fill="#777" stroke="#111" stroke-width="0.8"/>
<path d="M1071.3 99.0l1.7 1.7l-1.7 1.7l-1.7 -1.7z" fill="#777" stroke="#111" stroke-width="0.8"/>
<path d="M1070.5 104.7l1.7 1.7l-1.7 1.7l-1.7 -1.7z" fill="#777" stroke="#111" stroke-width="0.8"/>
<path d="M1071.0 111.7l1.7 1.7l-1.7 1.7l-1.7 -1.7z" fill="#777" stroke="#111" stroke-width="0.8"/>
<path d="M1071.4 117.8l1.7 1.7l-1.7 1.7l-1.7 -1.7z" fill="#777" stroke="#111" stroke-width="0.8"/>
<path d="M1070.5 123.2l1.7 1.7l-1.7 1.7l-1.7 -1.7z" fill="#777" stroke="#111" stroke-width="0.8"/>
<path d="M1071.3 128.7l1.7 1.7l-1.7 1.7l-1.7 -1.7z" fill="#777" stroke="#111" stroke-width="0.8"/>
<path d="M1070.5 134.2l1.7 1.7l-1.7 1.7l-1.7 -1.7z" fill="#777" stroke="#111" stroke-width="0.8"/>
<path d="M1071.6 139.9l1.7 1.7l-1.7 1.7l-1.7 -1.7z" fill="#777" stroke="#111" stroke-width="0.8"/>
<path d="M1070.4 146.9l1.7 1.7l-1.7 1.7l-1.7 -1.7z" fill="#777" stroke="#111" stroke-width="0.8"/>
<path d="M1070.7 152.5l1.7 1.7l-1.7 1.7l-1.7 -1.7z" fill="#777" stroke="#111" stroke-width="0.8"/>
<path d="M1070.4 158.7l1.7 1.7l-1.7 1.7l-1.7 -1.7z" fill="#777" stroke="#111" stroke-width="0.8"/>
<path d="M1070.6 166.2l1.7 1.7l-1.7 1.7l-1.7 -1.7z" fill="#777" stroke="#111" stroke-width="0.8"/>
<path d="M1072.7 92.8l1.7 1.7l-1.7 1.7l-1.7 -1.7z" fill="#777" stroke="#111" stroke-width="0.8"/>
<path d="M1072.6 98.5l1.7 1.7l-1.7 1.7l-1.7 -1.7z" fill="#777" stroke="#111" stroke-width="0.8"/>
<path d="M1072.7 103.6l1.7 1.7l-1.7 1.7l-1.7 -1.7z" fill="#777" stroke="#111" stroke-width="0.8"/>
<path d="M1073.2 110.9l1.7 1.7l-1.7 1.7l-1.7 -1.7z" fill="#777" stroke="#111" stroke-width="0.8"/>
<path d="M1072.4 116.4l1.7 1.7l-1.7 1.7l-1.7 -1.7z" fill="#777" stroke="#111" stroke-width="0.8"/>
<path d="M1073.1 121.3l1.7 1.7l-1.7 1.7l-1.7 -1.7z" fill="#777" stroke="#111" stroke-width="0.8"/>
<path d="M1072.8 127.9l1.7 1.7l-1.7 1.7l-1.7 -1.7z" fill="#777" stroke="#111" stroke-width="0.8"/>
<path d="M1072.4 134.9l1.7 1.7l-1.7 1.7l-1.7 -1.7z" fill="#777" stroke="#111" stroke-width="0.8"/>
<path d="M1072.4 140.1l1.7 1.7l-1.7 1.7l-1.7 -1.7z" fill="#777" stroke="#111" stroke-width="0.8"/>
<path d="M1073.4 145.8l1.7 1.7l-1.7 1.7l-1.7 -1.7z" fill="#777" stroke="#111" stroke-width="0.8"/>
<path d="M1073.1 151.6l1.7 1.7l-1.7 1.7l-1.7 -1.7z" fill="#777" stroke="#111" stroke-width="0.8"/>
<path d="M1072.8 158.4l1.7 1.7l-1.7 1.7l-1.7 -1.7z" fill="#777" stroke="#111" stroke-width="0.8"/>
<path d="M1072.3 163.9l1.7 1.7l-1.7 1.7l-1.7 -1.7z" fill="#777" stroke="#111" stroke-width="0.8"/>
<path d="M1073.5 169.6l1.7 1.7l-1.7 1.7l-1.7 -1.7z" fill="#777" stroke="#111" stroke-width="0.8"/>
<path d="M1074.8 86.5l1.7 1.7l-1.7 1.7l-1.7 -1.7z" fill="#777" stroke="#111" stroke-width="0.8"/>
<path d="M1074.8 93.0l1.7 1.7l-1.7 1.7l-1.7 -1.7z" fill="#777" stroke="#111" stroke-width="0.8"/>
<path d="M1075.4 99.0l1.7 1.7l-1.7 1.7l-1.7 -1.7z" fill="#777" stroke="#111" stroke-width="0.8"/>
<path d="M1075.3 105.3l1.7 1.7l-1.7 1.7l-1.7 -1.7z" fill="#777" stroke="#111" stroke-width="0.8"/>
<path d="M1074.8 112.5l1.7 1.7l-1.7 1.7l-1.7 -1.7z" fill="#777" stroke="#111" stroke-width="0.8"/>
<path d="M1075.2 118.5l1.7 1.7l-1.7 1.7l-1.7 -1.7z" fill="#777" stroke="#111" stroke-width="0.8"/>
<path d="M1075.2 126.0l1.7 1.7l-1.7 1.7l-1.7 -1.7z" fill="#777" stroke="#111" stroke-width="0.8"/>
<path d="M1075.5 133.0l1.7 1.7l-1.7 1.7l-1.7 -1.7z" fill="#777" stroke="#111" stroke-width="0.8"/>
<path d="M1074.5 139.4l1.7 1.7l-1.7 1.7l-1.7 -1.7z" fill="#777" stroke="#111" stroke-width="0.8"/>
<path d="M1075.2 144.6l1.7 1.7l-1.7 1.7l-1.7 -1.7z" fill="#777" stroke="#111" stroke-width="0.8"/>
<path d="M1074.8 150.1l1.7 1.7l-1.7 1.7l-1.7 -1.7z" fill="#777" stroke="#111" stroke-width="0.8"/>
<path d="M1075.6 156.0l1.7 1.7l-1.7 1.7l-1.7 -1.7z" fill="#777" stroke="#111" stroke-width="0.8"/>
<path d="M1075.0 160.9l1.7 1.7l-1.7 1.7l-1.7 -1.7z" fill="#777" stroke="#111" stroke-width="0.8"/>
<path d="M1074.7 167.1l1.7 1.7l-1.7 1.7l-1.7 -1.7z" fill="#777" stroke="#111" stroke-width="0.8"/>
<path d="M1075.4 174.3l1.7 1.7l-1.7 1.7l-1.7 -1.7z" fill="#777" stroke="#111" stroke-width="0.8"/>
<path d="M1076.9 89.8l1.7 1.7l-1.7 1.7l-1.7 -1.7z" fill="#777" stroke="#111" stroke-width="0.8"/>
<path d="M1076.9 96.0l1.7 1.7l-1.7 1.7l-1.7 -1.7z" fill="#777" stroke="#111" stroke-width="0.8"/>
<path d="M1076.7 102.1l1.7 1.7l-1.7 1.7l-1.7 -1.7z" fill="#777" stroke="#111" stroke-width="0.8"/>
<path d="M1077.8 107.2l1.7 1.7l-1.7 1.7l-1.7 -1.7z" fill="#777" stroke="#111" stroke-width="0.8"/>
<path d="M1077.4 113.6l1.7 1.7l-1.7 1.7l-1.7 -1.7z" fill="#777" stroke="#111" stroke-width="0.8"/>
<path d="M1077.4 120.4l1.7 1.7l-1.7 1.7l-1.7 -1.7z" fill="#777" stroke="#111" stroke-width="0.8"/>
<path d="M1076.9 127.3l1.7 1.7l-1.7 1.7l-1.7 -1.7z" fill="#777" stroke="#111" stroke-width="0.8"/>
<path d="M1077.1 133.2l1.7 1.7l-1.7 1.7l-1.7 -1.7z" fill="#777" stroke="#111" stroke-width="0.8"/>
<path d="M1077.3 139.4l1.7 1.7l-1.7 1.7l-1.7 -1.7z" fill="#777" stroke="#111" stroke-width="0.8"/>
<path d="M1077.0 144.7l1.7 1.7l-1.7 1.7l-1.7 -1.7z" fill="#777" stroke="#111" stroke-width="0.8"/>
<path d="M1077.4 151.1l1.7 1.7l-1.7 1.7l-1.7 -1.7z" fill="#777" stroke="#111" stroke-width="0.8"/>
<path d="M1077.4 156.0l1.7 1.7l-1.7 1.7l-1.7 -1.7z" fill="#777" stroke="#111" stroke-width="0.8"/>
<path d="M1077.4 161.9l1.7 1.7l-1.7 1.7l-1.7 -1.7z" fill="#777" stroke="#111" stroke-width="0.8"/>
<path d="M1077.5 168.5l1.7 1.7l-1.7 1.7l-1.7 -1.7z" fill="#777" stroke="#111" stroke-width="0.8"/>
<path d="M1077.6 174.5l1.7 1.7l-1.7 1.7l-1.7 -1.7z" fill="#777" stroke="#111" stroke-width="0.8"/>
<path d="M1079.2 93.1l1.7 1.7l-1.7 1.7l-1.7 -1.7z" fill="#777" stroke="#111" stroke-width="0.8"/>
<path d="M1079.7 99.2l1.7 1.7l-1.7 1.7l-1.7 -1.7z" fill="#777" stroke="#111" stroke-width="0.8"/>
<path d="M1079.5 104.6l1.7 1.7l-1.7 1.7l-1.7 -1.7z" fill="#777" stroke="#111" stroke-width="0.8"/>
<path d="M1079.3 111.8l1.7 1.7l-1.7 1.7l-1.7 -1.7z" fill="#777" stroke="#111" stroke-width="0.8"/>
<path d="M1079.3 118.6l1.7 1.7l-1.7 1.7l-1.7 -1.7z" fill="#777" stroke="#111" stroke-width="0.8"/>
<path d="M1079.1 123.3l1.7 1.7l-1.7 1.7l-1.7 -1.7z" fill="#777" stroke="#111" stroke-width="0.8"/>
<path d="M1078.7 129.3l1.7 1.7l-1.7 1.7l-1.7 -1.7z" fill="#777" stroke="#111" stroke-width="0.8"/>
<path d="M1078.9 135.9l1.7 1.7l-1.7 1.7l-1.7 -1.7z" fill="#777" stroke="#111" stroke-width="0.8"/>
<path d="M1078.9 141.3l1.7 1.7l-1.7 1.7l-1.7 -1.7z" fill="#777" stroke="#111" stroke-width="0.8"/>
<path d="M1079.8 146.0l1.7 1.7l-1.7 1.7l-1.7 -1.7z" fill="#777" stroke="#111" stroke-width="0.8"/>
<path d="M1079.1 152.5l1.7 1.7l-1.7 1.7l-1.7 -1.7z" fill="#777" stroke="#111" stroke-width="0.8"/>
<path d="M1079.5 159.4l1.7 1.7l-1.7 1.7l-1.7 -1.7z" fill="#777" stroke="#111" stroke-width="0.8"/>
<path d="M1078.7 165.6l1.7 1.7l-1.7 1.7l-1.7 -1.7z" fill="#777" stroke="#111" stroke-width="0.8"/>
<path d="M1080.9 97.7l1.7 1.7l-1.7 1.7l-1.7 -1.7z" fill="#777" stroke="#111" stroke-width="0.8"/>
<path d="M1080.7 103.1l1.7 1.7l-1.7 1.7l-1.7 -1.7z" fill="#777" stroke="#111" stroke-width="0.8"/>
<path d="M1081.1 110.3l1.7 1.7l-1.7 1.7l-1.7 -1.7z" fill="#777" stroke="#111" stroke-width="0.8"/>
<path d="M1080.7 115.9l1.7 1.7l-1.7 1.7l-1.7 -1.7z" fill="#777" stroke="#111" stroke-width="0.8"/>
<path d="M1081.0 120.5l1.7 1.7l-1.7 1.7l-1.7 -1.7z" fill="#777" stroke="#111" stroke-width="0.8"/>
<path d="M1081.8 126.5l1.7 1.7l-1.7 1.7l-1.7 -1.7z" fill="#777" stroke="#111" stroke-width="0.8"/>
<path d="M1081.0 132.4l1.7 1.7l-1.7 1.7l-1.7 -1.7z" fill="#777" stroke="#111" stroke-width="0.8"/>
<path d="M1080.9 139.6l1.7 1.7l-1.7 1.7l-1.7 -1.7z" fill="#777" stroke="#111" stroke-width="0.8"/>
<path d="M1081.2 146.7l1.7 1.7l-1.7 1.7l-1.7 -1.7z" fill="#777" stroke="#111" stroke-width="0.8"/>
<path d="M1081.8 151.7l1.7 1.7l-1.7 1.7l-1.7 -1.7z" fill="#777" stroke="#111" stroke-width="0.8"/>
<path d="M1080.9 156.8l1.7 1.7l-1.7 1.7l-1.7 -1.7z" fill="#777" stroke="#111" stroke-width="0.8"/>
<path d="M1083.4 95.0l1.7 1.7l-1.7 1.7l-1.7 -1.7z" fill="#777" stroke="#111" stroke-width="0.8"/>
<path d="M1082.5 102.1l1.7 1.7l-1.7 1.7l-1.7 -1.7z" fill="#777" stroke="#111" stroke-width="0.8"/>
<path d="M1082.8 108.7l1.7 1.7l-1.7 1.7l-1.7 -1.7z" fill="#777" stroke="#111" stroke-width="0.8"/>
<path d="M1082.7 113.4l1.7 1.7l-1.7 1.7l-1.7 -1.7z" fill="#777" stroke="#111" stroke-width="0.8"/>
<path d="M1082.5 120.1l1.7 1.7l-1.7 1.7l-1.7 -1.7z" fill="#777" stroke="#111" stroke-width="0.8"/>
<path d="M1083.3 125.3l1.7 1.7l-1.7 1.7l-1.7 -1.7z" fill="#777" stroke="#111" stroke-width="0.8"/>
<path d="M1083.4 130.9l1.7 1.7l-1.7 1.7l-1.7 -1.7z" fill="#777" stroke="#111" stroke-width="0.8"/>
<path d="M1082.7 137.2l1.7 1.7l-1.7 1.7l-1.7 -1.7z" fill="#777" stroke="#111" stroke-width="0.8"/>
<path d="M1082.6 144.4l1.7 1.7l-1.7 1.7l-1.7 -1.7z" fill="#777" stroke="#111" stroke-width="0.8"/>
<path d="M1083.5 150.9l1.7 1.7l-1.7 1.7l-1.7 -1.7z" fill="#777" stroke="#111" stroke-width="0.8"/>
<path d="M1082.9 156.7l1.7 1.7l-1.7 1.7l-1.7 -1.7z" fill="#777" stroke="#111" stroke-width="0.8"/>
<path d="M1082.6 161.3l1.7 1.7l-1.7 1.7l-1.7 -1.7z" fill="#777" stroke="#111" stroke-width="0.8"/>
<path d="M1082.4 166.6l1.7 1.7l-1.7 1.7l-1.7 -1.7z" fill="#777" stroke="#111" stroke-width="0.8"/>
<path d="M1084.3 89.6l1.7 1.7l-1.7 1.7l-1.7 -1.7z" fill="#777" stroke="#111" stroke-width="0.8"/>
<path d="M1084.1 96.8l1.7 1.7l-1.7 1.7l-1.7 -1.7z" fill="#777" stroke="#111" stroke-width="0.8"/>
<path d="M1084.6 102.7l1.7 1.7l-1.7 1.7l-1.7 -1.7z" fill="#777" stroke="#111" stroke-width="0.8"/>
<path d="M1084.3 110.0l1.7 1.7l-1.7 1.7l-1.7 -1.7z" fill="#777" stroke="#111" stroke-width="0.8"/>
<path d="M1084.5 116.2l1.7 1.7l-1.7 1.7l-1.7 -1.7z" fill="#777" stroke="#111" stroke-width="0.8"/>
<path d="M1084.7 122.7l1.7 1.7l-1.7 1.7l-1.7 -1.7z" fill="#777" stroke="#111" stroke-width="0.8"/>
<path d="M1084.9 128.7l1.7 1.7l-1.7 1.7l-1.7 -1.7z" fill="#777" stroke="#111" stroke-width="0.8"/>
<path d="M1084.3 134.7l1.7 1.7l-1.7 1.7l-1.7 -1.7z" fill="#777" stroke="#111" stroke-width="0.8"/>
<path d="M1084.8 141.6l1.7 1.7l-1.7 1.7l-1.7 -1.7z" fill="#777" stroke="#111" stroke-width="0.8"/>
<path d="M1085.0 146.8l1.7 1.7l-1.7 1.7l-1.7 -1.7z" fill="#777" stroke="#111" stroke-width="0.8"/>
<path d="M1084.4 153.6l1.7 1.7l-1.7 1.7l-1.7 -1.7z" fill="#777" stroke="#111" stroke-width="0.8"/>
<path d="M1084.8 159.6l1.7 1.7l-1.7 1.7l-1.7 -1.7z" fill="#777" stroke="#111" stroke-width="0.8"/>
<path d="M1087.2 94.9l1.7 1.7l-1.7 1.7l-1.7 -1.7z" fill="#777" stroke="#111" stroke-width="0.8"/>
<path d="M1086.2 99.9l1.7 1.7l-1.7 1.7l-1.7 -1.7z" fill="#777" stroke="#111" stroke-width="0.8"/>
<path d="M1086.7 105.9l1.7 1.7l-1.7 1.7l-1.7 -1.7z" fill="#777" stroke="#111" stroke-width="0.8"/>
<path d="M1086.3 111.2l1.7 1.7l-1.7 1.7l-1.7 -1.7z" fill="#777" stroke="#111" stroke-width="0.8"/>
<path d="M1086.8 118.4l1.7 1.7l-1.7 1.7l-1.7 -1.7z" fill="#777" stroke="#111" stroke-width="0.8"/>
<path d="M1086.4 125.3l1.7 1.7l-1.7 1.7l-1.7 -1.7z" fill="#777" stroke="#111" stroke-width="0.8"/>
<path d="M1086.6 130.7l1.7 1.7l-1.7 1.7l-1.7 -1.7z" fill="#777" stroke="#111" stroke-width="0.8"/>
<path d="M1086.5 137.1l1.7 1.7l-1.7 1.7l-1.7 -1.7z" fill="#777" stroke="#111" stroke-width="0.8"/>
<path d="M1087.2 143.4l1.7 1.7l-1.7 1.7l-1.7 -1.7z" fill="#777" stroke="#111" stroke-width="0.8"/>
<path d="M1086.4 148.4l1.7 1.7l-1.7 1.7l-1.7 -1.7z" fill="#777" stroke="#111" stroke-width="0.8"/>
<path d="M1087.1 154.9l1.7 1.7l-1.7 1.7l-1.7 -1.7z" fill="#777" stroke="#111" stroke-width="0.8"/>
<path d="M1086.6 159.6l1.7 1.7l-1.7 1.7l-1.7 -1.7z" fill="#777" stroke="#111" stroke-width="0.8"/>
<path d="M1086.2 164.8l1.7 1.7l-1.7 1.7l-1.7 -1.7z" fill="#777" stroke="#111" stroke-width="0.8"/>
<path d="M1087.4 170.7l1.7 1.7l-1.7 1.7l-1.7 -1.7z" fill="#777" stroke="#111" stroke-width="0.8"/>
<path d="M1089.4 86.8l1.7 1.7l-1.7 1.7l-1.7 -1.7z" fill="#777" stroke="#111" stroke-width="0.8"/>
<path d="M1088.7 91.7l1.7 1.7l-1.7 1.7l-1.7 -1.7z" fill="#777" stroke="#111" stroke-width="0.8"/>
<path d="M1088.4 97.5l1.7 1.7l-1.7 1.7l-1.7 -1.7z" fill="#777" stroke="#111" stroke-width="0.8"/>
<path d="M1089.3 105.0l1.7 1.7l-1.7 1.7l-1.7 -1.7z" fill="#777" stroke="#111" stroke-width="0.8"/>
<path d="M1089.0 110.1l1.7 1.7l-1.7 1.7l-1.7 -1.7z" fill="#777" stroke="#111" stroke-width="0.8"/>
<path d="M1089.5 115.4l1.7 1.7l-1.7 1.7l-1.7 -1.7z" fill="#777" stroke="#111" stroke-width="0.8"/>
<path d="M1089.6 121.0l1.7 1.7l-1.7 1.7l-1.7 -1.7z" fill="#777" stroke="#111" stroke-width="0.8"/>
<path d="M1088.9 127.3l1.7 1.7l-1.7 1.7l-1.7 -1.7z" fill="#777" stroke="#111" stroke-width="0.8"/>
<path d="M1088.8 133.7l1.7 1.7l-1.7 1.7l-1.7 -1.7z" fill="#777" stroke="#111" stroke-width="0.8"/>
<path d="M1089.1 140.3l1.7 1.7l-1.7 1.7l-1.7 -1.7z" fill="#777" stroke="#111" stroke-width="0.8"/>
<path d="M1088.8 147.5l1.7 1.7l-1.7 1.7l-1.7 -1.7z" fill="#777" stroke="#111" stroke-width="0.8"/>
<path d="M1089.3 154.5l1.7 1.7l-1.7 1.7l-1.7 -1.7z" fill="#777" stroke="#111" stroke-width="0.8"/>
<path d="M1088.6 159.7l1.7 1.7l-1.7 1.7l-1.7 -1.7z" fill="#777" stroke="#111" stroke-width="0.8"/>
<path d="M1090.5 88.9l1.7 1.7l-1.7 1.7l-1.7 -1.7z" fill="#777" stroke="#111" stroke-width="0.8"/>
<path d="M1091.0 94.7l1.7 1.7l-1.7 1.7l-1.7 -1.7z" fill="#777" stroke="#111" stroke-width="0.8"/>
<path d="M1090.6 101.8l1.7 1.7l-1.7 1.7l-1.7 -1.7z" fill="#777" stroke="#111" stroke-width="0.8"/>
<path d="M1090.6 106.5l1.7 1.7l-1.7 1.7l-1.7 -1.7z" fill="#777" stroke="#111" stroke-width="0.8"/>
<path d="M1090.4 111.8l1.7 1.7l-1.7 1.7l-1.7 -1.7z" fill="#777" stroke="#111" stroke-width="0.8"/>
<path d="M1091.2 117.1l1.7 1.7l-1.7 1.7l-1.7 -1.7z" fill="#777" stroke="#111" stroke-width="0.8"/>
<path d="M1090.6 123.8l1.7 1.7l-1.7 1.7l-1.7 -1.7z" fill="#777" stroke="#111" stroke-width="0.8"/>
<path d="M1090.6 128.7l1.7 1.7l-1.7 1.7l-1.7 -1.7z" fill="#777" stroke="#111" stroke-width="0.8"/>
<path d="M1091.2 135.5l1.7 1.7l-1.7 1.7l-1.7 -1.7z" fill="#777" stroke="#111" stroke-width="0.8"/>
<path d="M1090.6 140.1l1.7 1.7l-1.7 1.7l-1.7 -1.7z" fill="#777" stroke="#111" stroke-width="0.8"/>
<path d="M1090.5 144.8l1.7 1.7l-1.7 1.7l-1.7 -1.7z" fill="#777" stroke="#111" stroke-width="0.8"/>
<path d="M1090.2 151.7l1.7 1.7l-1.7 1.7l-1.7 -1.7z" fill="#777" stroke="#111" stroke-width="0.8"/>
<path d="M1090.2 157.3l1.7 1.7l-1.7 1.7l-1.7 -1.7z" fill="#777" stroke="#111" stroke-width="0.8"/>
<path d="M1090.2 162.3l1.7 1.7l-1.7 1.7l-1.7 -1.7z" fill="#777" stroke="#111" stroke-width="0.8"/>
<path d="M1092.5 87.9l1.7 1.7l-1.7 1.7l-1.7 -1.7z" fill="#777" stroke="#111" stroke-width="0.8"/>
<path d="M1092.4 94.6l1.7 1.7l-1.7 1.7l-1.7 -1.7z" fill="#777" stroke="#111" stroke-width="0.8"/>
<path d="M1093.0 99.7l1.7 1.7l-1.7 1.7l-1.7 -1.7z" fill="#777" stroke="#111" stroke-width="0.8"/>
<path d="M1093.2 105.4l1.7 1.7l-1.7 1.7l-1.7 -1.7z" fill="#777" stroke="#111" stroke-width="0.8"/>
<path d="M1092.6 110.6l1.7 1.7l-1.7 1.7l-1.7 -1.7z" fill="#777" stroke="#111" stroke-width="0.8"/>
<path d="M1092.2 115.8l1.7 1.7l-1.7 1.7l-1.7 -1.7z" fill="#777" stroke="#111" stroke-width="0.8"/>
<path d="M1093.1 122.2l1.7 1.7l-1.7 1.7l-1.7 -1.7z" fill="#777" stroke="#111" stroke-width="0.8"/>
<path d="M1093.0 129.6l1.7 1.7l-1.7 1.7l-1.7 -1.7z" fill="#777" stroke="#111" stroke-width="0.8"/>
<path d="M1093.0 136.8l1.7 1.7l-1.7 1.7l-1.7 -1.7z" fill="#777" stroke="#111" stroke-width="0.8"/>
<path d="M1093.2 143.3l1.7 1.7l-1.7 1.7l-1.7 -1.7z" fill="#777" stroke="#111" stroke-width="0.8"/>
<path d="M1092.3 148.5l1.7 1.7l-1.7 1.7l-1.7 -1.7z" fill="#777" stroke="#111" stroke-width="0.8"/>
<path d="M1092.2 154.3l1.7 1.7l-1.7 1.7l-1.7 -1.7z" fill="#777" stroke="#111" stroke-width="0.8"/>
<path d="M1092.8 160.0l1.7 1.7l-1.7 1.7l-1.7 -1.7z" fill="#777" stroke="#111" stroke-width="0.8"/>
<path d="M1094.9 92.0l1.7 1.7l-1.7 1.7l-1.7 -1.7z" fill="#777" stroke="#111" stroke-width="0.8"/>
<path d="M1094.5 97.2l1.7 1.7l-1.7 1.7l-1.7 -1.7z" fill="#777" stroke="#111" stroke-width="0.8"/>
<path d="M1094.8 103.0l1.7 1.7l-1.7 1.7l-1.7 -1.7z" fill="#777" stroke="#111" stroke-width="0.8"/>
<path d="M1094.9 109.6l1.7 1.7l-1.7 1.7l-1.7 -1.7z" fill="#777" stroke="#111" stroke-width="0.8"/>
<path d="M1094.5 114.2l1.7 1.7l-1.7 1.7l-1.7 -1.7z" fill="#777" stroke="#111" stroke-width="0.8"/>
<path d="M1094.2 118.9l1.7 1.7l-1.7 1.7l-1.7 -1.7z" fill="#777" stroke="#111" stroke-width="0.8"/>
<path d="M1094.7 124.8l1.7 1.7l-1.7 1.7l-1.7 -1.7z" fill="#777" stroke="#111" stroke-width="0.8"/>
<path d="M1094.1 130.3l1.7 1.7l-1.7 1.7l-1.7 -1.7z" fill="#777" stroke="#111" stroke-width="0.8"/>
<path d="M1094.8 135.9l1.7 1.7l-1.7 1.7l-1.7 -1.7z" fill="#777" stroke="#111" stroke-width="0.8"/>
<path d="M1094.3 141.1l1.7 1.7l-1.7 1.7l-1.7 -1.7z" fill="#777" stroke="#111" stroke-width="0.8"/>
<path d="M1095.2 147.0l1.7 1.7l-1.7 1.7l-1.7 -1.7z" fill="#777" stroke="#111" stroke-width="0.8"/>
<path d="M1095.2 152.6l1.7 1.7l-1.7 1.7l-1.7 -1.7z" fill="#777" stroke="#111" stroke-width="0.8"/>
<path d="M1094.8 159.5l1.7 1.7l-1.7 1.7l-1.7 -1.7z" fill="#777" stroke="#111" stroke-width="0.8"/>
<path d="M1094.4 165.2l1.7 1.7l-1.7 1.7l-1.7 -1.7z" fill="#777" stroke="#111" stroke-width="0.8"/>
<path d="M1094.6 172.2l1.7 1.7l-1.7 1.7l-1.7 -1.7z" fill="#777" stroke="#111" stroke-width="0.8"/>
<path d="M1096.2 92.4l1.7 1.7l-1.7 1.7l-1.7 -1.7z" fill="#777" stroke="#111" stroke-width="0.8"/>
<path d="M1096.0 99.8l1.7 1.7l-1.7 1.7l-1.7 -1.7z" fill="#777" stroke="#111" stroke-width="0.8"/>
<path d="M1096.1 105.0l1.7 1.7l-1.7 1.7l-1.7 -1.7z" fill="#777" stroke="#111" stroke-width="0.8"/>
<path d="M1096.3 109.5l1.7 1.7l-1.7 1.7l-1.7 -1.7z" fill="#777" stroke="#111" stroke-width="0.8"/>
<path d="M1096.6 114.7l1.7 1.7l-1.7 1.7l-1.7 -1.7z" fill="#777" stroke="#111" stroke-width="0.8"/>
<path d="M1096.5 120.9l1.7 1.7l-1.7 1.7l-1.7 -1.7z" fill="#777" stroke="#111" stroke-width="0.8"/>
<path d="M1096.2 127.9l1.7 1.7l-1.7 1.7l-1.7 -1.7z" fill="#777" stroke="#111" stroke-width="0.8"/>
<path d="M1096.2 133.4l1.7 1.7l-1.7 1.7l-1.7 -1.7z" fill="#777" stroke="#111" stroke-width="0.8"/>
<path d="M1096.6 140.0l1.7 1.7l-1.7 1.7l-1.7 -1.7z" fill="#777" stroke="#111" stroke-width="0.8"/>
<path d="M1096.0 147.4l1.7 1.7l-1.7 1.7l-1.7 -1.7z" fill="#777" stroke="#111" stroke-width="0.8"/>
<path d="M1096.5 153.8l1.7 1.7l-1.7 1.7l-1.7 -1.7z" fill="#777" stroke="#111" stroke-width="0.8"/>
<path d="M1096.7 159.4l1.7 1.7l-1.7 1.7l-1.7 -1.7z" fill="#777" stroke="#111" stroke-width="0.8"/>
<path d="M1098.2 90.2l1.7 1.7l-1.7 1.7l-1.7 -1.7z" fill="#777" stroke="#111" stroke-width="0.8"/>
<path d="M1097.7 95.1l1.7 1.7l-1.7 1.7l-1.7 -1.7z" fill="#777" stroke="#111" stroke-width="0.8"/>
<path d="M1097.7 99.9l1.7 1.7l-1.7 1.7l-1.7 -1.7z" fill="#777" stroke="#111" stroke-width="0.8"/>
<path d="M1098.2 105.7l1.7 1.7l-1.7 1.7l-1.7 -1.7z" fill="#777" stroke="#111" stroke-width="0.8"/>
<path d="M1098.6 110.7l1.7 1.7l-1.7 1.7l-1.7 -1.7z" fill="#777" stroke="#111" stroke-width="0.8"/>
<path d="M1098.2 115.4l1.7 1.7l-1.7 1.7l-1.7 -1.7z" fill="#777" stroke="#111" stroke-width="0.8"/>
<path d="M1098.5 122.3l1.7 1.7l-1.7 1.7l-1.7 -1.7z" fill="#777" stroke="#111" stroke-width="0.8"/>
<path d="M1098.0 127.5l1.7 1.7l-1.7 1.7l-1.7 -1.7z" fill="#777" stroke="#111" stroke-width="0.8"/>
<path d="M1098.6 133.0l1.7 1.7l-1.7 1.7l-1.7 -1.7z" fill="#777" stroke="#111" stroke-width="0.8"/>
<path d="M1098.1 140.0l1.7 1.7l-1.7 1.7l-1.7 -1.7z" fill="#777" stroke="#111" stroke-width="0.8"/>
<path d="M1098.6 146.6l1.7 1.7l-1.7 1.7l-1.7 -1.7z" fill="#777" stroke="#111" stroke-width="0.8"/>
<path d="M1098.1 153.5l1.7 1.7l-1.7 1.7l-1.7 -1.7z" fill="#777" stroke="#111" stroke-width="0.8"/>
<path d="M1097.8 160.1l1.7 1.7l-1.7 1.7l-1.7 -1.7z" fill="#777" stroke="#111" stroke-width="0.8"/>
<path d="M1098.7 164.6l1.7 1.7l-1.7 1.7l-1.7 -1.7z" fill="#777" stroke="#111" stroke-width="0.8"/>
<path d="M1100.2 91.3l1.7 1.7l-1.7 1.7l-1.7 -1.7z" fill="#777" stroke="#111" stroke-width="0.8"/>
<path d="M1099.8 98.6l1.7 1.7l-1.7 1.7l-1.7 -1.7z" fill="#777" stroke="#111" stroke-width="0.8"/>
<path d="M1099.8 105.3l1.7 1.7l-1.7 1.7l-1.7 -1.7z" fill="#777" stroke="#111" stroke-width="0.8"/>
<path d="M1100.9 110.6l1.7 1.7l-1.7 1.7l-1.7 -1.7z" fill="#777" stroke="#111" stroke-width="0.8"/>
<path d="M1099.8 115.5l1.7 1.7l-1.7 1.7l-1.7 -1.7z" fill="#777" stroke="#111" stroke-width="0.8"/>
<path d="M1100.2 121.6l1.7 1.7l-1.7 1.7l-1.7 -1.7z" fill="#777" stroke="#111" stroke-width="0.8"/>
<path d="M1100.8 127.0l1.7 1.7l-1.7 1.7l-1.7 -1.7z" fill="#777" stroke="#111" stroke-width="0.8"/>
<path d="M1100.5 132.4l1.7 1.7l-1.7 1.7l-1.7 -1.7z" fill="#777" stroke="#111" stroke-width="0.8"/>
<path d="M1100.2 139.2l1.7 1.7l-1.7 1.7l-1.7 -1.7z" fill="#777" stroke="#111" stroke-width="0.8"/>
<path d="M1100.7 145.8l1.7 1.7l-1.7 1.7l-1.7 -1.7z" fill="#777" stroke="#111" stroke-width="0.8"/>
<path d="M1099.9 150.7l1.7 1.7l-1.7 1.7l-1.7 -1.7z" fill="#777" stroke="#111" stroke-width="0.8"/>
<path d="M1100.3 158.0l1.7 1.7l-1.7 1.7l-1.7 -1.7z" fill="#777" stroke="#111" stroke-width="0.8"/>
<path d="M1099.8 162.9l1.7 1.7l-1.7 1.7l-1.7 -1.7z" fill="#777" stroke="#111" stroke-width="0.8"/>
<path d="M1102.4 89.6l1.7 1.7l-1.7 1.7l-1.7 -1.7z" fill="#777" stroke="#111" stroke-width="0.8"/>
<path d="M1101.9 95.2l1.7 1.7l-1.7 1.7l-1.7 -1.7z" fill="#777" stroke="#111" stroke-width="0.8"/>
<path d="M1102.2 99.9l1.7 1.7l-1.7 1.7l-1.7 -1.7z" fill="#777" stroke="#111" stroke-width="0.8"/>
<path d="M1102.4 104.6l1.7 1.7l-1.7 1.7l-1.7 -1.7z" fill="#777" stroke="#111" stroke-width="0.8"/>
<path d="M1102.9 112.1l1.7 1.7l-1.7 1.7l-1.7 -1.7z" fill="#777" stroke="#111" stroke-width="0.8"/>
<path d="M1102.8 118.1l1.7 1.7l-1.7 1.7l-1.7 -1.7z" fill="#777" stroke="#111" stroke-width="0.8"/>
<path d="M1102.5 123.7l1.7 1.7l-1.7 1.7l-1.7 -1.7z" fill="#777" stroke="#111" stroke-width="0.8"/>
<path d="M1102.2 130.2l1.7 1.7l-1.7 1.7l-1.7 -1.7z" fill="#777" stroke="#111" stroke-width="0.8"/>
<path d="M1103.0 137.5l1.7 1.7l-1.7 1.7l-1.7 -1.7z" fill="#777" stroke="#111" stroke-width="0.8"/>
<path d="M1102.7 143.4l1.7 1.7l-1.7 1.7l-1.7 -1.7z" fill="#777" stroke="#111" stroke-width="0.8"/>
<path d="M1102.1 148.4l1.7 1.7l-1.7 1.7l-1.7 -1.7z" fill="#777" stroke="#111" stroke-width="0.8"/>
<path d="M1102.3 153.2l1.7 1.7l-1.7 1.7l-1.7 -1.7z" fill="#777" stroke="#111" stroke-width="0.8"/>
<path d="M1102.5 160.0l1.7 1.7l-1.7 1.7l-1.7 -1.7z" fill="#777" stroke="#111" stroke-width="0.8"/>
<path d="M1105.2 86.4l1.7 1.7l-1.7 1.7l-1.7 -1.7z" fill="#777" stroke="#111" stroke-width="0.8"/>
<path d="M1104.7 93.3l1.7 1.7l-1.7 1.7l-1.7 -1.7z" fill="#777" stroke="#111" stroke-width="0.8"/>
<path d="M1105.1 100.2l1.7 1.7l-1.7 1.7l-1.7 -1.7z" fill="#777" stroke="#111" stroke-width="0.8"/>
<path d="M1105.4 107.7l1.7 1.7l-1.7 1.7l-1.7 -1.7z" fill="#777" stroke="#111" stroke-width="0.8"/>
<path d="M1104.5 113.4l1.7 1.7l-1.7 1.7l-1.7 -1.7z" fill="#777" stroke="#111" stroke-width="0.8"/>
<path d="M1104.9 120.6l1.7 1.7l-1.7 1.7l-1.7 -1.7z" fill="#777" stroke="#111" stroke-width="0.8"/>
<path d="M1104.7 125.8l1.7 1.7l-1.7 1.7l-1.7 -1.7z" fill="#777" stroke="#111" stroke-width="0.8"/>
<path d="M1104.7 132.3l1.7 1.7l-1.7 1.7l-1.7 -1.7z" fill="#777" stroke="#111" stroke-width="0.8"/>
<path d="M1104.6 138.7l1.7 1.7l-1.7 1.7l-1.7 -1.7z" fill="#777" stroke="#111" stroke-width="0.8"/>
<path d="M1104.3 145.9l1.7 1.7l-1.7 1.7l-1.7 -1.7z" fill="#777" stroke="#111" stroke-width="0.8"/>
<path d="M1104.5 151.4l1.7 1.7l-1.7 1.7l-1.7 -1.7z" fill="#777" stroke="#111" stroke-width="0.8"/>
<path d="M1105.0 158.1l1.7 1.7l-1.7 1.7l-1.7 -1.7z" fill="#777" stroke="#111" stroke-width="0.8"/>
<path d="M1105.9 90.5l1.7 1.7l-1.7 1.7l-1.7 -1.7z" fill="#777" stroke="#111" stroke-width="0.8"/>
<path d="M1106.3 96.5l1.7 1.7l-1.7 1.7l-1.7 -1.7z" fill="#777" stroke="#111" stroke-width="0.8"/>
<path d="M1106.2 102.6l1.7 1.7l-1.7 1.7l-1.7 -1.7z" fill="#777" stroke="#111" stroke-width="0.8"/>
<path d="M1106.8 109.8l1.7 1.7l-1.7 1.7l-1.7 -1.7z" fill="#777" stroke="#111" stroke-width="0.8"/>
<path d="M1106.5 114.6l1.7 1.7l-1.7 1.7l-1.7 -1.7z" fill="#777" stroke="#111" stroke-width="0.8"/>
<path d="M1106.4 122.0l1.7 1.7l-1.7 1.7l-1.7 -1.7z" fill="#777" stroke="#111" stroke-width="0.8"/>
<path d="M1106.3 128.6l1.7 1.7l-1.7 1.7l-1.7 -1.7z" fill="#777" stroke="#111" stroke-width="0.8"/>
<path d="M1106.3 135.1l1.7 1.7l-1.7 1.7l-1.7 -1.7z" fill="#777" stroke="#111" stroke-width="0.8"/>
<path d="M1107.1 140.2l1.7 1.7l-1.7 1.7l-1.7 -1.7z" fill="#777" stroke="#111" stroke-width="0.8"/>
<path d="M1106.4 145.1l1.7 1.7l-1.7 1.7l-1.7 -1.7z" fill="#777" stroke="#111" stroke-width="0.8"/>
<path d="M1106.7 151.6l1.7 1.7l-1.7 1.7l-1.7 -1.7z" fill="#777" stroke="#111" stroke-width="0.8"/>
<path d="M1106.7 158.7l1.7 1.7l-1.7 1.7l-1.7 -1.7z" fill="#777" stroke="#111" stroke-width="0.8"/>
<path d="M1106.1 164.7l1.7 1.7l-1.7 1.7l-1.7 -1.7z" fill="#777" stroke="#111" stroke-width="0.8"/>
<path d="M1108.4 94.3l1.7 1.7l-1.7 1.7l-1.7 -1.7z" fill="#777" stroke="#111" stroke-width="0.8"/>
<path d="M1108.6 99.5l1.7 1.7l-1.7 1.7l-1.7 -1.7z" fill="#777" stroke="#111" stroke-width="0.8"/>
<path d="M1108.7 105.5l1.7 1.7l-1.7 1.7l-1.7 -1.7z" fill="#777" stroke="#111" stroke-width="0.8"/>
<path d="M1108.6 111.4l1.7 1.7l-1.7 1.7l-1.7 -1.7z" fill="#777" stroke="#111" stroke-width="0.8"/>
<path d="M1108.5 118.7l1.7 1.7l-1.7 1.7l-1.7 -1.7z" fill="#777" stroke="#111" stroke-width="0.8"/>
<path d="M1108.3 126.1l1.7 1.7l-1.7 1.7l-1.7 -1.7z" fill="#777" stroke="#111" stroke-width="0.8"/>
<path d="M1108.4 132.8l1.7 1.7l-1.7 1.7l-1.7 -1.7z" fill="#777" stroke="#111" stroke-width="0.8"/>
<path d="M1109.1 139.9l1.7 1.7l-1.7 1.7l-1.7 -1.7z" fill="#777" stroke="#111" stroke-width="0.8"/>
<path d="M1108.9 145.9l1.7 1.7l-1.7 1.7l-1.7 -1.7z" fill="#777" stroke="#111" stroke-width="0.8"/>
<path d="M1108.9 152.4l1.7 1.7l-1.7 1.7l-1.7 -1.7z" fill="#777" stroke="#111" stroke-width="0.8"/>
<path d="M1109.1 159.3l1.7 1.7l-1.7 1.7l-1.7 -1.7z" fill="#777" stroke="#111" stroke-width="0.8"/>
<path d="M1108.8 164.0l1.7 1.7l-1.7 1.7l-1.7 -1.7z" fill="#777" stroke="#111" stroke-width="0.8"/>
<path d="M1108.4 169.2l1.7 1.7l-1.7 1.7l-1.7 -1.7z" fill="#777" stroke="#111" stroke-width="0.8"/>
<path d="M1109.7 89.7l1.7 1.7l-1.7 1.7l-1.7 -1.7z" fill="#777" stroke="#111" stroke-width="0.8"/>
<path d="M1110.2 95.8l1.7 1.7l-1.7 1.7l-1.7 -1.7z" fill="#777" stroke="#111" stroke-width="0.8"/>
<path d="M1110.7 101.0l1.7 1.7l-1.7 1.7l-1.7 -1.7z" fill="#777" stroke="#111" stroke-width="0.8"/>
<path d="M1110.7 107.9l1.7 1.7l-1.7 1.7l-1.7 -1.7z" fill="#777" stroke="#111" stroke-width="0.8"/>
<path d="M1110.1 114.7l1.7 1.7l-1.7 1.7l-1.7 -1.7z" fill="#777" stroke="#111" stroke-width="0.8"/>
<path d="M1110.1 119.5l1.7 1.7l-1.7 1.7l-1.7 -1.7z" fill="#777" stroke="#111" stroke-width="0.8"/>
<path d="M1109.8 126.6l1.7 1.7l-1.7 1.7l-1.7 -1.7z" fill="#777" stroke="#111" stroke-width="0.8"/>
<path d="M1110.7 131.7l1.7 1.7l-1.7 1.7l-1.7 -1.7z" fill="#777" stroke="#111" stroke-width="0.8"/>
<path d="M1109.7 138.0l1.7 1.7l-1.7 1.7l-1.7 -1.7z" fill="#777" stroke="#111" stroke-width="0.8"/>
<path d="M1110.4 145.5l1.7 1.7l-1.7 1.7l-1.7 -1.7z" fill="#777" stroke="#111" stroke-width="0.8"/>
<path d="M1109.9 152.6l1.7 1.7l-1.7 1.7l-1.7 -1.7z" fill="#777" stroke="#111" stroke-width="0.8"/>
<path d="M1109.7 159.1l1.7 1.7l-1.7 1.7l-1.7 -1.7z" fill="#777" stroke="#111" stroke-width="0.8"/>
<path d="M1112.6 89.6l1.7 1.7l-1.7 1.7l-1.7 -1.7z" fill="#777" stroke="#111" stroke-width="0.8"/>
<path d="M1112.6 94.7l1.7 1.7l-1.7 1.7l-1.7 -1.7z" fill="#777" stroke="#111" stroke-width="0.8"/>
<path d="M1111.9 100.6l1.7 1.7l-1.7 1.7l-1.7 -1.7z" fill="#777" stroke="#111" stroke-width="0.8"/>
<path d="M1112.2 107.9l1.7 1.7l-1.7 1.7l-1.7 -1.7z" fill="#777" stroke="#111" stroke-width="0.8"/>
<path d="M1112.6 113.0l1.7 1.7l-1.7 1.7l-1.7 -1.7z" fill="#777" stroke="#111" stroke-width="0.8"/>
<path d="M1112.1 119.7l1.7 1.7l-1.7 1.7l-1.7 -1.7z" fill="#777" stroke="#111" stroke-width="0.8"/>
<path d="M1112.5 125.4l1.7 1.7l-1.7 1.7l-1.7 -1.7z" fill="#777" stroke="#111" stroke-width="0.8"/>
<path d="M1112.3 131.2l1.7 1.7l-1.7 1.7l-1.7 -1.7z" fill="#777" stroke="#111" stroke-width="0.8"/>
<path d="M1112.9 137.1l1.7 1.7l-1.7 1.7l-1.7 -1.7z" fill="#777" stroke="#111" stroke-width="0.8"/>
<path d="M1112.0 142.6l1.7 1.7l-1.7 1.7l-1.7 -1.7z" fill="#777" stroke="#111" stroke-width="0.8"/>
<path d="M1112.8 148.9l1.7 1.7l-1.7 1.7l-1.7 -1.7z" fill="#777" stroke="#111" stroke-width="0.8"/>
<path d="M1112.6 154.2l1.7 1.7l-1.7 1.7l-1.7 -1.7z" fill="#777" stroke="#111" stroke-width="0.8"/>
<path d="M1112.2 160.1l1.7 1.7l-1.7 1.7l-1.7 -1.7z" fill="#777" stroke="#111" stroke-width="0.8"/>
<path d="M1112.3 166.8l1.7 1.7l-1.7 1.7l-1.7 -1.7z" fill="#777" stroke="#111" stroke-width="0.8"/>
<path d="M1113.9 91.6l1.7 1.7l-1.7 1.7l-1.7 -1.7z" fill="#777" stroke="#111" stroke-width="0.8"/>
<path d="M1113.9 98.2l1.7 1.7l-1.7 1.7l-1.7 -1.7z" fill="#777" stroke="#111" stroke-width="0.8"/>
<path d="M1114.7 103.9l1.7 1.7l-1.7 1.7l-1.7 -1.7z" fill="#777" stroke="#111" stroke-width="0.8"/>
<path d="M1114.0 109.2l1.7 1.7l-1.7 1.7l-1.7 -1.7z" fill="#777" stroke="#111" stroke-width="0.8"/>
<path d="M1114.3 116.1l1.7 1.7l-1.7 1.7l-1.7 -1.7z" fill="#777" stroke="#111" stroke-width="0.8"/>
<path d="M1114.7 122.3l1.7 1.7l-1.7 1.7l-1.7 -1.7z" fill="#777" stroke="#111" stroke-width="0.8"/>
<path d="M1114.0 127.0l1.7 1.7l-1.7 1.7l-1.7 -1.7z" fill="#777" stroke="#111" stroke-width="0.8"/>
<path d="M1114.0 133.7l1.7 1.7l-1.7 1.7l-1.7 -1.7z" fill="#777" stroke="#111" stroke-width="0.8"/>
<path d="M1113.6 140.9l1.7 1.7l-1.7 1.7l-1.7 -1.7z" fill="#777" stroke="#111" stroke-width="0.8"/>
<path d="M1114.0 147.3l1.7 1.7l-1.7 1.7l-1.7 -1.7z" fill="#777" stroke="#111" stroke-width="0.8"/>
<path d="M1114.4 153.2l1.7 1.7l-1.7 1.7l-1.7 -1.7z" fill="#777" stroke="#111" stroke-width="0.8"/>
<path d="M1114.8 159.5l1.7 1.7l-1.7 1.7l-1.7 -1.7z" fill="#777" stroke="#111" stroke-width="0.8"/>
<path d="M1117.0 94.1l1.7 1.7l-1.7 1.7l-1.7 -1.7z" fill="#777" stroke="#111" stroke-width="0.8"/>
<path d="M1116.3 98.8l1.7 1.7l-1.7 1.7l-1.7 -1.7z" fill="#777" stroke="#111" stroke-width="0.8"/>
<path d="M1117.0 105.3l1.7 1.7l-1.7 1.7l-1.7 -1.7z" fill="#777" stroke="#111" stroke-width="0.8"/>
<path d="M1116.0 110.4l1.7 1.7l-1.7 1.7l-1.7 -1.7z" fill="#777" stroke="#111" stroke-width="0.8"/>
<path d="M1115.9 116.1l1.7 1.7l-1.7 1.7l-1.7 -1.7z" fill="#777" stroke="#111" stroke-width="0.8"/>
<path d="M1116.6 121.1l1.7 1.7l-1.7 1.7l-1.7 -1.7z" fill="#777" stroke="#111" stroke-width="0.8"/>
<path d="M1116.8 127.8l1.7 1.7l-1.7 1.7l-1.7 -1.7z" fill="#777" stroke="#111" stroke-width="0.8"/>
<path d="M1116.0 134.5l1.7 1.7l-1.7 1.7l-1.7 -1.7z" fill="#777" stroke="#111" stroke-width="0.8"/>
<path d="M1116.9 140.4l1.7 1.7l-1.7 1.7l-1.7 -1.7z" fill="#777" stroke="#111" stroke-width="0.8"/>
<path d="M1115.9 147.7l1.7 1.7l-1.7 1.7l-1.7 -1.7z" fill="#777" stroke="#111" stroke-width="0.8"/>
<path d="M1116.5 153.3l1.7 1.7l-1.7 1.7l-1.7 -1.7z" fill="#777" stroke="#111" stroke-width="0.8"/>
<path d="M1116.2 158.1l1.7 1.7l-1.7 1.7l-1.7 -1.7z" fill="#777" stroke="#111" stroke-width="0.8"/>
<path d="M1118.5 87.9l1.7 1.7l-1.7 1.7l-1.7 -1.7z" fill="#777" stroke="#111" stroke-width="0.8"/>
<path d="M1118.2 93.2l1.7 1.7l-1.7 1.7l-1.7 -1.7z" fill="#777" stroke="#111" stroke-width="0.8"/>
<path d="M1118.2 99.0l1.7 1.7l-1.7 1.7l-1.7 -1.7z" fill="#777" stroke="#111" stroke-width="0.8"/>
<path d="M1118.5 104.8l1.7 1.7l-1.7 1.7l-1.7 -1.7z" fill="#777" stroke="#111" stroke-width="0.8"/>
<path d="M1118.9 111.9l1.7 1.7l-1.7 1.7l-1.7 -1.7z" fill="#777" stroke="#111" stroke-width="0.8"/>
<path d="M1118.5 116.9l1.7 1.7l-1.7 1.7l-1.7 -1.7z" fill="#777" stroke="#111" stroke-width="0.8"/>
<path d="M1118.9 122.6l1.7 1.7l-1.7 1.7l-1.7 -1.7z" fill="#777" stroke="#111" stroke-width="0.8"/>
<path d="M1117.9 130.0l1.7 1.7l-1.7 1.7l-1.7 -1.7z" fill="#777" stroke="#111" stroke-width="0.8"/>
<path d="M1118.8 134.9l1.7 1.7l-1.7 1.7l-1.7 -1.7z" fill="#777" stroke="#111" stroke-width="0.8"/>
<path d="M1118.5 141.6l1.7 1.7l-1.7 1.7l-1.7 -1.7z" fill="#777" stroke="#111" stroke-width="0.8"/>
<path d="M1118.3 146.1l1.7 1.7l-1.7 1.7l-1.7 -1.7z" fill="#777" stroke="#111" stroke-width="0.8"/>
<path d="M1118.9 153.5l1.7 1.7l-1.7 1.7l-1.7 -1.7z" fill="#777" stroke="#111" stroke-width="0.8"/>
<path d="M1118.0 158.2l1.7 1.7l-1.7 1.7l-1.7 -1.7z" fill="#777" stroke="#111" stroke-width="0.8"/>
<path d="M1121.0 90.2l1.7 1.7l-1.7 1.7l-1.7 -1.7z" fill="#777" stroke="#111" stroke-width="0.8"/>
<path d="M1120.9 97.4l1.7 1.7l-1.7 1.7l-1.7 -1.7z" fill="#777" stroke="#111" stroke-width="0.8"/>
<path d="M1120.7 103.4l1.7 1.7l-1.7 1.7l-1.7 -1.7z" fill="#777" stroke="#111" stroke-width="0.8"/>
<path d="M1120.5 108.8l1.7 1.7l-1.7 1.7l-1.7 -1.7z" fill="#777" stroke="#111" stroke-width="0.8"/>
<path d="M1120.8 114.4l1.7 1.7l-1.7 1.7l-1.7 -1.7z" fill="#777" stroke="#111" stroke-width="0.8"/>
<path d="M1120.8 120.0l1.7 1.7l-1.7 1.7l-1.7 -1.7z" fill="#777" stroke="#111" stroke-width="0.8"/>
<path d="M1120.3 124.6l1.7 1.7l-1.7 1.7l-1.7 -1.7z" fill="#777" stroke="#111" stroke-width="0.8"/>
<path d="M1120.7 130.7l1.7 1.7l-1.7 1.7l-1.7 -1.7z" fill="#777" stroke="#111" stroke-width="0.8"/>
<path d="M1120.7 135.9l1.7 1.7l-1.7 1.7l-1.7 -1.7z" fill="#777" stroke="#111" stroke-width="0.8"/>
<path d="M1120.5 141.3l1.7 1.7l-1.7 1.7l-1.7 -1.7z" fill="#777" stroke="#111" stroke-width="0.8"/>
<path d="M1120.2 148.1l1.7 1.7l-1.7 1.7l-1.7 -1.7z" fill="#777" stroke="#111" stroke-width="0.8"/>
<path d="M1120.2 153.8l1.7 1.7l-1.7 1.7l-1.7 -1.7z" fill="#777" stroke="#111" stroke-width="0.8"/>
<path d="M1120.7 160.1l1.7 1.7l-1.7 1.7l-1.7 -1.7z" fill="#777" stroke="#111" stroke-width="0.8"/>
<path d="M1122.5 93.6l1.7 1.7l-1.7 1.7l-1.7 -1.7z" fill="#777" stroke="#111" stroke-width="0.8"/>
<path d="M1123.0 99.6l1.7 1.7l-1.7 1.7l-1.7 -1.7z" fill="#777" stroke="#111" stroke-width="0.8"/>
<path d="M1122.4 104.3l1.7 1.7l-1.7 1.7l-1.7 -1.7z" fill="#777" stroke="#111" stroke-width="0.8"/>
<path d="M1122.6 109.6l1.7 1.7l-1.7 1.7l-1.7 -1.7z" fill="#777" stroke="#111" stroke-width="0.8"/>
<path d="M1122.4 116.7l1.7 1.7l-1.7 1.7l-1.7 -1.7z" fill="#777" stroke="#111" stroke-width="0.8"/>
<path d="M1123.3 123.2l1.7 1.7l-1.7 1.7l-1.7 -1.7z" fill="#777" stroke="#111" stroke-width="0.8"/>
<path d="M1122.5 130.2l1.7 1.7l-1.7 1.7l-1.7 -1.7z" fill="#777" stroke="#111" stroke-width="0.8"/>
<path d="M1122.8 137.1l1.7 1.7l-1.7 1.7l-1.7 -1.7z" fill="#777" stroke="#111" stroke-width="0.8"/>
<path d="M1122.1 141.8l1.7 1.7l-1.7 1.7l-1.7 -1.7z" fill="#777" stroke="#111" stroke-width="0.8"/>
<path d="M1123.2 148.2l1.7 1.7l-1.7 1.7l-1.7 -1.7z" fill="#777" stroke="#111" stroke-width="0.8"/>
<path d="M1123.2 154.6l1.7 1.7l-1.7 1.7l-1.7 -1.7z" fill="#777" stroke="#111" stroke-width="0.8"/>
<path d="M1122.1 161.4l1.7 1.7l-1.7 1.7l-1.7 -1.7z" fill="#777" stroke="#111" stroke-width="0.8"/>
<path d="M1124.3 98.1l1.7 1.7l-1.7 1.7l-1.7 -1.7z" fill="#777" stroke="#111" stroke-width="0.8"/>
<path d="M1125.1 104.9l1.7 1.7l-1.7 1.7l-1.7 -1.7z" fill="#777" stroke="#111" stroke-width="0.8"/>
<path d="M1124.7 110.6l1.7 1.7l-1.7 1.7l-1.7 -1.7z" fill="#777" stroke="#111" stroke-width="0.8"/>
<path d="M1125.1 115.4l1.7 1.7l-1.7 1.7l-1.7 -1.7z" fill="#777" stroke="#111" stroke-width="0.8"/>
<path d="M1125.2 120.2l1.7 1.7l-1.7 1.7l-1.7 -1.7z" fill="#777" stroke="#111" stroke-width="0.8"/>
<path d="M1124.4 126.6l1.7 1.7l-1.7 1.7l-1.7 -1.7z" fill="#777" stroke="#111" stroke-width="0.8"/>
<path d="M1125.4 131.5l1.7 1.7l-1.7 1.7l-1.7 -1.7z" fill="#777" stroke="#111" stroke-width="0.8"/>
<path d="M1124.5 137.7l1.7 1.7l-1.7 1.7l-1.7 -1.7z" fill="#777" stroke="#111" stroke-width="0.8"/>
<path d="M1125.2 143.4l1.7 1.7l-1.7 1.7l-1.7 -1.7z" fill="#777" stroke="#111" stroke-width="0.8"/>
<path d="M1124.8 148.3l1.7 1.7l-1.7 1.7l-1.7 -1.7z" fill="#777" stroke="#111" stroke-width="0.8"/>
<path d="M1124.7 152.9l1.7 1.7l-1.7 1.7l-1.7 -1.7z" fill="#777" stroke="#111" stroke-width="0.8"/>
<path d="M1124.8 159.4l1.7 1.7l-1.7 1.7l-1.7 -1.7z" fill="#777" stroke="#111" stroke-width="0.8"/>
<path d="M1126.6 87.6l1.7 1.7l-1.7 1.7l-1.7 -1.7z" fill="#777" stroke="#111" stroke-width="0.8"/>
<path d="M1126.9 93.8l1.7 1.7l-1.7 1.7l-1.7 -1.7z" fill="#777" stroke="#111" stroke-width="0.8"/>
<path d="M1127.2 98.8l1.7 1.7l-1.7 1.7l-1.7 -1.7z" fill="#777" stroke="#111" stroke-width="0.8"/>
<path d="M1127.1 104.9l1.7 1.7l-1.7 1.7l-1.7 -1.7z" fill="#777" stroke="#111" stroke-width="0.8"/>
<path d="M1127.1 111.9l1.7 1.7l-1.7 1.7l-1.7 -1.7z" fill="#777" stroke="#111" stroke-width="0.8"/>
<path d="M1126.8 117.8l1.7 1.7l-1.7 1.7l-1.7 -1.7z" fill="#777" stroke="#111" stroke-width="0.8"/>
<path d="M1126.8 124.4l1.7 1.7l-1.7 1.7l-1.7 -1.7z" fill="#777" stroke="#111" stroke-width="0.8"/>
<path d="M1126.8 131.1l1.7 1.7l-1.7 1.7l-1.7 -1.7z" fill="#777" stroke="#111" stroke-width="0.8"/>
<path d="M1126.9 135.8l1.7 1.7l-1.7 1.7l-1.7 -1.7z" fill="#777" stroke="#111" stroke-width="0.8"/>
<path d="M1127.2 142.5l1.7 1.7l-1.7 1.7l-1.7 -1.7z" fill="#777" stroke="#111" stroke-width="0.8"/>
<path d="M1127.5 148.6l1.7 1.7l-1.7 1.7l-1.7 -1.7z" fill="#777" stroke="#111" stroke-width="0.8"/>
<path d="M1126.7 154.5l1.7 1.7l-1.7 1.7l-1.7 -1.7z" fill="#777" stroke="#111" stroke-width="0.8"/>
<path d="M1129.1 96.5l1.7 1.7l-1.7 1.7l-1.7 -1.7z" fill="#777" stroke="#111" stroke-width="0.8"/>
<path d="M1128.7 102.7l1.7 1.7l-1.7 1.7l-1.7 -1.7z" fill="#777" stroke="#111" stroke-width="0.8"/>
<path d="M1129.2 107.6l1.7 1.7l-1.7 1.7l-1.7 -1.7z" fill="#777" stroke="#111" stroke-width="0.8"/>
<path d="M1129.2 114.5l1.7 1.7l-1.7 1.7l-1.7 -1.7z" fill="#777" stroke="#111" stroke-width="0.8"/>
<path d="M1128.9 119.7l1.7 1.7l-1.7 1.7l-1.7 -1.7z" fill="#777" stroke="#111" stroke-width="0.8"/>
<path d="M1129.2 126.0l1.7 1.7l-1.7 1.7l-1.7 -1.7z" fill="#777" stroke="#111" stroke-width="0.8"/>
<path d="M1129.4 132.3l1.7 1.7l-1.7 1.7l-1.7 -1.7z" fill="#777" stroke="#111" stroke-width="0.8"/>
<path d="M1129.4 138.8l1.7 1.7l-1.7 1.7l-1.7 -1.7z" fill="#777" stroke="#111" stroke-width="0.8"/>
<path d="M1129.3 145.5l1.7 1.7l-1.7 1.7l-1.7 -1.7z" fill="#777" stroke="#111" stroke-width="0.8"/>
<path d="M1128.6 152.2l1.7 1.7l-1.7 1.7l-1.7 -1.7z" fill="#777" stroke="#111" stroke-width="0.8"/>
<path d="M1128.6 156.7l1.7 1.7l-1.7 1.7l-1.7 -1.7z" fill="#777" stroke="#111" stroke-width="0.8"/>
<path d="M1128.4 162.1l1.7 1.7l-1.7 1.7l-1.7 -1.7z" fill="#777" stroke="#111" stroke-width="0.8"/>
<path d="M1164.4 126.4l1.7 1.7l-1.7 1.7l-1.7 -1.7z" fill="#777" stroke="#111" stroke-width="0.8"/>
<path d="M1174.0 103.7l1.7 1.7l-1.7 1.7l-1.7 -1.7z" fill="#777" stroke="#111" stroke-width="0.8"/>
<path d="M1173.8 148.9l1.7 1.7l-1.7 1.7l-1.7 -1.7z" fill="#777" stroke="#111" stroke-width="0.8"/>
<path d="M1169.8 128.6l1.7 1.7l-1.7 1.7l-1.7 -1.7z" fill="#777" stroke="#111" stroke-width="0.8"/>
<path d="M1171.7 128.0l1.7 1.7l-1.7 1.7l-1.7 -1.7z" fill="#777" stroke="#111" stroke-width="0.8"/>
<path d="M1170.6 153.1l1.7 1.7l-1.7 1.7l-1.7 -1.7z" fill="#777" stroke="#111" stroke-width="0.8"/>
<path d="M1172.4 110.2l1.7 1.7l-1.7 1.7l-1.7 -1.7z" fill="#777" stroke="#111" stroke-width="0.8"/>
<path d="M1160.9 154.2l1.7 1.7l-1.7 1.7l-1.7 -1.7z" fill="#777" stroke="#111" stroke-width="0.8"/>
<path d="M1165.8 144.5l1.7 1.7l-1.7 1.7l-1.7 -1.7z" fill="#777" stroke="#111" stroke-width="0.8"/>
<path d="M1163.7 122.7l1.7 1.7l-1.7 1.7l-1.7 -1.7z" fill="#777" stroke="#111" stroke-width="0.8"/>
<path d="M1165.9 140.7l1.7 1.7l-1.7 1.7l-1.7 -1.7z" fill="#777" stroke="#111" stroke-width="0.8"/>
<path d="M1175.1 126.2l1.7 1.7l-1.7 1.7l-1.7 -1.7z" fill="#777" stroke="#111" stroke-width="0.8"/>
<path d="M1169.1 116.0l1.7 1.7l-1.7 1.7l-1.7 -1.7z" fill="#777" stroke="#111" stroke-width="0.8"/>
<path d="M1163.7 155.0l1.7 1.7l-1.7 1.7l-1.7 -1.7z" fill="#777" stroke="#111" stroke-width="0.8"/>
<path d="M1161.8 154.4l1.7 1.7l-1.7 1.7l-1.7 -1.7z" fill="#777" stroke="#111" stroke-width="0.8"/>
<path d="M1170.5 98.0l1.7 1.7l-1.7 1.7l-1.7 -1.7z" fill="#777" stroke="#111" stroke-width="0.8"/>
<path d="M1174.4 99.9l1.7 1.7l-1.7 1.7l-1.7 -1.7z" fill="#777" stroke="#111" stroke-width="0.8"/>
<path d="M1169.0 101.1l1.7 1.7l-1.7 1.7l-1.7 -1.7z" fill="#777" stroke="#111" stroke-width="0.8"/>
<path d="M1175.8 113.4l1.7 1.7l-1.7 1.7l-1.7 -1.7z" fill="#777" stroke="#111" stroke-width="0.8"/>
<path d="M1174.0 97.3l1.7 1.7l-1.7 1.7l-1.7 -1.7z" fill="#777" stroke="#111" stroke-width="0.8"/>
<path d="M1170.7 97.7l1.7 1.7l-1.7 1.7l-1.7 -1.7z" fill="#777" stroke="#111" stroke-width="0.8"/>
<path d="M1160.5 130.4l1.7 1.7l-1.7 1.7l-1.7 -1.7z" fill="#777" stroke="#111" stroke-width="0.8"/>
<path d="M1175.7 137.8l1.7 1.7l-1.7 1.7l-1.7 -1.7z" fill="#777" stroke="#111" stroke-width="0.8"/>
<path d="M1173.7 144.3l1.7 1.7l-1.7 1.7l-1.7 -1.7z" fill="#777" stroke="#111" stroke-width="0.8"/>
<path d="M1168.3 98.3l1.7 1.7l-1.7 1.7l-1.7 -1.7z" fill="#777" stroke="#111" stroke-width="0.8"/>
<path d="M1168.4 105.3l1.7 1.7l-1.7 1.7l-1.7 -1.7z" fill="#777" stroke="#111" stroke-width="0.8"/>
<path d="M1168.4 116.3l1.7 1.7l-1.7 1.7l-1.7 -1.7z" fill="#777" stroke="#111" stroke-width="0.8"/>
<path d="M1168.0 106.1l1.7 1.7l-1.7 1.7l-1.7 -1.7z" fill="#777" stroke="#111" stroke-width="0.8"/>
<path d="M1171.3 120.4l1.7 1.7l-1.7 1.7l-1.7 -1.7z" fill="#777" stroke="#111" stroke-width="0.8"/>
<path d="M1167.8 98.4l1.7 1.7l-1.7 1.7l-1.7 -1.7z" fill="#777" stroke="#111" stroke-width="0.8"/>
<path d="M1167.8 129.5l1.7 1.7l-1.7 1.7l-1.7 -1.7z" fill="#777" stroke="#111" stroke-width="0.8"/>
<path d="M1175.6 129.8l1.7 1.7l-1.7 1.7l-1.7 -1.7z" fill="#777" stroke="#111" stroke-width="0.8"/>
<path d="M1162.2 112.8l1.7 1.7l-1.7 1.7l-1.7 -1.7z" fill="#777" stroke="#111" stroke-width="0.8"/>
<path d="M1165.4 138.9l1.7 1.7l-1.7 1.7l-1.7 -1.7z" fill="#777" stroke="#111" stroke-width="0.8"/>
<path d="M1175.0 156.7l1.7 1.7l-1.7 1.7l-1.7 -1.7z" fill="#777" stroke="#111" stroke-width="0.8"/>
<path d="M1175.2 153.4l1.7 1.7l-1.7 1.7l-1.7 -1.7z" fill="#777" stroke="#111" stroke-width="0.8"/>
<path d="M1173.7 154.1l1.7 1.7l-1.7 1.7l-1.7 -1.7z" fill="#777" stroke="#111" stroke-width="0.8"/>
<path d="M1160.3 125.1l1.7 1.7l-1.7 1.7l-1.7 -1.7z" fill="#777" stroke="#111" stroke-width="0.8"/>
<path d="M1169.5 137.9l1.7 1.7l-1.7 1.7l-1.7 -1.7z" fill="#777" stroke="#111" stroke-width="0.8"/>
<path d="M1169.8 133.2l1.7 1.7l-1.7 1.7l-1.7 -1.7z" fill="#777" stroke="#111" stroke-width="0.8"/>
<path d="M956.8 100.3l1.7 1.7l-1.7 1.7l-1.7 -1.7z" fill="#777" stroke="#111" stroke-width="0.8"/>
<path d="M956.8 103.5l1.7 1.7l-1.7 1.7l-1.7 -1.7z" fill="#777" stroke="#111" stroke-width="0.8"/>
<path d="M956.8 106.7l1.7 1.7l-1.7 1.7l-1.7 -1.7z" fill="#777" stroke="#111" stroke-width="0.8"/>
<path d="M956.8 109.9l1.7 1.7l-1.7 1.7l-1.7 -1.7z" fill="#777" stroke="#111" stroke-width="0.8"/>
<path d="M956.8 113.1l1.7 1.7l-1.7 1.7l-1.7 -1.7z" fill="#777" stroke="#111" stroke-width="0.8"/>
<path d="M1022.5 102.3l1.7 1.7l-1.7 1.7l-1.7 -1.7z" fill="#777" stroke="#111" stroke-width="0.8"/>
<path d="M1022.5 105.5l1.7 1.7l-1.7 1.7l-1.7 -1.7z" fill="#777" stroke="#111" stroke-width="0.8"/>
<path d="M1022.5 108.7l1.7 1.7l-1.7 1.7l-1.7 -1.7z" fill="#777" stroke="#111" stroke-width="0.8"/>
<path d="M1022.5 111.9l1.7 1.7l-1.7 1.7l-1.7 -1.7z" fill="#777" stroke="#111" stroke-width="0.8"/>
<path d="M1029.5 105.3l1.7 1.7l-1.7 1.7l-1.7 -1.7z" fill="#777" stroke="#111" stroke-width="0.8"/>
<path d="M1029.5 108.5l1.7 1.7l-1.7 1.7l-1.7 -1.7z" fill="#777" stroke="#111" stroke-width="0.8"/>
<path d="M1029.5 111.7l1.7 1.7l-1.7 1.7l-1.7 -1.7z" fill="#777" stroke="#111" stroke-width="0.8"/>
<path d="M1029.5 114.9l1.7 1.7l-1.7 1.7l-1.7 -1.7z" fill="#777" stroke="#111" stroke-width="0.8"/>
<path d="M1029.5 118.1l1.7 1.7l-1.7 1.7l-1.7 -1.7z" fill="#777" stroke="#111" stroke-width="0.8"/>
<path d="M1029.5 121.3l1.7 1.7l-1.7 1.7l-1.7 -1.7z" fill="#777" stroke="#111" stroke-width="0.8"/>
<path d="M1050.0 108.3l1.7 1.7l-1.7 1.7l-1.7 -1.7z" fill="#777" stroke="#111" stroke-width="0.8"/>
<path d="M1050.0 111.5l1.7 1.7l-1.7 1.7l-1.7 -1.7z" fill="#777" stroke="#111" stroke-width="0.8"/>
<path d="M1050.0 114.7l1.7 1.7l-1.7 1.7l-1.7 -1.7z" fill="#777" stroke="#111" stroke-width="0.8"/>
<path d="M1050.0 117.9l1.7 1.7l-1.7 1.7l-1.7 -1.7z" fill="#777" stroke="#111" stroke-width="0.8"/>
<path d="M1050.0 121.1l1.7 1.7l-1.7 1.7l-1.7 -1.7z" fill="#777" stroke="#111" stroke-width="0.8"/>
<path d="M1050.0 124.3l1.7 1.7l-1.7 1.7l-1.7 -1.7z" fill="#777" stroke="#111" stroke-width="0.8"/>
<path d="M1050.0 127.5l1.7 1.7l-1.7 1.7l-1.7 -1.7z" fill="#777" stroke="#111" stroke-width="0.8"/>
<polyline points="955.0,192.0 957.1,150.0 958.4,166.6 959.7,176.6 960.9,182.7 962.2,186.4 963.5,188.6 964.8,190.0 964.8,190.0 965.1,165.0 966.3,177.4 967.5,185.0 968.7,189.5 970.0,192.3 971.2,194.0 972.4,195.0 972.4,195.0 972.7,175.0 973.6,185.4 974.4,191.6 975.3,195.4 976.2,197.7 977.0,199.2 977.9,200.0 977.9,200.0 978.2,160.0 979.2,185.7 980.3,201.2 981.3,210.7 982.4,216.4 983.4,219.9 984.5,222.0 984.5,222.0 984.8,150.0 986.4,184.8 988.0,205.9 989.6,218.7 991.2,226.4 992.8,231.1 994.4,234.0 994.4,234.0 994.7,175.0 996.5,191.6 998.4,201.6 1000.2,207.7 1002.0,211.4 1003.9,213.6 1005.7,215.0 1005.7,215.0 1006.0,112.4 1007.0,159.0 1008.1,187.3 1009.1,204.5 1010.1,214.9 1011.2,221.2 1012.2,225.0 1012.2,225.0 1012.5,180.0 1014.1,201.5 1015.8,214.6 1017.4,222.5 1019.1,227.3 1020.8,230.2 1022.4,232.0 1022.4,232.0 1022.7,160.0 1023.8,189.0 1024.9,206.6 1026.0,217.2 1027.1,223.7 1028.2,227.6 1029.3,230.0 1029.6,189.6 1030.0,102.1 1031.2,153.3 1032.3,177.8 1033.5,189.6 1033.5,190.5 1033.9,106.1 1035.1,155.4 1036.2,179.1 1037.4,190.5 1037.4,182.9 1037.8,113.8 1039.0,154.2 1040.1,173.6 1041.3,182.9 1041.3,193.7 1041.7,95.4 1042.9,152.9 1044.0,180.5 1045.2,193.7 1045.2,185.3 1045.6,102.8 1046.8,151.0 1047.9,174.2 1049.1,185.3 1049.1,188.6 1049.5,124.9 1050.7,162.1 1051.8,180.0 1053.0,188.6 1053.0,188.7 1053.4,120.1 1054.6,160.2 1055.7,179.4 1056.9,188.7 1056.9,184.1 1057.3,114.2 1058.5,155.0 1059.6,174.7 1060.8,184.1 1060.8,194.2 1061.2,114.0 1062.4,160.9 1063.5,183.4 1064.7,194.2 1064.7,192.4 1065.1,110.7 1066.3,158.4 1067.4,181.4 1068.6,192.4 1068.6,182.9 1069.0,115.1 1070.2,154.7 1071.3,173.8 1072.5,182.9 1072.5,190.3 1072.9,117.7 1074.1,160.1 1075.2,180.5 1076.4,190.3 1076.4,182.4 1076.8,104.0 1078.0,149.9 1079.1,171.9 1080.3,182.4 1080.3,188.6 1080.7,121.0 1081.9,160.5 1083.0,179.5 1084.2,188.6 1084.2,194.3 1084.6,116.6 1085.8,162.0 1086.9,183.8 1088.1,194.3 1088.1,194.9 1088.5,116.4 1089.7,162.3 1090.8,184.3 1092.0,194.9 1092.0,193.2 1092.4,106.8 1093.6,157.3 1094.7,181.6 1095.9,193.2 1095.9,195.1 1096.3,108.3 1097.5,159.0 1098.6,183.4 1099.8,195.1 1099.8,183.4 1100.2,121.4 1101.4,157.6 1102.5,175.0 1103.7,183.4 1103.7,185.0 1104.1,99.1 1105.3,149.3 1106.4,173.4 1107.6,185.0 1107.6,188.1 1108.0,124.0 1109.2,161.5 1110.3,179.5 1111.5,188.1 1111.5,186.2 1111.9,113.8 1113.1,156.1 1114.2,176.5 1115.4,186.2 1115.4,187.4 1115.8,110.2 1117.0,155.3 1118.1,177.0 1119.3,187.4 1119.3,190.2 1119.7,105.5 1120.9,155.0 1122.0,178.8 1123.2,190.2 1123.2,194.7 1123.6,112.5 1124.8,160.5 1125.9,183.6 1127.1,194.7 1127.1,195.0 1127.5,115.5 1128.7,162.0 1129.8,184.3 1131.0,195.0 1131.0,185.0 1135.0,205.0 1137.0,182.0 1137.3,174.1 1137.7,128.2 1138.9,155.0 1140.0,167.9 1141.2,174.1 1141.2,173.0 1141.6,131.5 1142.8,155.8 1143.9,167.4 1145.1,173.0 1145.1,177.1 1145.5,130.4 1146.7,157.7 1147.8,170.8 1149.0,177.1 1149.0,179.1 1149.4,125.6 1150.6,156.9 1151.7,171.9 1152.9,179.1 1152.9,178.1 1153.3,125.4 1154.5,156.2 1155.6,171.0 1156.8,178.1 1156.8,173.3 1157.2,125.7 1158.4,153.5 1159.5,166.9 1160.7,173.3 1160.0,182.0 1162.3,100.0 1165.0,170.0 1170.0,160.0 1174.0,150.0 1180.0,200.0 1185.0,215.0 1189.0,254.0 1190.5,240.0 1192.0,145.0 1195.0,150.0 1200.0,140.0 1205.0,160.0 1213.3,212.8 1216.0,190.0 1221.6,150.0 1225.0,180.0 1229.8,206.2" fill="none" stroke="#a3a3a3" stroke-width="1.6" stroke-linejoin="round"/>
<polyline points="954.7,186.4 956.8,72.9 958.1,117.2 959.4,141.8 960.7,155.6 962.0,163.3 963.3,167.6 964.6,170.0 964.6,170.0 964.9,130.5 966.1,156.7 967.3,171.3 968.5,179.5 969.8,184.0 971.0,186.6 972.2,188.0 972.2,188.0 972.5,160.0 973.4,176.0 974.2,184.9 975.1,189.8 976.0,192.6 976.8,194.1 977.7,195.0 977.7,195.0 978.0,128.8 979.0,169.9 980.1,192.8 981.1,205.6 982.2,212.8 983.2,216.8 984.3,219.0 984.3,219.0 984.6,109.0 986.2,165.1 987.8,196.3 989.4,213.8 991.0,223.5 992.6,229.0 994.2,232.0 994.2,232.0 994.5,161.7 995.8,184.6 997.1,197.4 998.4,204.6 999.6,208.5 1000.9,210.8 1002.2,212.0 1002.2,212.0 1002.5,193.0 1003.9,199.8 1005.2,203.7 1006.6,205.8 1008.0,207.0 1009.3,207.6 1010.7,208.0 1010.7,208.0 1011.0,35.0 1012.9,112.5 1014.7,155.7 1016.6,179.8 1018.5,193.3 1020.3,200.8 1022.2,205.0 1022.2,205.0 1022.5,123.9 1023.6,158.6 1024.7,177.9 1025.8,188.7 1026.8,194.8 1027.9,198.1 1029.0,200.0 1029.0,178.7 1029.4,83.8 1030.6,139.3 1031.7,165.9 1032.9,178.7 1032.9,179.7 1033.3,74.4 1034.5,135.9 1035.6,165.5 1036.8,179.7 1036.8,171.0 1037.2,98.2 1038.4,140.8 1039.5,161.2 1040.7,171.0 1040.7,183.4 1041.1,75.5 1042.3,138.6 1043.4,168.8 1044.6,183.4 1044.6,173.7 1045.0,84.6 1046.2,136.7 1047.3,161.7 1048.5,173.7 1048.5,177.5 1048.9,76.4 1050.1,135.5 1051.2,163.9 1052.4,177.5 1052.4,177.6 1052.8,105.9 1054.0,147.8 1055.1,168.0 1056.3,177.6 1056.3,172.4 1056.7,98.6 1057.9,141.8 1059.0,162.5 1060.2,172.4 1060.2,183.9 1060.6,98.5 1061.8,148.4 1062.9,172.4 1064.1,183.9 1064.1,181.9 1064.5,94.4 1065.7,145.5 1066.8,170.1 1068.0,181.9 1068.0,171.0 1068.4,99.8 1069.6,141.4 1070.7,161.4 1071.9,171.0 1071.9,179.5 1072.3,103.1 1073.5,147.7 1074.6,169.2 1075.8,179.5 1075.8,170.5 1076.2,86.1 1077.4,135.4 1078.5,159.1 1079.7,170.5 1079.7,177.6 1080.1,107.0 1081.3,148.3 1082.4,168.1 1083.6,177.6 1083.6,184.1 1084.0,41.6 1085.2,124.9 1086.3,164.9 1087.5,184.1 1087.5,184.7 1087.9,101.4 1089.1,150.1 1090.2,173.5 1091.4,184.7 1091.4,182.8 1091.8,89.6 1093.0,144.1 1094.1,170.2 1095.3,182.8 1095.3,185.0 1095.7,91.5 1096.9,146.1 1098.0,172.4 1099.2,185.0 1099.2,171.6 1099.6,107.5 1100.8,144.9 1101.9,162.9 1103.1,171.6 1103.1,173.5 1103.5,80.0 1104.7,134.6 1105.8,160.9 1107.0,173.5 1107.0,177.0 1107.4,110.7 1108.6,149.4 1109.7,168.0 1110.9,177.0 1110.9,174.8 1111.3,98.2 1112.5,143.0 1113.6,164.5 1114.8,174.8 1114.8,176.2 1115.2,93.8 1116.4,141.9 1117.5,165.1 1118.7,176.2 1118.7,179.4 1119.1,88.0 1120.3,141.4 1121.4,167.0 1122.6,179.4 1122.6,184.5 1123.0,96.6 1124.2,148.0 1125.3,172.6 1126.5,184.5 1126.5,184.9 1126.9,100.2 1128.1,149.7 1129.2,173.5 1130.4,184.9 1130.4,185.9 1130.8,54.8 1132.0,131.4 1133.1,168.2 1134.3,185.9 1131.0,175.0 1135.0,199.6 1137.0,175.0 1137.0,167.3 1137.4,113.2 1138.6,144.8 1139.7,160.0 1140.9,167.3 1140.9,166.1 1141.3,116.5 1142.5,145.5 1143.6,159.4 1144.8,166.1 1144.8,170.5 1145.2,115.4 1146.4,147.6 1147.5,163.1 1148.7,170.5 1148.7,172.6 1149.1,110.6 1150.3,146.8 1151.4,164.2 1152.6,172.6 1152.6,171.5 1153.0,110.4 1154.2,146.1 1155.3,163.3 1156.5,171.5 1156.5,166.4 1156.9,110.7 1158.1,143.2 1159.2,158.9 1160.4,166.4 1160.0,175.0 1162.3,84.4 1165.0,160.0 1168.0,175.0 1169.0,95.0 1172.0,150.0 1173.0,95.0 1176.0,140.0 1182.0,180.0 1188.6,229.2 1190.5,200.0 1192.0,115.7 1195.0,135.0 1198.0,120.0 1203.5,110.7 1207.0,160.0 1211.7,199.6 1214.0,160.0 1217.0,180.0 1221.6,67.9 1225.0,170.0 1229.8,196.3" fill="none" stroke="#6aab3c" stroke-width="1.7" stroke-linejoin="round"/>
<line x1="954.7" y1="97.56" x2="1229.5" y2="97.56" stroke="#00b050" stroke-width="1"/>
<line x1="954.7" y1="248.52" x2="1229.5" y2="248.52" stroke="#ff2020" stroke-width="1"/>
</g>
<line x1="931.5" y1="35.0" x2="931.5" y2="257.5" stroke="#666" stroke-width="1"/>
<line x1="1239.2" y1="35.0" x2="1239.2" y2="257.5" stroke="#444" stroke-width="1"/>
<line x1="931.0" y1="35.5" x2="1239.7" y2="35.5" stroke="#333" stroke-width="1"/>
<line x1="931.0" y1="257.0" x2="1239.7" y2="257.0" stroke="#333" stroke-width="1"/>
<path d="M931.5 257.40h3.2M1239.5 257.40h-3.2" stroke="#333" stroke-width="1"/>
<text transform="translate(923.8,265.10) scale(0.965,1.09)" text-anchor="end" class="tk">0.15</text>
<path d="M931.5 213.00h3.2M1239.5 213.00h-3.2" stroke="#333" stroke-width="1"/>
<text transform="translate(923.8,220.70) scale(0.965,1.09)" text-anchor="end" class="tk">0.2</text>
<path d="M931.5 168.60h3.2M1239.5 168.60h-3.2" stroke="#333" stroke-width="1"/>
<text transform="translate(923.8,176.30) scale(0.965,1.09)" text-anchor="end" class="tk">0.25</text>
<path d="M931.5 124.20h3.2M1239.5 124.20h-3.2" stroke="#333" stroke-width="1"/>
<text transform="translate(923.8,131.90) scale(0.965,1.09)" text-anchor="end" class="tk">0.3</text>
<path d="M931.5 79.80h3.2M1239.5 79.80h-3.2" stroke="#333" stroke-width="1"/>
<text transform="translate(923.8,87.50) scale(0.965,1.09)" text-anchor="end" class="tk">0.35</text>
<path d="M931.5 35.40h3.2M1239.5 35.40h-3.2" stroke="#333" stroke-width="1"/>
<text transform="translate(923.8,43.10) scale(0.965,1.09)" text-anchor="end" class="tk">0.4</text>
<path d="M931.50 257.4v-3.2M931.50 35.4v3.2" stroke="#333" stroke-width="1"/>
<text transform="translate(931.50,281.80) scale(0.985,1.09)" text-anchor="middle" class="tk">May</text>
<path d="M993.91 257.4v-3.2M993.91 35.4v3.2" stroke="#333" stroke-width="1"/>
<text transform="translate(993.91,281.80) scale(0.985,1.09)" text-anchor="middle" class="tk">Jun</text>
<path d="M1054.30 257.4v-3.2M1054.30 35.4v3.2" stroke="#333" stroke-width="1"/>
<text transform="translate(1054.30,281.80) scale(0.985,1.09)" text-anchor="middle" class="tk">Jul</text>
<path d="M1116.70 257.4v-3.2M1116.70 35.4v3.2" stroke="#333" stroke-width="1"/>
<text transform="translate(1116.70,281.80) scale(0.985,1.09)" text-anchor="middle" class="tk">Aug</text>
<path d="M1179.11 257.4v-3.2M1179.11 35.4v3.2" stroke="#333" stroke-width="1"/>
<text transform="translate(1179.11,281.80) scale(0.985,1.09)" text-anchor="middle" class="tk">Sep</text>
<path d="M1239.50 257.4v-3.2M1239.50 35.4v3.2" stroke="#333" stroke-width="1"/>
<text transform="translate(1239.50,281.80) scale(0.985,1.09)" text-anchor="middle" class="tk">Oct</text>
<text transform="translate(1205.00,305.90) scale(0.985,1.09)" text-anchor="middle" class="tk">2016</text>
<text x="1085.50" y="30.20" text-anchor="middle" class="ti">Tomatoes 2016 (sandy soil)</text>
<text transform="translate(881.3,147.9) rotate(-90)" text-anchor="middle" class="yl">SM [m<tspan class="sup" dy="-10.7">3</tspan><tspan dy="10.7"> m</tspan><tspan class="sup" dy="-10.7">-3</tspan><tspan dy="10.7">]</tspan></text>
<line x1="71.5" y1="509.33" x2="379.5" y2="509.33" stroke="#e2e2e2" stroke-width="1"/>
<line x1="71.5" y1="453.95" x2="379.5" y2="453.95" stroke="#e2e2e2" stroke-width="1"/>
<line x1="71.5" y1="398.57" x2="379.5" y2="398.57" stroke="#e2e2e2" stroke-width="1"/>
<line x1="133.91" y1="343.2" x2="133.91" y2="564.7" stroke="#e2e2e2" stroke-width="1"/>
<line x1="194.30" y1="343.2" x2="194.30" y2="564.7" stroke="#e2e2e2" stroke-width="1"/>
<line x1="256.70" y1="343.2" x2="256.70" y2="564.7" stroke="#e2e2e2" stroke-width="1"/>
<line x1="319.11" y1="343.2" x2="319.11" y2="564.7" stroke="#e2e2e2" stroke-width="1"/>
<clipPath id="c4"><rect x="71.5" y="343.2" width="308.0" height="222.50000000000006"/></clipPath>
<g clip-path="url(#c4)">
<polyline points="91.5,547.4 97.9,551.6 104.4,556.5 110.8,559.7 117.3,563.5" fill="none" stroke="#000" stroke-width="8" stroke-linejoin="round" stroke-linecap="round"/>
<polyline points="117.9,501.6 118.2,529.0" fill="none" stroke="#000" stroke-width="6" stroke-linejoin="round" stroke-linecap="round"/>
<polyline points="122.5,364.0 124.0,375.0 125.0,395.0 126.5,420.0 128.0,432.0 131.0,450.0" fill="none" stroke="#000" stroke-width="6" stroke-linejoin="round" stroke-linecap="round"/>
<polyline points="129.0,440.0 130.5,452.7 134.1,461.5 138.4,465.9 141.1,457.1 144.6,451.8 149.0,454.5 153.4,450.1 157.8,452.7 162.2,448.3 164.8,459.7 168.3,473.8 172.7,470.3 176.2,487.8 180.6,497.5 182.4,502.8" fill="none" stroke="#000" stroke-width="9" stroke-linejoin="round" stroke-linecap="round"/>
<polyline points="183.2,449.2 186.8,459.7 190.3,470.3 192.0,435.1 193.8,426.4 196.4,449.2 199.1,463.2 202.6,470.3 206.1,480.8 207.8,494.9 209.6,475.5 213.1,473.8 215.7,487.8 218.4,470.3 221.9,452.7 225.4,450.9 228.0,470.3 232.4,498.4 236.0,508.0 239.5,498.4 243.0,466.8 248.3,475.5" fill="none" stroke="#000" stroke-width="7" stroke-linejoin="round" stroke-linecap="round"/>
<polyline points="240.0,484.6 245.0,494.6 248.7,500.8 251.2,444.7 254.9,469.7 259.9,429.8 264.9,498.3 267.4,419.8 269.4,391.2 273.6,414.8 277.4,444.7 279.9,464.7 283.6,498.3 286.1,479.6 288.6,487.1 292.3,503.3 293.6,434.8 298.5,444.7 301.0,429.8 303.5,452.2 307.3,474.6 311.0,500.8 314.7,499.5 319.7,510.8 325.9,519.0 332.2,526.5" fill="none" stroke="#000" stroke-width="7" stroke-linejoin="round" stroke-linecap="round"/>
<polyline points="334.2,469.7 334.7,439.8 337.2,414.8 339.7,391.2 342.1,394.9 345.9,412.4 349.6,429.8 353.4,437.3" fill="none" stroke="#000" stroke-width="7" stroke-linejoin="round" stroke-linecap="round"/>
<polyline points="354.6,406.1 358.3,412.4 362.1,419.8 365.8,429.8 369.0,439.3" fill="none" stroke="#000" stroke-width="10" stroke-linejoin="round" stroke-linecap="round"/>
<path d="M93.1 533.9l2.6 2.6l-2.6 2.6l-2.6 -2.6z" fill="#fff" stroke="#222" stroke-width="1"/>
<path d="M115.6 543.5l2.6 2.6l-2.6 2.6l-2.6 -2.6z" fill="#fff" stroke="#222" stroke-width="1"/>
<path d="M121.1 485.5l2.6 2.6l-2.6 2.6l-2.6 -2.6z" fill="#fff" stroke="#222" stroke-width="1"/>
<path d="M121.1 505.5l2.6 2.6l-2.6 2.6l-2.6 -2.6z" fill="#fff" stroke="#222" stroke-width="1"/>
<path d="M121.1 518.4l2.6 2.6l-2.6 2.6l-2.6 -2.6z" fill="#fff" stroke="#222" stroke-width="1"/>
<path d="M332.2 501.9l2.6 2.6l-2.6 2.6l-2.6 -2.6z" fill="#fff" stroke="#222" stroke-width="1"/>
<path d="M332.2 487.0l2.6 2.6l-2.6 2.6l-2.6 -2.6z" fill="#fff" stroke="#222" stroke-width="1"/>
<path d="M332.2 474.5l2.6 2.6l-2.6 2.6l-2.6 -2.6z" fill="#fff" stroke="#222" stroke-width="1"/>
<path d="M269.4 385.3l2.6 2.6l-2.6 2.6l-2.6 -2.6z" fill="#fff" stroke="#222" stroke-width="1"/>
<path d="M340.1 384.3l2.6 2.6l-2.6 2.6l-2.6 -2.6z" fill="#fff" stroke="#222" stroke-width="1"/>
<path d="M355.1 428.4l2.6 2.6l-2.6 2.6l-2.6 -2.6z" fill="#fff" stroke="#222" stroke-width="1"/>
<path d="M361.3 398.5l2.6 2.6l-2.6 2.6l-2.6 -2.6z" fill="#fff" stroke="#222" stroke-width="1"/>
<polyline points="117.3,456.5 120.5,459.7 125.3,472.6 130.2,491.9 136.6,511.3 139.8,495.2 145.0,485.5 144.6,484.3 148.1,491.4 150.7,498.4 153.4,465.0 155.1,473.8 156.9,470.3 160.4,482.6 163.9,487.8 166.6,463.2 169.2,449.2 172.7,461.5 176.2,473.8 179.7,480.8 181.5,470.3 184.1,463.2 186.8,458.0 189.4,473.8 192.0,479.1 193.8,466.8 197.3,473.8 199.9,487.8 202.6,480.8 205.2,461.5 207.8,470.3 211.4,484.3 214.9,494.9 218.4,484.3 221.9,466.8 225.4,458.0 228.9,477.3 232.4,491.4 236.0,458.0 239.5,470.3 243.0,482.6 246.5,473.8 250.0,479.1" fill="none" stroke="#a3a3a3" stroke-width="1.6" stroke-linejoin="round"/>
<polyline points="240.0,469.7 243.7,494.6 248.7,459.7 252.5,487.1 257.4,439.8 262.4,487.1 266.2,457.2 269.9,437.3 273.6,464.7 277.4,474.6 282.4,489.6 286.1,469.7 291.1,489.6 294.8,449.7 299.8,477.1 303.5,459.7 308.5,484.6 312.2,469.7 316.0,477.1 322.2,479.6 324.7,452.2 328.4,472.1 330.9,469.7 333.4,442.2 335.9,414.8 339.7,399.9 344.6,419.8 349.6,434.8 354.6,437.3" fill="none" stroke="#a3a3a3" stroke-width="1.6" stroke-linejoin="round"/>
<polyline points="93.1,550.0 97.9,556.5 102.7,550.0 107.6,554.8 110.8,546.8 114.0,540.3 115.6,530.6 117.3,498.4 118.9,479.0 120.5,456.5 121.5,353.2 123.7,414.5 126.9,424.2 131.8,450.0 135.0,443.5 138.2,437.1 141.5,440.3 134.9,438.7 137.6,445.7 139.3,435.1 142.0,442.2 143.7,432.5 146.4,443.9 148.1,449.2 150.7,437.8 153.4,424.6 156.9,438.7 159.5,445.7 162.2,452.7 164.8,466.8 167.4,477.3 170.1,494.9 172.7,466.8 175.3,479.1 178.9,491.4 182.4,503.7 183.2,435.1 186.8,449.2 189.4,461.5 190.3,417.6 192.0,424.6 193.8,415.8 195.5,426.4 198.2,438.7 200.8,442.2 202.6,452.7 204.3,443.9 207.0,449.2 208.7,445.7 211.4,452.7 214.0,463.2 216.6,466.8 219.3,443.9 221.9,459.7 223.7,452.7 225.4,430.7 228.0,443.9 230.7,466.8 234.2,477.3 237.7,501.9 241.2,449.2 243.9,452.7 246.5,466.8 250.0,422.8" fill="none" stroke="#6aab3c" stroke-width="1.5" stroke-linejoin="round"/>
<polyline points="245.0,474.6 250.0,422.3 253.7,444.7 256.2,432.3 258.7,452.2 261.2,429.8 264.9,447.2 267.4,419.8 271.1,402.4 274.9,432.3 278.6,457.2 281.1,477.1 284.8,442.2 287.3,474.6 289.8,484.6 293.6,432.3 296.1,444.7 298.5,416.1 302.3,439.8 306.0,442.2 309.8,459.7 314.7,474.6 319.7,479.6 324.7,487.1 328.4,497.1 330.9,499.5 332.2,489.6 334.7,412.4 337.2,413.6 339.7,394.9 342.1,409.9 345.9,424.8 349.6,444.7 353.4,454.7 355.8,442.2 359.6,434.8 364.6,427.3 369.5,447.2" fill="none" stroke="#6aab3c" stroke-width="1.5" stroke-linejoin="round"/>
<line x1="92.9" y1="454.40" x2="368.2" y2="454.40" stroke="#00b050" stroke-width="1"/>
<line x1="92.9" y1="525.94" x2="368.2" y2="525.94" stroke="#ff2020" stroke-width="1"/>
</g>
<line x1="71.5" y1="342.5" x2="71.5" y2="565.2" stroke="#b8b8b8" stroke-width="1"/>
<line x1="379.0" y1="342.5" x2="379.0" y2="565.2" stroke="#333" stroke-width="1"/>
<line x1="71.0" y1="343.0" x2="379.5" y2="343.0" stroke="#444" stroke-width="1"/>
<line x1="71.0" y1="564.7" x2="379.5" y2="564.7" stroke="#666" stroke-width="1"/>
<path d="M71.5 564.70h3.2M379.5 564.70h-3.2" stroke="#333" stroke-width="1"/>
<text transform="translate(63.8,572.40) scale(0.965,1.09)" text-anchor="end" class="tk">0.2</text>
<path d="M71.5 509.33h3.2M379.5 509.33h-3.2" stroke="#333" stroke-width="1"/>
<text transform="translate(63.8,517.03) scale(0.965,1.09)" text-anchor="end" class="tk">0.3</text>
<path d="M71.5 453.95h3.2M379.5 453.95h-3.2" stroke="#333" stroke-width="1"/>
<text transform="translate(63.8,461.65) scale(0.965,1.09)" text-anchor="end" class="tk">0.4</text>
<path d="M71.5 398.57h3.2M379.5 398.57h-3.2" stroke="#333" stroke-width="1"/>
<text transform="translate(63.8,406.27) scale(0.965,1.09)" text-anchor="end" class="tk">0.5</text>
<path d="M71.5 343.20h3.2M379.5 343.20h-3.2" stroke="#333" stroke-width="1"/>
<text transform="translate(63.8,350.90) scale(0.965,1.09)" text-anchor="end" class="tk">0.6</text>
<path d="M71.50 564.7v-3.2M71.50 343.2v3.2" stroke="#333" stroke-width="1"/>
<text transform="translate(71.50,589.70) scale(0.985,1.09)" text-anchor="middle" class="tk">May</text>
<path d="M133.91 564.7v-3.2M133.91 343.2v3.2" stroke="#333" stroke-width="1"/>
<text transform="translate(133.91,589.70) scale(0.985,1.09)" text-anchor="middle" class="tk">Jun</text>
<path d="M194.30 564.7v-3.2M194.30 343.2v3.2" stroke="#333" stroke-width="1"/>
<text transform="translate(194.30,589.70) scale(0.985,1.09)" text-anchor="middle" class="tk">Jul</text>
<path d="M256.70 564.7v-3.2M256.70 343.2v3.2" stroke="#333" stroke-width="1"/>
<text transform="translate(256.70,589.70) scale(0.985,1.09)" text-anchor="middle" class="tk">Aug</text>
<path d="M319.11 564.7v-3.2M319.11 343.2v3.2" stroke="#333" stroke-width="1"/>
<text transform="translate(319.11,589.70) scale(0.985,1.09)" text-anchor="middle" class="tk">Sep</text>
<path d="M379.50 564.7v-3.2M379.50 343.2v3.2" stroke="#333" stroke-width="1"/>
<text transform="translate(379.50,589.70) scale(0.985,1.09)" text-anchor="middle" class="tk">Oct</text>
<text transform="translate(345.00,613.80) scale(0.985,1.09)" text-anchor="middle" class="tk">2016</text>
<text x="225.50" y="338.00" text-anchor="middle" class="ti">Tomatoes 2016 (silty clay soil)</text>
<text transform="translate(30.9,454.8) rotate(-90)" text-anchor="middle" class="yl">SM [m<tspan class="sup" dy="-10.7">3</tspan><tspan dy="10.7"> m</tspan><tspan class="sup" dy="-10.7">-3</tspan><tspan dy="10.7">]</tspan></text>
<line x1="501.5" y1="501.41" x2="809.5" y2="501.41" stroke="#e2e2e2" stroke-width="1"/>
<line x1="501.5" y1="438.13" x2="809.5" y2="438.13" stroke="#e2e2e2" stroke-width="1"/>
<line x1="501.5" y1="374.84" x2="809.5" y2="374.84" stroke="#e2e2e2" stroke-width="1"/>
<line x1="578.50" y1="343.2" x2="578.50" y2="564.7" stroke="#e2e2e2" stroke-width="1"/>
<line x1="655.50" y1="343.2" x2="655.50" y2="564.7" stroke="#e2e2e2" stroke-width="1"/>
<line x1="732.50" y1="343.2" x2="732.50" y2="564.7" stroke="#e2e2e2" stroke-width="1"/>
<clipPath id="c5"><rect x="501.5" y="343.2" width="308.0" height="222.50000000000006"/></clipPath>
<g clip-path="url(#c5)">
<path d="M503.4 479.6l2.8 2.8l-2.8 2.8l-2.8 -2.8z" fill="#000"/>
<path d="M505.4 479.6l2.8 2.8l-2.8 2.8l-2.8 -2.8z" fill="#000"/>
<path d="M507.4 479.6l2.8 2.8l-2.8 2.8l-2.8 -2.8z" fill="#000"/>
<path d="M509.4 479.6l2.8 2.8l-2.8 2.8l-2.8 -2.8z" fill="#000"/>
<path d="M511.5 479.6l2.8 2.8l-2.8 2.8l-2.8 -2.8z" fill="#000"/>
<path d="M513.5 479.6l2.8 2.8l-2.8 2.8l-2.8 -2.8z" fill="#000"/>
<path d="M515.5 479.6l2.8 2.8l-2.8 2.8l-2.8 -2.8z" fill="#000"/>
<path d="M517.5 479.6l2.8 2.8l-2.8 2.8l-2.8 -2.8z" fill="#000"/>
<path d="M519.5 479.6l2.8 2.8l-2.8 2.8l-2.8 -2.8z" fill="#000"/>
<path d="M521.6 479.6l2.8 2.8l-2.8 2.8l-2.8 -2.8z" fill="#000"/>
<path d="M523.6 479.6l2.8 2.8l-2.8 2.8l-2.8 -2.8z" fill="#000"/>
<path d="M525.6 479.6l2.8 2.8l-2.8 2.8l-2.8 -2.8z" fill="#000"/>
<path d="M527.6 479.6l2.8 2.8l-2.8 2.8l-2.8 -2.8z" fill="#000"/>
<path d="M529.6 479.6l2.8 2.8l-2.8 2.8l-2.8 -2.8z" fill="#000"/>
<path d="M531.7 479.6l2.8 2.8l-2.8 2.8l-2.8 -2.8z" fill="#000"/>
<path d="M533.7 479.6l2.8 2.8l-2.8 2.8l-2.8 -2.8z" fill="#000"/>
<path d="M511.8 486.0l2.8 2.8l-2.8 2.8l-2.8 -2.8z" fill="#000"/>
<path d="M513.8 486.0l2.8 2.8l-2.8 2.8l-2.8 -2.8z" fill="#000"/>
<path d="M515.8 486.0l2.8 2.8l-2.8 2.8l-2.8 -2.8z" fill="#000"/>
<path d="M517.9 486.0l2.8 2.8l-2.8 2.8l-2.8 -2.8z" fill="#000"/>
<path d="M519.9 486.0l2.8 2.8l-2.8 2.8l-2.8 -2.8z" fill="#000"/>
<path d="M521.9 486.0l2.8 2.8l-2.8 2.8l-2.8 -2.8z" fill="#000"/>
<path d="M523.9 486.0l2.8 2.8l-2.8 2.8l-2.8 -2.8z" fill="#000"/>
<path d="M525.9 486.0l2.8 2.8l-2.8 2.8l-2.8 -2.8z" fill="#000"/>
<path d="M528.0 486.0l2.8 2.8l-2.8 2.8l-2.8 -2.8z" fill="#000"/>
<path d="M530.0 486.0l2.8 2.8l-2.8 2.8l-2.8 -2.8z" fill="#000"/>
<path d="M532.0 486.0l2.8 2.8l-2.8 2.8l-2.8 -2.8z" fill="#000"/>
<path d="M534.0 486.0l2.8 2.8l-2.8 2.8l-2.8 -2.8z" fill="#000"/>
<path d="M536.0 486.0l2.8 2.8l-2.8 2.8l-2.8 -2.8z" fill="#000"/>
<path d="M537.0 460.6l2.8 2.8l-2.8 2.8l-2.8 -2.8z" fill="#000"/>
<path d="M537.0 454.3l2.8 2.8l-2.8 2.8l-2.8 -2.8z" fill="#000"/>
<path d="M537.0 448.0l2.8 2.8l-2.8 2.8l-2.8 -2.8z" fill="#000"/>
<path d="M537.0 441.7l2.8 2.8l-2.8 2.8l-2.8 -2.8z" fill="#000"/>
<path d="M537.0 435.3l2.8 2.8l-2.8 2.8l-2.8 -2.8z" fill="#000"/>
<path d="M537.0 429.0l2.8 2.8l-2.8 2.8l-2.8 -2.8z" fill="#000"/>
<path d="M539.7 460.6l2.8 2.8l-2.8 2.8l-2.8 -2.8z" fill="#000"/>
<path d="M539.7 454.3l2.8 2.8l-2.8 2.8l-2.8 -2.8z" fill="#000"/>
<path d="M539.7 448.0l2.8 2.8l-2.8 2.8l-2.8 -2.8z" fill="#000"/>
<path d="M539.7 441.7l2.8 2.8l-2.8 2.8l-2.8 -2.8z" fill="#000"/>
<path d="M539.7 435.3l2.8 2.8l-2.8 2.8l-2.8 -2.8z" fill="#000"/>
<path d="M542.4 460.6l2.8 2.8l-2.8 2.8l-2.8 -2.8z" fill="#000"/>
<path d="M542.4 454.3l2.8 2.8l-2.8 2.8l-2.8 -2.8z" fill="#000"/>
<path d="M542.4 448.0l2.8 2.8l-2.8 2.8l-2.8 -2.8z" fill="#000"/>
<path d="M545.1 467.0l2.8 2.8l-2.8 2.8l-2.8 -2.8z" fill="#000"/>
<path d="M545.1 460.6l2.8 2.8l-2.8 2.8l-2.8 -2.8z" fill="#000"/>
<path d="M545.1 454.3l2.8 2.8l-2.8 2.8l-2.8 -2.8z" fill="#000"/>
<path d="M547.2 479.6l2.8 2.8l-2.8 2.8l-2.8 -2.8z" fill="#000"/>
<path d="M547.2 473.3l2.8 2.8l-2.8 2.8l-2.8 -2.8z" fill="#000"/>
<path d="M547.2 467.0l2.8 2.8l-2.8 2.8l-2.8 -2.8z" fill="#000"/>
<path d="M550.5 479.6l2.8 2.8l-2.8 2.8l-2.8 -2.8z" fill="#000"/>
<path d="M550.5 473.3l2.8 2.8l-2.8 2.8l-2.8 -2.8z" fill="#000"/>
<path d="M550.5 467.0l2.8 2.8l-2.8 2.8l-2.8 -2.8z" fill="#000"/>
<path d="M553.9 479.6l2.8 2.8l-2.8 2.8l-2.8 -2.8z" fill="#000"/>
<path d="M553.9 473.3l2.8 2.8l-2.8 2.8l-2.8 -2.8z" fill="#000"/>
<path d="M553.9 467.0l2.8 2.8l-2.8 2.8l-2.8 -2.8z" fill="#000"/>
<path d="M557.3 479.6l2.8 2.8l-2.8 2.8l-2.8 -2.8z" fill="#000"/>
<path d="M557.3 473.3l2.8 2.8l-2.8 2.8l-2.8 -2.8z" fill="#000"/>
<path d="M557.3 467.0l2.8 2.8l-2.8 2.8l-2.8 -2.8z" fill="#000"/>
<path d="M560.0 473.3l2.8 2.8l-2.8 2.8l-2.8 -2.8z" fill="#000"/>
<path d="M560.0 467.0l2.8 2.8l-2.8 2.8l-2.8 -2.8z" fill="#000"/>
<path d="M562.3 448.0l2.8 2.8l-2.8 2.8l-2.8 -2.8z" fill="#000"/>
<path d="M562.3 441.7l2.8 2.8l-2.8 2.8l-2.8 -2.8z" fill="#000"/>
<path d="M562.3 435.3l2.8 2.8l-2.8 2.8l-2.8 -2.8z" fill="#000"/>
<path d="M562.3 429.0l2.8 2.8l-2.8 2.8l-2.8 -2.8z" fill="#000"/>
<path d="M562.3 422.7l2.8 2.8l-2.8 2.8l-2.8 -2.8z" fill="#000"/>
<path d="M564.7 460.6l2.8 2.8l-2.8 2.8l-2.8 -2.8z" fill="#000"/>
<path d="M564.7 454.3l2.8 2.8l-2.8 2.8l-2.8 -2.8z" fill="#000"/>
<path d="M564.7 448.0l2.8 2.8l-2.8 2.8l-2.8 -2.8z" fill="#000"/>
<path d="M567.4 454.8l2.3 2.3l-2.3 2.3l-2.3 -2.3z" fill="#fff" stroke="#222" stroke-width="1.1"/>
<path d="M567.4 448.5l2.3 2.3l-2.3 2.3l-2.3 -2.3z" fill="#fff" stroke="#222" stroke-width="1.1"/>
<path d="M570.7 461.1l2.3 2.3l-2.3 2.3l-2.3 -2.3z" fill="#fff" stroke="#222" stroke-width="1.1"/>
<path d="M570.7 454.3l2.8 2.8l-2.8 2.8l-2.8 -2.8z" fill="#000"/>
<path d="M570.7 448.0l2.8 2.8l-2.8 2.8l-2.8 -2.8z" fill="#000"/>
<path d="M574.1 460.6l2.8 2.8l-2.8 2.8l-2.8 -2.8z" fill="#000"/>
<path d="M574.1 454.3l2.8 2.8l-2.8 2.8l-2.8 -2.8z" fill="#000"/>
<path d="M577.5 460.6l2.8 2.8l-2.8 2.8l-2.8 -2.8z" fill="#000"/>
<path d="M577.5 454.3l2.8 2.8l-2.8 2.8l-2.8 -2.8z" fill="#000"/>
<path d="M580.8 448.5l2.3 2.3l-2.3 2.3l-2.3 -2.3z" fill="#fff" stroke="#222" stroke-width="1.1"/>
<path d="M580.8 442.2l2.3 2.3l-2.3 2.3l-2.3 -2.3z" fill="#fff" stroke="#222" stroke-width="1.1"/>
<path d="M580.8 435.3l2.8 2.8l-2.8 2.8l-2.8 -2.8z" fill="#000"/>
<path d="M580.8 429.0l2.8 2.8l-2.8 2.8l-2.8 -2.8z" fill="#000"/>
<path d="M580.8 422.7l2.8 2.8l-2.8 2.8l-2.8 -2.8z" fill="#000"/>
<path d="M580.8 416.3l2.8 2.8l-2.8 2.8l-2.8 -2.8z" fill="#000"/>
<path d="M580.8 410.5l2.3 2.3l-2.3 2.3l-2.3 -2.3z" fill="#fff" stroke="#222" stroke-width="1.1"/>
<path d="M584.9 467.5l2.3 2.3l-2.3 2.3l-2.3 -2.3z" fill="#fff" stroke="#222" stroke-width="1.1"/>
<path d="M584.9 461.1l2.3 2.3l-2.3 2.3l-2.3 -2.3z" fill="#fff" stroke="#222" stroke-width="1.1"/>
<path d="M584.9 454.3l2.8 2.8l-2.8 2.8l-2.8 -2.8z" fill="#000"/>
<path d="M588.2 467.5l2.3 2.3l-2.3 2.3l-2.3 -2.3z" fill="#fff" stroke="#222" stroke-width="1.1"/>
<path d="M588.2 460.6l2.8 2.8l-2.8 2.8l-2.8 -2.8z" fill="#000"/>
<path d="M588.2 454.3l2.8 2.8l-2.8 2.8l-2.8 -2.8z" fill="#000"/>
<path d="M591.6 473.3l2.8 2.8l-2.8 2.8l-2.8 -2.8z" fill="#000"/>
<path d="M591.6 467.0l2.8 2.8l-2.8 2.8l-2.8 -2.8z" fill="#000"/>
<path d="M591.6 460.6l2.8 2.8l-2.8 2.8l-2.8 -2.8z" fill="#000"/>
<path d="M595.0 473.3l2.8 2.8l-2.8 2.8l-2.8 -2.8z" fill="#000"/>
<path d="M595.0 467.0l2.8 2.8l-2.8 2.8l-2.8 -2.8z" fill="#000"/>
<path d="M598.3 473.8l2.3 2.3l-2.3 2.3l-2.3 -2.3z" fill="#fff" stroke="#222" stroke-width="1.1"/>
<path d="M598.3 467.5l2.3 2.3l-2.3 2.3l-2.3 -2.3z" fill="#fff" stroke="#222" stroke-width="1.1"/>
<path d="M599.7 423.2l2.3 2.3l-2.3 2.3l-2.3 -2.3z" fill="#fff" stroke="#222" stroke-width="1.1"/>
<path d="M599.7 416.8l2.3 2.3l-2.3 2.3l-2.3 -2.3z" fill="#fff" stroke="#222" stroke-width="1.1"/>
<path d="M599.7 410.5l2.3 2.3l-2.3 2.3l-2.3 -2.3z" fill="#fff" stroke="#222" stroke-width="1.1"/>
<path d="M599.7 403.7l2.8 2.8l-2.8 2.8l-2.8 -2.8z" fill="#000"/>
<path d="M599.7 397.4l2.8 2.8l-2.8 2.8l-2.8 -2.8z" fill="#000"/>
<path d="M602.7 460.6l2.8 2.8l-2.8 2.8l-2.8 -2.8z" fill="#000"/>
<path d="M602.7 454.3l2.8 2.8l-2.8 2.8l-2.8 -2.8z" fill="#000"/>
<path d="M602.7 448.0l2.8 2.8l-2.8 2.8l-2.8 -2.8z" fill="#000"/>
<path d="M606.1 473.3l2.8 2.8l-2.8 2.8l-2.8 -2.8z" fill="#000"/>
<path d="M606.1 467.0l2.8 2.8l-2.8 2.8l-2.8 -2.8z" fill="#000"/>
<path d="M606.1 460.6l2.8 2.8l-2.8 2.8l-2.8 -2.8z" fill="#000"/>
<path d="M606.1 454.3l2.8 2.8l-2.8 2.8l-2.8 -2.8z" fill="#000"/>
<path d="M609.5 479.6l2.8 2.8l-2.8 2.8l-2.8 -2.8z" fill="#000"/>
<path d="M609.5 473.3l2.8 2.8l-2.8 2.8l-2.8 -2.8z" fill="#000"/>
<path d="M609.5 467.0l2.8 2.8l-2.8 2.8l-2.8 -2.8z" fill="#000"/>
<path d="M609.5 461.1l2.3 2.3l-2.3 2.3l-2.3 -2.3z" fill="#fff" stroke="#222" stroke-width="1.1"/>
<path d="M612.8 486.0l2.8 2.8l-2.8 2.8l-2.8 -2.8z" fill="#000"/>
<path d="M612.8 479.6l2.8 2.8l-2.8 2.8l-2.8 -2.8z" fill="#000"/>
<path d="M612.8 473.8l2.3 2.3l-2.3 2.3l-2.3 -2.3z" fill="#fff" stroke="#222" stroke-width="1.1"/>
<path d="M612.8 467.5l2.3 2.3l-2.3 2.3l-2.3 -2.3z" fill="#fff" stroke="#222" stroke-width="1.1"/>
<path d="M616.2 498.6l2.8 2.8l-2.8 2.8l-2.8 -2.8z" fill="#000"/>
<path d="M616.2 492.3l2.8 2.8l-2.8 2.8l-2.8 -2.8z" fill="#000"/>
<path d="M616.2 486.0l2.8 2.8l-2.8 2.8l-2.8 -2.8z" fill="#000"/>
<path d="M616.2 480.1l2.3 2.3l-2.3 2.3l-2.3 -2.3z" fill="#fff" stroke="#222" stroke-width="1.1"/>
<path d="M616.2 473.8l2.3 2.3l-2.3 2.3l-2.3 -2.3z" fill="#fff" stroke="#222" stroke-width="1.1"/>
<path d="M618.6 498.6l2.8 2.8l-2.8 2.8l-2.8 -2.8z" fill="#000"/>
<path d="M618.6 492.8l2.3 2.3l-2.3 2.3l-2.3 -2.3z" fill="#fff" stroke="#222" stroke-width="1.1"/>
<path d="M618.6 486.5l2.3 2.3l-2.3 2.3l-2.3 -2.3z" fill="#fff" stroke="#222" stroke-width="1.1"/>
<path d="M618.6 480.1l2.3 2.3l-2.3 2.3l-2.3 -2.3z" fill="#fff" stroke="#222" stroke-width="1.1"/>
<path d="M619.9 448.5l2.3 2.3l-2.3 2.3l-2.3 -2.3z" fill="#fff" stroke="#222" stroke-width="1.1"/>
<path d="M619.9 442.2l2.3 2.3l-2.3 2.3l-2.3 -2.3z" fill="#fff" stroke="#222" stroke-width="1.1"/>
<path d="M619.9 435.8l2.3 2.3l-2.3 2.3l-2.3 -2.3z" fill="#fff" stroke="#222" stroke-width="1.1"/>
<path d="M619.9 429.5l2.3 2.3l-2.3 2.3l-2.3 -2.3z" fill="#fff" stroke="#222" stroke-width="1.1"/>
<path d="M619.9 422.7l2.8 2.8l-2.8 2.8l-2.8 -2.8z" fill="#000"/>
<path d="M619.9 416.3l2.8 2.8l-2.8 2.8l-2.8 -2.8z" fill="#000"/>
<path d="M619.9 410.0l2.8 2.8l-2.8 2.8l-2.8 -2.8z" fill="#000"/>
<path d="M622.9 467.0l2.8 2.8l-2.8 2.8l-2.8 -2.8z" fill="#000"/>
<path d="M622.9 460.6l2.8 2.8l-2.8 2.8l-2.8 -2.8z" fill="#000"/>
<path d="M622.9 454.8l2.3 2.3l-2.3 2.3l-2.3 -2.3z" fill="#fff" stroke="#222" stroke-width="1.1"/>
<path d="M626.3 467.5l2.3 2.3l-2.3 2.3l-2.3 -2.3z" fill="#fff" stroke="#222" stroke-width="1.1"/>
<path d="M626.3 461.1l2.3 2.3l-2.3 2.3l-2.3 -2.3z" fill="#fff" stroke="#222" stroke-width="1.1"/>
<path d="M626.3 454.8l2.3 2.3l-2.3 2.3l-2.3 -2.3z" fill="#fff" stroke="#222" stroke-width="1.1"/>
<path d="M629.7 467.5l2.3 2.3l-2.3 2.3l-2.3 -2.3z" fill="#fff" stroke="#222" stroke-width="1.1"/>
<path d="M629.7 460.6l2.8 2.8l-2.8 2.8l-2.8 -2.8z" fill="#000"/>
<path d="M633.0 467.0l2.8 2.8l-2.8 2.8l-2.8 -2.8z" fill="#000"/>
<path d="M633.0 460.6l2.8 2.8l-2.8 2.8l-2.8 -2.8z" fill="#000"/>
<path d="M636.4 448.5l2.3 2.3l-2.3 2.3l-2.3 -2.3z" fill="#fff" stroke="#222" stroke-width="1.1"/>
<path d="M636.4 442.2l2.3 2.3l-2.3 2.3l-2.3 -2.3z" fill="#fff" stroke="#222" stroke-width="1.1"/>
<path d="M636.4 435.8l2.3 2.3l-2.3 2.3l-2.3 -2.3z" fill="#fff" stroke="#222" stroke-width="1.1"/>
<path d="M636.4 429.0l2.8 2.8l-2.8 2.8l-2.8 -2.8z" fill="#000"/>
<path d="M636.4 422.7l2.8 2.8l-2.8 2.8l-2.8 -2.8z" fill="#000"/>
<path d="M636.4 416.3l2.8 2.8l-2.8 2.8l-2.8 -2.8z" fill="#000"/>
<path d="M636.4 410.0l2.8 2.8l-2.8 2.8l-2.8 -2.8z" fill="#000"/>
<path d="M636.4 404.2l2.3 2.3l-2.3 2.3l-2.3 -2.3z" fill="#fff" stroke="#222" stroke-width="1.1"/>
<path d="M639.8 467.5l2.3 2.3l-2.3 2.3l-2.3 -2.3z" fill="#fff" stroke="#222" stroke-width="1.1"/>
<path d="M639.8 461.1l2.3 2.3l-2.3 2.3l-2.3 -2.3z" fill="#fff" stroke="#222" stroke-width="1.1"/>
<path d="M639.8 454.8l2.3 2.3l-2.3 2.3l-2.3 -2.3z" fill="#fff" stroke="#222" stroke-width="1.1"/>
<path d="M643.1 473.8l2.3 2.3l-2.3 2.3l-2.3 -2.3z" fill="#fff" stroke="#222" stroke-width="1.1"/>
<path d="M643.1 467.5l2.3 2.3l-2.3 2.3l-2.3 -2.3z" fill="#fff" stroke="#222" stroke-width="1.1"/>
<path d="M643.1 461.1l2.3 2.3l-2.3 2.3l-2.3 -2.3z" fill="#fff" stroke="#222" stroke-width="1.1"/>
<path d="M643.1 454.3l2.8 2.8l-2.8 2.8l-2.8 -2.8z" fill="#000"/>
<path d="M647.2 448.0l2.8 2.8l-2.8 2.8l-2.8 -2.8z" fill="#000"/>
<path d="M647.2 442.2l2.3 2.3l-2.3 2.3l-2.3 -2.3z" fill="#fff" stroke="#222" stroke-width="1.1"/>
<path d="M647.2 435.8l2.3 2.3l-2.3 2.3l-2.3 -2.3z" fill="#fff" stroke="#222" stroke-width="1.1"/>
<path d="M647.2 429.5l2.3 2.3l-2.3 2.3l-2.3 -2.3z" fill="#fff" stroke="#222" stroke-width="1.1"/>
<path d="M647.2 422.7l2.8 2.8l-2.8 2.8l-2.8 -2.8z" fill="#000"/>
<path d="M647.2 416.3l2.8 2.8l-2.8 2.8l-2.8 -2.8z" fill="#000"/>
<path d="M647.2 410.0l2.8 2.8l-2.8 2.8l-2.8 -2.8z" fill="#000"/>
<path d="M650.6 467.0l2.8 2.8l-2.8 2.8l-2.8 -2.8z" fill="#000"/>
<path d="M650.6 460.6l2.8 2.8l-2.8 2.8l-2.8 -2.8z" fill="#000"/>
<path d="M650.6 454.8l2.3 2.3l-2.3 2.3l-2.3 -2.3z" fill="#fff" stroke="#222" stroke-width="1.1"/>
<path d="M650.6 448.5l2.3 2.3l-2.3 2.3l-2.3 -2.3z" fill="#fff" stroke="#222" stroke-width="1.1"/>
<path d="M650.6 442.2l2.3 2.3l-2.3 2.3l-2.3 -2.3z" fill="#fff" stroke="#222" stroke-width="1.1"/>
<path d="M650.6 435.8l2.3 2.3l-2.3 2.3l-2.3 -2.3z" fill="#fff" stroke="#222" stroke-width="1.1"/>
<path d="M650.6 429.0l2.8 2.8l-2.8 2.8l-2.8 -2.8z" fill="#000"/>
<path d="M650.6 422.7l2.8 2.8l-2.8 2.8l-2.8 -2.8z" fill="#000"/>
<path d="M650.6 416.3l2.8 2.8l-2.8 2.8l-2.8 -2.8z" fill="#000"/>
<path d="M650.6 410.0l2.8 2.8l-2.8 2.8l-2.8 -2.8z" fill="#000"/>
<path d="M651.7 454.8l2.3 2.3l-2.3 2.3l-2.3 -2.3z" fill="#fff" stroke="#222" stroke-width="1.1"/>
<path d="M651.7 448.5l2.3 2.3l-2.3 2.3l-2.3 -2.3z" fill="#fff" stroke="#222" stroke-width="1.1"/>
<path d="M651.7 442.2l2.3 2.3l-2.3 2.3l-2.3 -2.3z" fill="#fff" stroke="#222" stroke-width="1.1"/>
<path d="M651.7 435.3l2.8 2.8l-2.8 2.8l-2.8 -2.8z" fill="#000"/>
<path d="M651.7 429.0l2.8 2.8l-2.8 2.8l-2.8 -2.8z" fill="#000"/>
<path d="M651.7 422.7l2.8 2.8l-2.8 2.8l-2.8 -2.8z" fill="#000"/>
<path d="M651.7 416.3l2.8 2.8l-2.8 2.8l-2.8 -2.8z" fill="#000"/>
<path d="M651.7 410.5l2.3 2.3l-2.3 2.3l-2.3 -2.3z" fill="#fff" stroke="#222" stroke-width="1.1"/>
<path d="M651.7 404.2l2.3 2.3l-2.3 2.3l-2.3 -2.3z" fill="#fff" stroke="#222" stroke-width="1.1"/>
<path d="M665.2 378.4l2.8 2.8l-2.8 2.8l-2.8 -2.8z" fill="#000"/>
<path d="M665.2 372.0l2.8 2.8l-2.8 2.8l-2.8 -2.8z" fill="#000"/>
<path d="M665.2 365.7l2.8 2.8l-2.8 2.8l-2.8 -2.8z" fill="#000"/>
<path d="M665.2 359.9l2.3 2.3l-2.3 2.3l-2.3 -2.3z" fill="#fff" stroke="#222" stroke-width="1.1"/>
<path d="M663.5 435.8l2.3 2.3l-2.3 2.3l-2.3 -2.3z" fill="#fff" stroke="#222" stroke-width="1.1"/>
<path d="M663.5 429.0l2.8 2.8l-2.8 2.8l-2.8 -2.8z" fill="#000"/>
<path d="M663.5 422.7l2.8 2.8l-2.8 2.8l-2.8 -2.8z" fill="#000"/>
<path d="M663.5 416.3l2.8 2.8l-2.8 2.8l-2.8 -2.8z" fill="#000"/>
<path d="M663.5 410.0l2.8 2.8l-2.8 2.8l-2.8 -2.8z" fill="#000"/>
<path d="M663.5 403.7l2.8 2.8l-2.8 2.8l-2.8 -2.8z" fill="#000"/>
<path d="M663.5 397.9l2.3 2.3l-2.3 2.3l-2.3 -2.3z" fill="#fff" stroke="#222" stroke-width="1.1"/>
<path d="M666.8 467.0l2.8 2.8l-2.8 2.8l-2.8 -2.8z" fill="#000"/>
<path d="M666.8 461.1l2.3 2.3l-2.3 2.3l-2.3 -2.3z" fill="#fff" stroke="#222" stroke-width="1.1"/>
<path d="M666.8 454.8l2.3 2.3l-2.3 2.3l-2.3 -2.3z" fill="#fff" stroke="#222" stroke-width="1.1"/>
<path d="M666.8 448.5l2.3 2.3l-2.3 2.3l-2.3 -2.3z" fill="#fff" stroke="#222" stroke-width="1.1"/>
<path d="M666.8 442.2l2.3 2.3l-2.3 2.3l-2.3 -2.3z" fill="#fff" stroke="#222" stroke-width="1.1"/>
<path d="M666.8 435.3l2.8 2.8l-2.8 2.8l-2.8 -2.8z" fill="#000"/>
<path d="M666.8 429.0l2.8 2.8l-2.8 2.8l-2.8 -2.8z" fill="#000"/>
<path d="M666.8 422.7l2.8 2.8l-2.8 2.8l-2.8 -2.8z" fill="#000"/>
<path d="M666.8 416.3l2.8 2.8l-2.8 2.8l-2.8 -2.8z" fill="#000"/>
<path d="M666.8 410.5l2.3 2.3l-2.3 2.3l-2.3 -2.3z" fill="#fff" stroke="#222" stroke-width="1.1"/>
<path d="M666.8 404.2l2.3 2.3l-2.3 2.3l-2.3 -2.3z" fill="#fff" stroke="#222" stroke-width="1.1"/>
<path d="M670.2 473.8l2.3 2.3l-2.3 2.3l-2.3 -2.3z" fill="#fff" stroke="#222" stroke-width="1.1"/>
<path d="M670.2 467.5l2.3 2.3l-2.3 2.3l-2.3 -2.3z" fill="#fff" stroke="#222" stroke-width="1.1"/>
<path d="M670.2 461.1l2.3 2.3l-2.3 2.3l-2.3 -2.3z" fill="#fff" stroke="#222" stroke-width="1.1"/>
<path d="M670.2 454.8l2.3 2.3l-2.3 2.3l-2.3 -2.3z" fill="#fff" stroke="#222" stroke-width="1.1"/>
<path d="M670.2 448.0l2.8 2.8l-2.8 2.8l-2.8 -2.8z" fill="#000"/>
<path d="M670.2 441.7l2.8 2.8l-2.8 2.8l-2.8 -2.8z" fill="#000"/>
<path d="M670.2 435.3l2.8 2.8l-2.8 2.8l-2.8 -2.8z" fill="#000"/>
<path d="M676.9 454.3l2.8 2.8l-2.8 2.8l-2.8 -2.8z" fill="#000"/>
<path d="M676.9 448.5l2.3 2.3l-2.3 2.3l-2.3 -2.3z" fill="#fff" stroke="#222" stroke-width="1.1"/>
<path d="M676.9 442.2l2.3 2.3l-2.3 2.3l-2.3 -2.3z" fill="#fff" stroke="#222" stroke-width="1.1"/>
<path d="M676.9 435.8l2.3 2.3l-2.3 2.3l-2.3 -2.3z" fill="#fff" stroke="#222" stroke-width="1.1"/>
<path d="M676.9 429.5l2.3 2.3l-2.3 2.3l-2.3 -2.3z" fill="#fff" stroke="#222" stroke-width="1.1"/>
<path d="M676.9 422.7l2.8 2.8l-2.8 2.8l-2.8 -2.8z" fill="#000"/>
<path d="M676.9 416.3l2.8 2.8l-2.8 2.8l-2.8 -2.8z" fill="#000"/>
<path d="M676.9 410.0l2.8 2.8l-2.8 2.8l-2.8 -2.8z" fill="#000"/>
<path d="M676.9 403.7l2.8 2.8l-2.8 2.8l-2.8 -2.8z" fill="#000"/>
<path d="M676.9 397.9l2.3 2.3l-2.3 2.3l-2.3 -2.3z" fill="#fff" stroke="#222" stroke-width="1.1"/>
<path d="M676.9 391.5l2.3 2.3l-2.3 2.3l-2.3 -2.3z" fill="#fff" stroke="#222" stroke-width="1.1"/>
<path d="M676.9 385.2l2.3 2.3l-2.3 2.3l-2.3 -2.3z" fill="#fff" stroke="#222" stroke-width="1.1"/>
<path d="M690.4 448.0l2.8 2.8l-2.8 2.8l-2.8 -2.8z" fill="#000"/>
<path d="M690.4 442.2l2.3 2.3l-2.3 2.3l-2.3 -2.3z" fill="#fff" stroke="#222" stroke-width="1.1"/>
<path d="M690.4 435.8l2.3 2.3l-2.3 2.3l-2.3 -2.3z" fill="#fff" stroke="#222" stroke-width="1.1"/>
<path d="M690.4 429.5l2.3 2.3l-2.3 2.3l-2.3 -2.3z" fill="#fff" stroke="#222" stroke-width="1.1"/>
<path d="M690.4 422.7l2.8 2.8l-2.8 2.8l-2.8 -2.8z" fill="#000"/>
<path d="M690.4 416.3l2.8 2.8l-2.8 2.8l-2.8 -2.8z" fill="#000"/>
<path d="M690.4 410.0l2.8 2.8l-2.8 2.8l-2.8 -2.8z" fill="#000"/>
<path d="M690.4 403.7l2.8 2.8l-2.8 2.8l-2.8 -2.8z" fill="#000"/>
<path d="M690.4 397.9l2.3 2.3l-2.3 2.3l-2.3 -2.3z" fill="#fff" stroke="#222" stroke-width="1.1"/>
<path d="M693.8 435.3l2.8 2.8l-2.8 2.8l-2.8 -2.8z" fill="#000"/>
<path d="M693.8 429.0l2.8 2.8l-2.8 2.8l-2.8 -2.8z" fill="#000"/>
<path d="M693.8 422.7l2.8 2.8l-2.8 2.8l-2.8 -2.8z" fill="#000"/>
<path d="M693.8 416.3l2.8 2.8l-2.8 2.8l-2.8 -2.8z" fill="#000"/>
<path d="M693.8 410.0l2.8 2.8l-2.8 2.8l-2.8 -2.8z" fill="#000"/>
<path d="M693.8 404.2l2.3 2.3l-2.3 2.3l-2.3 -2.3z" fill="#fff" stroke="#222" stroke-width="1.1"/>
<path d="M693.8 397.9l2.3 2.3l-2.3 2.3l-2.3 -2.3z" fill="#fff" stroke="#222" stroke-width="1.1"/>
<path d="M693.8 391.5l2.3 2.3l-2.3 2.3l-2.3 -2.3z" fill="#fff" stroke="#222" stroke-width="1.1"/>
<path d="M693.8 384.7l2.8 2.8l-2.8 2.8l-2.8 -2.8z" fill="#000"/>
<path d="M698.8 435.3l2.8 2.8l-2.8 2.8l-2.8 -2.8z" fill="#000"/>
<path d="M698.8 429.0l2.8 2.8l-2.8 2.8l-2.8 -2.8z" fill="#000"/>
<path d="M698.8 423.2l2.3 2.3l-2.3 2.3l-2.3 -2.3z" fill="#fff" stroke="#222" stroke-width="1.1"/>
<path d="M698.8 416.8l2.3 2.3l-2.3 2.3l-2.3 -2.3z" fill="#fff" stroke="#222" stroke-width="1.1"/>
<path d="M698.8 410.5l2.3 2.3l-2.3 2.3l-2.3 -2.3z" fill="#fff" stroke="#222" stroke-width="1.1"/>
<path d="M698.8 403.7l2.8 2.8l-2.8 2.8l-2.8 -2.8z" fill="#000"/>
<path d="M708.9 404.2l2.3 2.3l-2.3 2.3l-2.3 -2.3z" fill="#fff" stroke="#222" stroke-width="1.1"/>
<path d="M708.9 397.9l2.3 2.3l-2.3 2.3l-2.3 -2.3z" fill="#fff" stroke="#222" stroke-width="1.1"/>
<path d="M708.9 391.5l2.3 2.3l-2.3 2.3l-2.3 -2.3z" fill="#fff" stroke="#222" stroke-width="1.1"/>
<path d="M708.9 384.7l2.8 2.8l-2.8 2.8l-2.8 -2.8z" fill="#000"/>
<path d="M708.9 378.4l2.8 2.8l-2.8 2.8l-2.8 -2.8z" fill="#000"/>
<path d="M708.9 372.0l2.8 2.8l-2.8 2.8l-2.8 -2.8z" fill="#000"/>
<path d="M708.9 365.7l2.8 2.8l-2.8 2.8l-2.8 -2.8z" fill="#000"/>
<path d="M708.9 359.9l2.3 2.3l-2.3 2.3l-2.3 -2.3z" fill="#fff" stroke="#222" stroke-width="1.1"/>
<path d="M708.9 353.6l2.3 2.3l-2.3 2.3l-2.3 -2.3z" fill="#fff" stroke="#222" stroke-width="1.1"/>
<path d="M711.3 410.5l2.3 2.3l-2.3 2.3l-2.3 -2.3z" fill="#fff" stroke="#222" stroke-width="1.1"/>
<path d="M711.3 404.2l2.3 2.3l-2.3 2.3l-2.3 -2.3z" fill="#fff" stroke="#222" stroke-width="1.1"/>
<path d="M711.3 397.4l2.8 2.8l-2.8 2.8l-2.8 -2.8z" fill="#000"/>
<path d="M711.3 391.0l2.8 2.8l-2.8 2.8l-2.8 -2.8z" fill="#000"/>
<path d="M711.3 384.7l2.8 2.8l-2.8 2.8l-2.8 -2.8z" fill="#000"/>
<path d="M711.3 378.4l2.8 2.8l-2.8 2.8l-2.8 -2.8z" fill="#000"/>
<path d="M714.7 416.8l2.3 2.3l-2.3 2.3l-2.3 -2.3z" fill="#fff" stroke="#222" stroke-width="1.1"/>
<path d="M714.7 410.5l2.3 2.3l-2.3 2.3l-2.3 -2.3z" fill="#fff" stroke="#222" stroke-width="1.1"/>
<path d="M714.7 403.7l2.8 2.8l-2.8 2.8l-2.8 -2.8z" fill="#000"/>
<path d="M718.0 416.3l2.8 2.8l-2.8 2.8l-2.8 -2.8z" fill="#000"/>
<path d="M718.0 410.0l2.8 2.8l-2.8 2.8l-2.8 -2.8z" fill="#000"/>
<path d="M718.0 403.7l2.8 2.8l-2.8 2.8l-2.8 -2.8z" fill="#000"/>
<path d="M721.4 416.3l2.8 2.8l-2.8 2.8l-2.8 -2.8z" fill="#000"/>
<path d="M721.4 410.0l2.8 2.8l-2.8 2.8l-2.8 -2.8z" fill="#000"/>
<path d="M721.4 404.2l2.3 2.3l-2.3 2.3l-2.3 -2.3z" fill="#fff" stroke="#222" stroke-width="1.1"/>
<path d="M724.1 397.9l2.3 2.3l-2.3 2.3l-2.3 -2.3z" fill="#fff" stroke="#222" stroke-width="1.1"/>
<path d="M724.1 391.0l2.8 2.8l-2.8 2.8l-2.8 -2.8z" fill="#000"/>
<path d="M724.1 384.7l2.8 2.8l-2.8 2.8l-2.8 -2.8z" fill="#000"/>
<path d="M724.1 378.4l2.8 2.8l-2.8 2.8l-2.8 -2.8z" fill="#000"/>
<path d="M724.1 372.0l2.8 2.8l-2.8 2.8l-2.8 -2.8z" fill="#000"/>
<path d="M724.1 366.2l2.3 2.3l-2.3 2.3l-2.3 -2.3z" fill="#fff" stroke="#222" stroke-width="1.1"/>
<path d="M724.1 359.9l2.3 2.3l-2.3 2.3l-2.3 -2.3z" fill="#fff" stroke="#222" stroke-width="1.1"/>
<path d="M724.1 353.6l2.3 2.3l-2.3 2.3l-2.3 -2.3z" fill="#fff" stroke="#222" stroke-width="1.1"/>
<path d="M727.5 429.0l2.8 2.8l-2.8 2.8l-2.8 -2.8z" fill="#000"/>
<path d="M727.5 423.2l2.3 2.3l-2.3 2.3l-2.3 -2.3z" fill="#fff" stroke="#222" stroke-width="1.1"/>
<path d="M727.5 416.8l2.3 2.3l-2.3 2.3l-2.3 -2.3z" fill="#fff" stroke="#222" stroke-width="1.1"/>
<path d="M727.5 410.5l2.3 2.3l-2.3 2.3l-2.3 -2.3z" fill="#fff" stroke="#222" stroke-width="1.1"/>
<path d="M727.5 403.7l2.8 2.8l-2.8 2.8l-2.8 -2.8z" fill="#000"/>
<path d="M730.8 448.0l2.8 2.8l-2.8 2.8l-2.8 -2.8z" fill="#000"/>
<path d="M730.8 441.7l2.8 2.8l-2.8 2.8l-2.8 -2.8z" fill="#000"/>
<path d="M730.8 435.8l2.3 2.3l-2.3 2.3l-2.3 -2.3z" fill="#fff" stroke="#222" stroke-width="1.1"/>
<path d="M730.8 429.5l2.3 2.3l-2.3 2.3l-2.3 -2.3z" fill="#fff" stroke="#222" stroke-width="1.1"/>
<path d="M730.8 423.2l2.3 2.3l-2.3 2.3l-2.3 -2.3z" fill="#fff" stroke="#222" stroke-width="1.1"/>
<path d="M730.8 416.8l2.3 2.3l-2.3 2.3l-2.3 -2.3z" fill="#fff" stroke="#222" stroke-width="1.1"/>
<path d="M734.2 460.6l2.8 2.8l-2.8 2.8l-2.8 -2.8z" fill="#000"/>
<path d="M734.2 454.3l2.8 2.8l-2.8 2.8l-2.8 -2.8z" fill="#000"/>
<path d="M734.2 448.5l2.3 2.3l-2.3 2.3l-2.3 -2.3z" fill="#fff" stroke="#222" stroke-width="1.1"/>
<path d="M734.2 442.2l2.3 2.3l-2.3 2.3l-2.3 -2.3z" fill="#fff" stroke="#222" stroke-width="1.1"/>
<path d="M734.2 435.8l2.3 2.3l-2.3 2.3l-2.3 -2.3z" fill="#fff" stroke="#222" stroke-width="1.1"/>
<path d="M734.2 429.5l2.3 2.3l-2.3 2.3l-2.3 -2.3z" fill="#fff" stroke="#222" stroke-width="1.1"/>
<path d="M734.2 422.7l2.8 2.8l-2.8 2.8l-2.8 -2.8z" fill="#000"/>
<path d="M768.6 448.5l2.3 2.3l-2.3 2.3l-2.3 -2.3z" fill="#fff" stroke="#222" stroke-width="1.1"/>
<path d="M768.6 441.7l2.8 2.8l-2.8 2.8l-2.8 -2.8z" fill="#000"/>
<path d="M768.6 435.3l2.8 2.8l-2.8 2.8l-2.8 -2.8z" fill="#000"/>
<path d="M768.6 429.0l2.8 2.8l-2.8 2.8l-2.8 -2.8z" fill="#000"/>
<path d="M771.3 461.1l2.3 2.3l-2.3 2.3l-2.3 -2.3z" fill="#fff" stroke="#222" stroke-width="1.1"/>
<path d="M771.3 454.3l2.8 2.8l-2.8 2.8l-2.8 -2.8z" fill="#000"/>
<path d="M771.3 448.0l2.8 2.8l-2.8 2.8l-2.8 -2.8z" fill="#000"/>
<path d="M771.3 441.7l2.8 2.8l-2.8 2.8l-2.8 -2.8z" fill="#000"/>
<path d="M771.3 435.3l2.8 2.8l-2.8 2.8l-2.8 -2.8z" fill="#000"/>
<path d="M773.9 480.1l2.3 2.3l-2.3 2.3l-2.3 -2.3z" fill="#fff" stroke="#222" stroke-width="1.1"/>
<path d="M773.9 473.8l2.3 2.3l-2.3 2.3l-2.3 -2.3z" fill="#fff" stroke="#222" stroke-width="1.1"/>
<path d="M773.9 467.5l2.3 2.3l-2.3 2.3l-2.3 -2.3z" fill="#fff" stroke="#222" stroke-width="1.1"/>
<path d="M773.9 460.6l2.8 2.8l-2.8 2.8l-2.8 -2.8z" fill="#000"/>
<path d="M773.9 454.3l2.8 2.8l-2.8 2.8l-2.8 -2.8z" fill="#000"/>
<path d="M773.9 448.0l2.8 2.8l-2.8 2.8l-2.8 -2.8z" fill="#000"/>
<path d="M778.0 429.0l2.8 2.8l-2.8 2.8l-2.8 -2.8z" fill="#000"/>
<path d="M778.0 422.7l2.8 2.8l-2.8 2.8l-2.8 -2.8z" fill="#000"/>
<path d="M778.0 416.3l2.8 2.8l-2.8 2.8l-2.8 -2.8z" fill="#000"/>
<path d="M778.0 410.0l2.8 2.8l-2.8 2.8l-2.8 -2.8z" fill="#000"/>
<path d="M778.0 404.2l2.3 2.3l-2.3 2.3l-2.3 -2.3z" fill="#fff" stroke="#222" stroke-width="1.1"/>
<path d="M778.0 397.9l2.3 2.3l-2.3 2.3l-2.3 -2.3z" fill="#fff" stroke="#222" stroke-width="1.1"/>
<path d="M778.0 391.5l2.3 2.3l-2.3 2.3l-2.3 -2.3z" fill="#fff" stroke="#222" stroke-width="1.1"/>
<path d="M778.0 385.2l2.3 2.3l-2.3 2.3l-2.3 -2.3z" fill="#fff" stroke="#222" stroke-width="1.1"/>
<path d="M782.0 448.5l2.3 2.3l-2.3 2.3l-2.3 -2.3z" fill="#fff" stroke="#222" stroke-width="1.1"/>
<path d="M782.0 441.7l2.8 2.8l-2.8 2.8l-2.8 -2.8z" fill="#000"/>
<path d="M782.0 435.3l2.8 2.8l-2.8 2.8l-2.8 -2.8z" fill="#000"/>
<path d="M782.0 429.0l2.8 2.8l-2.8 2.8l-2.8 -2.8z" fill="#000"/>
<path d="M782.0 422.7l2.8 2.8l-2.8 2.8l-2.8 -2.8z" fill="#000"/>
<path d="M782.0 416.8l2.3 2.3l-2.3 2.3l-2.3 -2.3z" fill="#fff" stroke="#222" stroke-width="1.1"/>
<path d="M784.7 473.8l2.3 2.3l-2.3 2.3l-2.3 -2.3z" fill="#fff" stroke="#222" stroke-width="1.1"/>
<path d="M784.7 467.5l2.3 2.3l-2.3 2.3l-2.3 -2.3z" fill="#fff" stroke="#222" stroke-width="1.1"/>
<path d="M784.7 461.1l2.3 2.3l-2.3 2.3l-2.3 -2.3z" fill="#fff" stroke="#222" stroke-width="1.1"/>
<path d="M784.7 454.8l2.3 2.3l-2.3 2.3l-2.3 -2.3z" fill="#fff" stroke="#222" stroke-width="1.1"/>
<path d="M784.7 448.0l2.8 2.8l-2.8 2.8l-2.8 -2.8z" fill="#000"/>
<path d="M784.7 441.7l2.8 2.8l-2.8 2.8l-2.8 -2.8z" fill="#000"/>
<path d="M784.7 435.3l2.8 2.8l-2.8 2.8l-2.8 -2.8z" fill="#000"/>
<path d="M786.7 435.3l2.8 2.8l-2.8 2.8l-2.8 -2.8z" fill="#000"/>
<path d="M786.7 429.5l2.3 2.3l-2.3 2.3l-2.3 -2.3z" fill="#fff" stroke="#222" stroke-width="1.1"/>
<path d="M786.7 423.2l2.3 2.3l-2.3 2.3l-2.3 -2.3z" fill="#fff" stroke="#222" stroke-width="1.1"/>
<path d="M786.7 416.8l2.3 2.3l-2.3 2.3l-2.3 -2.3z" fill="#fff" stroke="#222" stroke-width="1.1"/>
<path d="M786.7 410.0l2.8 2.8l-2.8 2.8l-2.8 -2.8z" fill="#000"/>
<path d="M786.7 403.7l2.8 2.8l-2.8 2.8l-2.8 -2.8z" fill="#000"/>
<path d="M786.7 397.4l2.8 2.8l-2.8 2.8l-2.8 -2.8z" fill="#000"/>
<path d="M786.7 391.0l2.8 2.8l-2.8 2.8l-2.8 -2.8z" fill="#000"/>
<path d="M788.8 448.0l2.8 2.8l-2.8 2.8l-2.8 -2.8z" fill="#000"/>
<path d="M788.8 441.7l2.8 2.8l-2.8 2.8l-2.8 -2.8z" fill="#000"/>
<path d="M788.8 435.8l2.3 2.3l-2.3 2.3l-2.3 -2.3z" fill="#fff" stroke="#222" stroke-width="1.1"/>
<path d="M788.8 429.5l2.3 2.3l-2.3 2.3l-2.3 -2.3z" fill="#fff" stroke="#222" stroke-width="1.1"/>
<path d="M788.8 423.2l2.3 2.3l-2.3 2.3l-2.3 -2.3z" fill="#fff" stroke="#222" stroke-width="1.1"/>
<path d="M788.8 416.3l2.8 2.8l-2.8 2.8l-2.8 -2.8z" fill="#000"/>
<path d="M788.8 410.0l2.8 2.8l-2.8 2.8l-2.8 -2.8z" fill="#000"/>
<path d="M788.8 403.7l2.8 2.8l-2.8 2.8l-2.8 -2.8z" fill="#000"/>
<path d="M537.0 429.5l2.3 2.3l-2.3 2.3l-2.3 -2.3z" fill="#fff" stroke="#222" stroke-width="1.1"/>
<path d="M537.0 423.2l2.3 2.3l-2.3 2.3l-2.3 -2.3z" fill="#fff" stroke="#222" stroke-width="1.1"/>
<path d="M537.0 416.8l2.3 2.3l-2.3 2.3l-2.3 -2.3z" fill="#fff" stroke="#222" stroke-width="1.1"/>
<path d="M537.0 410.5l2.3 2.3l-2.3 2.3l-2.3 -2.3z" fill="#fff" stroke="#222" stroke-width="1.1"/>
<path d="M521.9 473.8l2.3 2.3l-2.3 2.3l-2.3 -2.3z" fill="#fff" stroke="#222" stroke-width="1.1"/>
<path d="M562.3 423.2l2.3 2.3l-2.3 2.3l-2.3 -2.3z" fill="#fff" stroke="#222" stroke-width="1.1"/>
<path d="M562.3 416.8l2.3 2.3l-2.3 2.3l-2.3 -2.3z" fill="#fff" stroke="#222" stroke-width="1.1"/>
<path d="M580.8 410.5l2.3 2.3l-2.3 2.3l-2.3 -2.3z" fill="#fff" stroke="#222" stroke-width="1.1"/>
<path d="M580.8 404.2l2.3 2.3l-2.3 2.3l-2.3 -2.3z" fill="#fff" stroke="#222" stroke-width="1.1"/>
<path d="M599.7 397.9l2.3 2.3l-2.3 2.3l-2.3 -2.3z" fill="#fff" stroke="#222" stroke-width="1.1"/>
<path d="M599.7 391.5l2.3 2.3l-2.3 2.3l-2.3 -2.3z" fill="#fff" stroke="#222" stroke-width="1.1"/>
<path d="M599.7 385.2l2.3 2.3l-2.3 2.3l-2.3 -2.3z" fill="#fff" stroke="#222" stroke-width="1.1"/>
<path d="M619.9 410.5l2.3 2.3l-2.3 2.3l-2.3 -2.3z" fill="#fff" stroke="#222" stroke-width="1.1"/>
<path d="M619.9 404.2l2.3 2.3l-2.3 2.3l-2.3 -2.3z" fill="#fff" stroke="#222" stroke-width="1.1"/>
<path d="M636.4 404.2l2.3 2.3l-2.3 2.3l-2.3 -2.3z" fill="#fff" stroke="#222" stroke-width="1.1"/>
<path d="M636.4 397.9l2.3 2.3l-2.3 2.3l-2.3 -2.3z" fill="#fff" stroke="#222" stroke-width="1.1"/>
<path d="M650.6 410.5l2.3 2.3l-2.3 2.3l-2.3 -2.3z" fill="#fff" stroke="#222" stroke-width="1.1"/>
<path d="M650.6 404.2l2.3 2.3l-2.3 2.3l-2.3 -2.3z" fill="#fff" stroke="#222" stroke-width="1.1"/>
<path d="M650.6 397.9l2.3 2.3l-2.3 2.3l-2.3 -2.3z" fill="#fff" stroke="#222" stroke-width="1.1"/>
<path d="M665.2 359.9l2.3 2.3l-2.3 2.3l-2.3 -2.3z" fill="#fff" stroke="#222" stroke-width="1.1"/>
<path d="M665.2 353.6l2.3 2.3l-2.3 2.3l-2.3 -2.3z" fill="#fff" stroke="#222" stroke-width="1.1"/>
<path d="M697.2 359.9l2.3 2.3l-2.3 2.3l-2.3 -2.3z" fill="#fff" stroke="#222" stroke-width="1.1"/>
<path d="M697.2 353.6l2.3 2.3l-2.3 2.3l-2.3 -2.3z" fill="#fff" stroke="#222" stroke-width="1.1"/>
<path d="M708.9 353.6l2.3 2.3l-2.3 2.3l-2.3 -2.3z" fill="#fff" stroke="#222" stroke-width="1.1"/>
<path d="M708.9 347.2l2.3 2.3l-2.3 2.3l-2.3 -2.3z" fill="#fff" stroke="#222" stroke-width="1.1"/>
<path d="M724.1 353.6l2.3 2.3l-2.3 2.3l-2.3 -2.3z" fill="#fff" stroke="#222" stroke-width="1.1"/>
<path d="M692.8 378.9l2.3 2.3l-2.3 2.3l-2.3 -2.3z" fill="#fff" stroke="#222" stroke-width="1.1"/>
<path d="M778.0 385.2l2.3 2.3l-2.3 2.3l-2.3 -2.3z" fill="#fff" stroke="#222" stroke-width="1.1"/>
<path d="M778.0 378.9l2.3 2.3l-2.3 2.3l-2.3 -2.3z" fill="#fff" stroke="#222" stroke-width="1.1"/>
<path d="M784.7 480.1l2.3 2.3l-2.3 2.3l-2.3 -2.3z" fill="#fff" stroke="#222" stroke-width="1.1"/>
<path d="M784.7 473.8l2.3 2.3l-2.3 2.3l-2.3 -2.3z" fill="#fff" stroke="#222" stroke-width="1.1"/>
<path d="M651.7 404.2l2.3 2.3l-2.3 2.3l-2.3 -2.3z" fill="#fff" stroke="#222" stroke-width="1.1"/>
<path d="M651.7 397.9l2.3 2.3l-2.3 2.3l-2.3 -2.3z" fill="#fff" stroke="#222" stroke-width="1.1"/>
<path d="M737.6 423.2l2.3 2.3l-2.3 2.3l-2.3 -2.3z" fill="#fff" stroke="#222" stroke-width="1.1"/>
<path d="M767.9 429.5l2.3 2.3l-2.3 2.3l-2.3 -2.3z" fill="#fff" stroke="#222" stroke-width="1.1"/>
<path d="M767.9 423.2l2.3 2.3l-2.3 2.3l-2.3 -2.3z" fill="#fff" stroke="#222" stroke-width="1.1"/>
<path d="M789.8 448.5l2.3 2.3l-2.3 2.3l-2.3 -2.3z" fill="#fff" stroke="#222" stroke-width="1.1"/>
<path d="M789.8 442.2l2.3 2.3l-2.3 2.3l-2.3 -2.3z" fill="#fff" stroke="#222" stroke-width="1.1"/>
<path d="M789.8 435.8l2.3 2.3l-2.3 2.3l-2.3 -2.3z" fill="#fff" stroke="#222" stroke-width="1.1"/>
<polyline points="503.7,425.9 505.4,448.9 507.0,464.0 508.7,474.0 510.3,480.6 512.0,484.9 513.6,487.8 513.6,487.8 513.9,425.8 515.6,449.8 517.4,465.6 519.1,476.0 520.9,482.9 522.6,487.4 524.4,490.4 524.4,490.4 524.7,427.0 527.9,457.4 531.1,477.4 534.2,490.7 537.4,499.4 540.6,505.1 543.8,508.9 543.8,508.9 544.1,403.3 546.0,436.1 547.9,457.8 549.8,472.0 551.7,481.4 553.6,487.6 555.5,491.7 555.5,491.7 555.8,419.2 557.5,441.8 559.1,456.7 560.8,466.5 562.5,472.9 564.1,477.2 565.8,480.0 565.8,480.0 566.1,424.4 567.6,449.9 569.1,466.7 570.6,477.7 572.2,485.0 573.7,489.8 575.2,493.0 575.2,493.0 575.5,388.8 577.2,429.4 578.8,456.2 580.5,473.9 582.2,485.6 583.8,493.2 585.5,498.3 585.5,498.3 585.8,395.4 587.5,426.1 589.2,446.3 590.9,459.6 592.6,468.4 594.3,474.2 596.0,478.0 596.0,478.0 596.3,425.9 597.1,444.1 597.9,456.1 598.6,464.1 599.4,469.3 600.2,472.7 601.0,475.0 601.0,475.0 601.3,398.9 602.4,428.3 603.5,447.6 604.5,460.4 605.6,468.8 606.7,474.3 607.8,478.0 607.8,478.0 608.1,355.2 609.4,397.8 610.8,425.9 612.1,444.4 613.5,456.6 614.9,464.7 616.2,470.0 616.2,470.0 616.5,377.0 617.2,410.8 617.9,433.1 618.5,447.7 619.2,457.4 619.9,463.8 620.6,468.0 620.6,468.0 620.9,390.5 621.5,420.0 622.1,439.5 622.8,452.3 623.4,460.8 624.0,466.3 624.6,470.0 624.6,470.0 624.9,373.7 625.7,410.2 626.5,434.2 627.3,450.1 628.1,460.6 628.9,467.5 629.7,472.0 629.7,472.0 630.0,355.2 631.2,397.1 632.5,424.7 633.7,442.9 634.9,454.9 636.2,462.8 637.4,468.0 637.4,468.0 637.7,343.4 638.9,392.3 640.1,424.5 641.2,445.7 642.4,459.7 643.6,468.9 644.8,475.0 644.8,475.0 645.1,434.3 646.2,451.3 647.3,462.4 648.3,469.8 649.4,474.7 650.5,477.9 651.6,480.0 651.6,480.0 651.9,414.1 652.1,437.8 652.4,453.5 652.6,463.8 652.9,470.6 653.1,475.0 653.4,478.0 653.4,478.0 653.7,417.0 654.5,436.7 655.3,449.6 656.0,458.2 656.8,463.8 657.6,467.6 658.4,470.0 658.4,470.0 658.7,410.7 659.5,435.7 660.3,452.2 661.1,463.0 661.9,470.2 662.7,474.9 663.5,478.0 663.5,478.0 663.8,388.8 664.6,419.7 665.4,440.0 666.1,453.5 666.9,462.3 667.7,468.2 668.5,472.0 668.5,472.0 668.8,390.5 669.6,423.7 670.4,445.6 671.2,460.1 672.0,469.6 672.8,475.9 673.6,480.0 673.6,480.0 673.9,407.4 675.2,435.1 676.6,453.4 677.9,465.4 679.3,473.3 680.6,478.6 682.0,482.0 682.0,482.0 682.3,367.0 682.8,407.1 683.3,433.5 683.8,450.9 684.4,462.4 684.9,470.0 685.4,475.0 685.4,475.0 685.7,383.8 686.5,418.8 687.3,441.8 688.0,457.0 688.8,467.0 689.6,473.6 690.4,478.0 690.4,478.0 690.7,393.9 691.8,426.6 692.9,448.2 693.9,462.4 695.0,471.8 696.1,477.9 697.2,482.0 697.2,482.0 697.5,407.4 698.6,433.6 699.6,450.9 700.7,462.3 701.8,469.8 702.8,474.7 703.9,478.0 703.9,478.0 704.2,400.6 705.3,428.2 706.3,446.4 707.4,458.4 708.5,466.3 709.5,471.6 710.6,475.0 710.6,475.0 710.9,414.1 712.0,438.6 713.1,454.7 714.1,465.3 715.2,472.3 716.3,477.0 717.4,480.0 717.4,480.0 717.7,424.2 718.5,444.2 719.3,457.3 720.0,466.0 720.8,471.7 721.6,475.5 722.4,478.0 722.4,478.0 722.7,404.0 723.8,433.0 724.9,452.0 725.9,464.6 727.0,472.9 728.1,478.4 729.2,482.0 729.2,482.0 729.5,402.3 730.6,432.6 731.6,452.6 732.7,465.8 733.8,474.5 734.8,480.2 735.9,484.0 735.9,484.0 736.2,420.8 737.3,442.0 738.3,456.0 739.4,465.3 740.5,471.3 741.5,475.4 742.6,478.0 742.6,478.0 742.9,425.9 743.7,446.0 744.5,459.2 745.3,468.0 746.1,473.7 746.9,477.5 747.7,480.0 747.7,480.0 748.0,420.8 748.8,442.0 749.6,456.0 750.4,465.3 751.1,471.3 751.9,475.4 752.7,478.0 752.7,478.0 753.0,402.3 753.8,431.7 754.5,451.0 755.2,463.8 756.0,472.2 756.8,477.7 757.5,481.4 762.8,505.0 764.5,444.4 767.0,470.0 769.6,474.0 771.0,478.0 773.0,470.0 776.3,491.6 783.0,511.8 789.8,530.3" fill="none" stroke="#6aab3c" stroke-width="1.5" stroke-linejoin="round"/>
<line x1="501.5" y1="419.40" x2="789.8" y2="419.40" stroke="#00b050" stroke-width="1"/>
<line x1="501.5" y1="529.00" x2="789.8" y2="529.00" stroke="#ffb4b4" stroke-width="1.5"/>
</g>
<line x1="501.7" y1="342.7" x2="501.7" y2="565.2" stroke="#666" stroke-width="1"/>
<line x1="809.5" y1="342.7" x2="809.5" y2="565.2" stroke="#555" stroke-width="1"/>
<line x1="501.2" y1="343.2" x2="810.0" y2="343.2" stroke="#444" stroke-width="1"/>
<line x1="501.2" y1="564.7" x2="810.0" y2="564.7" stroke="#666" stroke-width="1"/>
<path d="M501.5 564.70h3.2M809.5 564.70h-3.2" stroke="#333" stroke-width="1"/>
<text transform="translate(493.8,572.40) scale(0.965,1.09)" text-anchor="end" class="tk">0.1</text>
<path d="M501.5 501.41h3.2M809.5 501.41h-3.2" stroke="#333" stroke-width="1"/>
<text transform="translate(493.8,509.11) scale(0.965,1.09)" text-anchor="end" class="tk">0.2</text>
<path d="M501.5 438.13h3.2M809.5 438.13h-3.2" stroke="#333" stroke-width="1"/>
<text transform="translate(493.8,445.83) scale(0.965,1.09)" text-anchor="end" class="tk">0.3</text>
<path d="M501.5 374.84h3.2M809.5 374.84h-3.2" stroke="#333" stroke-width="1"/>
<text transform="translate(493.8,382.54) scale(0.965,1.09)" text-anchor="end" class="tk">0.4</text>
<path d="M501.50 564.7v-3.2M501.50 343.2v3.2" stroke="#333" stroke-width="1"/>
<text transform="translate(501.50,589.70) scale(0.985,1.09)" text-anchor="middle" class="tk">Apr 28</text>
<path d="M578.50 564.7v-3.2M578.50 343.2v3.2" stroke="#333" stroke-width="1"/>
<text transform="translate(578.50,589.70) scale(0.985,1.09)" text-anchor="middle" class="tk">May 12</text>
<path d="M655.50 564.7v-3.2M655.50 343.2v3.2" stroke="#333" stroke-width="1"/>
<text transform="translate(655.50,589.70) scale(0.985,1.09)" text-anchor="middle" class="tk">May 26</text>
<path d="M732.50 564.7v-3.2M732.50 343.2v3.2" stroke="#333" stroke-width="1"/>
<text transform="translate(732.50,589.70) scale(0.985,1.09)" text-anchor="middle" class="tk">Jun 09</text>
<path d="M809.50 564.7v-3.2M809.50 343.2v3.2" stroke="#333" stroke-width="1"/>
<text transform="translate(809.50,589.70) scale(0.985,1.09)" text-anchor="middle" class="tk">Jun 23</text>
<text transform="translate(775.00,613.80) scale(0.985,1.09)" text-anchor="middle" class="tk">2017</text>
<text x="655.50" y="338.00" text-anchor="middle" class="ti">Tomatoes 2017</text>
<text transform="translate(460.9,454.8) rotate(-90)" text-anchor="middle" class="yl">SM [m<tspan class="sup" dy="-10.7">3</tspan><tspan dy="10.7"> m</tspan><tspan class="sup" dy="-10.7">-3</tspan><tspan dy="10.7">]</tspan></text>
<line x1="931.5" y1="490.87" x2="1239.5" y2="490.87" stroke="#e2e2e2" stroke-width="1"/>
<line x1="931.5" y1="417.03" x2="1239.5" y2="417.03" stroke="#e2e2e2" stroke-width="1"/>
<line x1="1055.78" y1="343.2" x2="1055.78" y2="564.7" stroke="#e2e2e2" stroke-width="1"/>
<line x1="1178.04" y1="343.2" x2="1178.04" y2="564.7" stroke="#e2e2e2" stroke-width="1"/>
<clipPath id="c6"><rect x="931.5" y="343.2" width="308.0" height="222.50000000000006"/></clipPath>
<g clip-path="url(#c6)">
<polyline points="973.8,524.6 978.8,525.9 983.9,523.6 988.9,525.2 994.0,524.6 999.0,520.2 1004.1,521.9 1010.8,523.6 1015.9,521.9 1018.2,515.1 1020.3,510.1" fill="none" stroke="#000" stroke-width="8.5" stroke-linejoin="round" stroke-linecap="round"/>
<polyline points="1024.0,469.7 1024.0,483.1" fill="none" stroke="#000" stroke-width="5" stroke-linejoin="round" stroke-linecap="round"/>
<polyline points="1025.0,409.0 1028.3,424.2 1031.0,437.7 1034.4,447.8 1039.5,452.8 1044.5,456.2 1049.6,461.3 1053.9,468.0 1057.3,469.7" fill="none" stroke="#000" stroke-width="8" stroke-linejoin="round" stroke-linecap="round"/>
<polyline points="1059.0,444.4 1060.7,437.7 1062.0,430.9" fill="none" stroke="#000" stroke-width="6" stroke-linejoin="round" stroke-linecap="round"/>
<polyline points="1064.1,432.6 1066.4,441.0 1068.8,444.4" fill="none" stroke="#000" stroke-width="5" stroke-linejoin="round" stroke-linecap="round"/>
<polyline points="1092.8,393.9 1098.5,395.6 1100.2,407.4 1102.6,424.2 1104.3,437.7" fill="none" stroke="#000" stroke-width="6" stroke-linejoin="round" stroke-linecap="round"/>
<polyline points="1105.3,441.0 1110.3,447.8 1113.7,454.5 1117.0,461.3" fill="none" stroke="#000" stroke-width="6" stroke-linejoin="round" stroke-linecap="round"/>
<polyline points="1120.4,488.2 1127.2,496.6 1133.9,501.7 1140.6,501.7 1147.4,508.4 1152.4,510.1" fill="none" stroke="#000" stroke-width="7.5" stroke-linejoin="round" stroke-linecap="round"/>
<polyline points="1150.7,424.2 1151.7,441.0 1152.8,461.3 1154.1,481.5 1156.8,489.9 1162.5,494.9 1166.9,498.3" fill="none" stroke="#000" stroke-width="5.5" stroke-linejoin="round" stroke-linecap="round"/>
<polyline points="1168.2,454.5 1172.6,464.6 1177.7,474.7 1182.7,488.2 1187.8,501.7 1192.8,511.8 1198.6,520.2 1200.6,523.6" fill="none" stroke="#000" stroke-width="7.5" stroke-linejoin="round" stroke-linecap="round"/>
<polyline points="1222.1,513.5 1226.5,520.2 1231.6,525.2 1236.6,530.3 1240.0,532.0" fill="none" stroke="#000" stroke-width="6" stroke-linejoin="round" stroke-linecap="round"/>
<path d="M1025.0 397.4l2.6 2.6l-2.6 2.6l-2.6 -2.6z" fill="#fff" stroke="#222" stroke-width="1"/>
<path d="M1025.0 406.4l2.6 2.6l-2.6 2.6l-2.6 -2.6z" fill="#fff" stroke="#222" stroke-width="1"/>
<path d="M1089.0 397.4l2.6 2.6l-2.6 2.6l-2.6 -2.6z" fill="#fff" stroke="#222" stroke-width="1"/>
<path d="M1098.5 387.9l2.6 2.6l-2.6 2.6l-2.6 -2.6z" fill="#fff" stroke="#222" stroke-width="1"/>
<path d="M1167.6 465.4l2.6 2.6l-2.6 2.6l-2.6 -2.6z" fill="#fff" stroke="#222" stroke-width="1"/>
<path d="M1166.2 473.8l2.6 2.6l-2.6 2.6l-2.6 -2.6z" fill="#fff" stroke="#222" stroke-width="1"/>
<polyline points="992.3,525.2 997.4,535.4 1000.7,550.5 1004.1,542.1 1009.2,547.1 1010.2,410.7 1012.5,447.8 1015.9,454.5 1019.3,457.9 1020.9,468.0 1022.6,454.5 1026.0,471.4 1029.4,474.7 1034.4,468.0 1037.8,481.5 1042.8,484.8 1047.2,489.9 1047.9,373.7 1051.3,414.1 1056.3,434.3 1059.7,437.7 1063.0,441.0 1066.4,400.6 1071.5,444.4 1076.5,355.2 1079.9,407.4 1084.9,430.9 1090.0,441.0 1083.4,400.6 1088.4,447.8 1093.5,474.7 1096.8,424.2 1100.2,441.0 1105.3,474.7 1110.3,488.2 1115.4,515.1 1118.7,498.3 1122.1,518.5 1127.2,498.3 1130.5,535.4 1135.6,501.7 1138.9,535.4 1145.7,442.7 1149.0,474.7 1152.4,515.1" fill="none" stroke="#a3a3a3" stroke-width="1.6" stroke-linejoin="round"/>
<polyline points="992.3,515.1 994.0,496.6 997.4,505.0 999.0,498.3 1002.4,515.1 1007.5,528.6 1009.2,538.7 1012.5,521.9 1015.9,542.1 1020.9,540.4 1022.6,484.8 1024.3,410.7 1027.7,430.9 1031.0,454.5 1034.4,464.6 1037.8,454.5 1042.8,468.0 1047.9,478.1 1052.9,468.0 1058.0,474.7 1061.4,491.6 1062.4,375.4 1066.4,414.1 1071.5,441.0 1078.2,468.0 1081.6,407.4 1084.9,424.2 1090.0,447.8 1083.4,407.4 1086.7,420.8 1090.8,355.2 1095.2,424.2 1100.2,400.6 1103.6,441.0 1106.9,451.1 1112.0,404.0 1115.4,424.2 1118.7,464.6 1122.1,481.5 1125.5,501.7 1128.8,511.8 1132.2,521.9 1135.6,491.6 1138.9,525.2 1142.3,501.7 1145.7,532.0 1149.0,481.5 1152.4,535.4 1155.8,481.5 1159.2,532.0 1160.8,441.0 1164.2,468.0 1165.9,484.8" fill="none" stroke="#6aab3c" stroke-width="1.5" stroke-linejoin="round"/>
<line x1="973.1" y1="394.88" x2="1239.5" y2="394.88" stroke="#00b050" stroke-width="1"/>
<line x1="973.1" y1="522.40" x2="1239.5" y2="522.40" stroke="#ff2020" stroke-width="1"/>
</g>
<line x1="931.5" y1="342.7" x2="931.5" y2="565.2" stroke="#666" stroke-width="1"/>
<line x1="1239.2" y1="342.7" x2="1239.2" y2="565.2" stroke="#444" stroke-width="1"/>
<line x1="931.0" y1="343.2" x2="1239.7" y2="343.2" stroke="#444" stroke-width="1"/>
<line x1="931.0" y1="564.7" x2="1239.7" y2="564.7" stroke="#666" stroke-width="1"/>
<path d="M931.5 564.70h3.2M1239.5 564.70h-3.2" stroke="#333" stroke-width="1"/>
<text transform="translate(923.8,572.40) scale(0.965,1.09)" text-anchor="end" class="tk">0.1</text>
<path d="M931.5 490.87h3.2M1239.5 490.87h-3.2" stroke="#333" stroke-width="1"/>
<text transform="translate(923.8,498.57) scale(0.965,1.09)" text-anchor="end" class="tk">0.2</text>
<path d="M931.5 417.03h3.2M1239.5 417.03h-3.2" stroke="#333" stroke-width="1"/>
<text transform="translate(923.8,424.73) scale(0.965,1.09)" text-anchor="end" class="tk">0.3</text>
<path d="M931.5 343.20h3.2M1239.5 343.20h-3.2" stroke="#333" stroke-width="1"/>
<text transform="translate(923.8,350.90) scale(0.965,1.09)" text-anchor="end" class="tk">0.4</text>
<path d="M931.50 564.7v-3.2M931.50 343.2v3.2" stroke="#333" stroke-width="1"/>
<text transform="translate(931.50,589.70) scale(0.985,1.09)" text-anchor="middle" class="tk">Jul 2017</text>
<path d="M1055.78 564.7v-3.2M1055.78 343.2v3.2" stroke="#333" stroke-width="1"/>
<text transform="translate(1055.78,589.70) scale(0.985,1.09)" text-anchor="middle" class="tk">Jan 2018</text>
<path d="M1178.04 564.7v-3.2M1178.04 343.2v3.2" stroke="#333" stroke-width="1"/>
<text transform="translate(1178.04,589.70) scale(0.985,1.09)" text-anchor="middle" class="tk">Jul 2018</text>
<text x="1085.50" y="338.00" text-anchor="middle" class="ti">Wheat 2017-2018</text>
<text transform="translate(889.9,454.3) rotate(-90)" text-anchor="middle" class="yl">SM [m<tspan class="sup" dy="-10.7">3</tspan><tspan dy="10.7"> m</tspan><tspan class="sup" dy="-10.7">-3</tspan><tspan dy="10.7">]</tspan></text>

<path d="M123.3 650.6L128.8 656.1L123.3 661.6L117.8 656.1Z" fill="#000"/>
<text x="142.5" y="665" class="lg" textLength="150.5" lengthAdjust="spacingAndGlyphs">SM observed</text>
<line x1="339.5" y1="656.2" x2="370.5" y2="656.2" stroke="#00b050" stroke-width="4" stroke-linecap="round"/>
<text x="374" y="665" class="lg" textLength="19.5" lengthAdjust="spacingAndGlyphs">fc</text>
<line x1="439.5" y1="656.4" x2="470.5" y2="656.4" stroke="#ff0000" stroke-width="4" stroke-linecap="round"/>
<text x="474.5" y="665" class="lg" textLength="34" lengthAdjust="spacingAndGlyphs">wp</text>
<line x1="553" y1="655.6" x2="586.2" y2="655.6" stroke="#777" stroke-width="2.4"/>
<text x="590" y="665" class="lg" textLength="285" lengthAdjust="spacingAndGlyphs">FEST-EWB not calibrated</text>
<line x1="920.7" y1="655.7" x2="953.9" y2="655.7" stroke="#6aa832" stroke-width="2.4"/>
<text x="956.5" y="665" class="lg" textLength="239" lengthAdjust="spacingAndGlyphs">FEST-EWB calibrated</text>

</svg>
</body></html>
